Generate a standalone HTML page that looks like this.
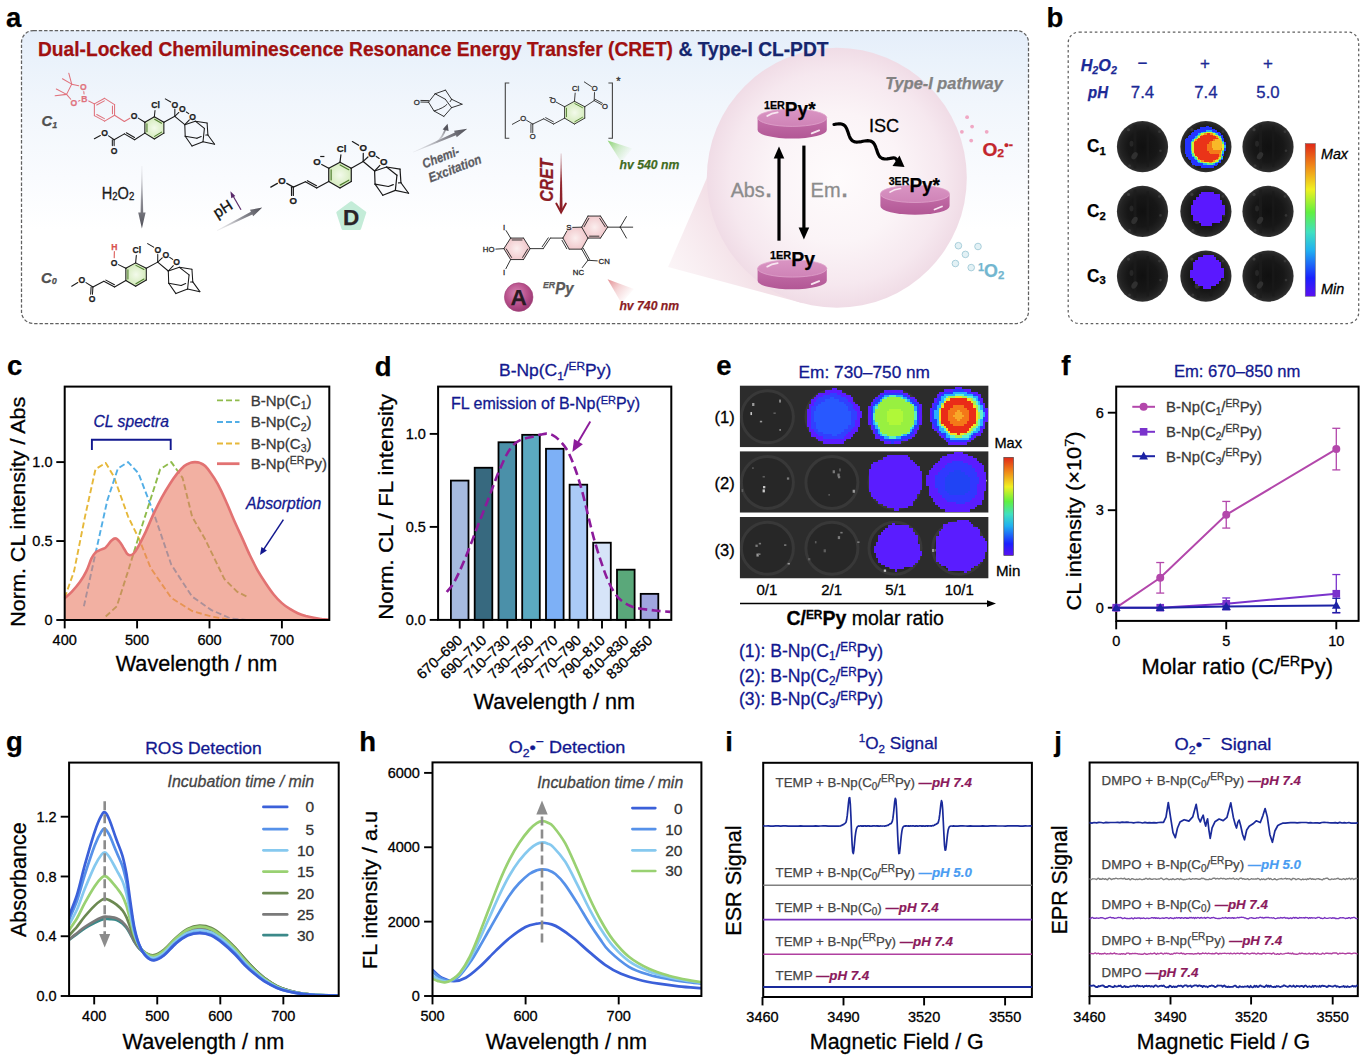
<!DOCTYPE html>
<html><head><meta charset="utf-8"><title>Figure</title>
<style>html,body{margin:0;padding:0;background:#fff;}body{width:1367px;height:1062px;overflow:hidden;}svg{display:block;font-family:"Liberation Sans",sans-serif;}text{white-space:pre;}</style></head>
<body>
<svg width="1367" height="1062" viewBox="0 0 1367 1062">
<defs>
<linearGradient id="bgA" x1="0" y1="0" x2="0" y2="1"><stop offset="0" stop-color="#e5eefa"/><stop offset="0.1" stop-color="#eaf2fb"/><stop offset="0.25" stop-color="#f1f6fc"/><stop offset="0.5" stop-color="#f9fbfe"/><stop offset="0.68" stop-color="#ffffff"/><stop offset="1" stop-color="#ffffff"/></linearGradient>
<linearGradient id="cone" gradientUnits="userSpaceOnUse" x1="668" y1="267" x2="730" y2="230"><stop offset="0" stop-color="#f8ecf0" stop-opacity="0.55"/><stop offset="1" stop-color="#f3e0e7" stop-opacity="1"/></linearGradient>
<radialGradient id="bigc" cx="50%" cy="50%" r="50%"><stop offset="0" stop-color="#fefbfc"/><stop offset="0.5" stop-color="#fbf4f7"/><stop offset="0.82" stop-color="#f6e8ef"/><stop offset="1" stop-color="#f0dce6"/></radialGradient>
<linearGradient id="discTop" x1="0" y1="0" x2="0" y2="1"><stop offset="0" stop-color="#d995c3"/><stop offset="1" stop-color="#cf83b7"/></linearGradient>
<linearGradient id="discSide" x1="0" y1="0" x2="0" y2="1"><stop offset="0" stop-color="#c46fa9"/><stop offset="1" stop-color="#b25795"/></linearGradient>
<radialGradient id="gC1" gradientUnits="userSpaceOnUse" cx="154.4" cy="127.9" r="11"><stop offset="0" stop-color="#f3faeb"/><stop offset="1" stop-color="#d3ebba"/></radialGradient>
<radialGradient id="gC0" gradientUnits="userSpaceOnUse" cx="136.1" cy="274.6" r="11"><stop offset="0" stop-color="#f3faeb"/><stop offset="1" stop-color="#d3ebba"/></radialGradient>
<radialGradient id="gD" gradientUnits="userSpaceOnUse" cx="340.0" cy="175.1" r="13"><stop offset="0" stop-color="#f3faeb"/><stop offset="1" stop-color="#d3ebba"/></radialGradient>
<radialGradient id="gE" gradientUnits="userSpaceOnUse" cx="574.7" cy="112.7" r="11"><stop offset="0" stop-color="#f3faeb"/><stop offset="1" stop-color="#d3ebba"/></radialGradient>
<radialGradient id="gP1" gradientUnits="userSpaceOnUse" cx="516.8" cy="248.6" r="13"><stop offset="0" stop-color="#fbeeee"/><stop offset="1" stop-color="#f0c4c8"/></radialGradient>
<radialGradient id="gP2" gradientUnits="userSpaceOnUse" cx="575.4" cy="238.1" r="13"><stop offset="0" stop-color="#fbeeee"/><stop offset="1" stop-color="#f0c4c8"/></radialGradient>
<radialGradient id="gP3" gradientUnits="userSpaceOnUse" cx="594.7" cy="227.2" r="13"><stop offset="0" stop-color="#fbeeee"/><stop offset="1" stop-color="#f0c4c8"/></radialGradient>
<linearGradient id="gaH" gradientUnits="userSpaceOnUse" x1="141.9" y1="166.0" x2="141.9" y2="228.5"><stop offset="0" stop-color="#c9c9cf" stop-opacity="0.25"/><stop offset="0.55" stop-color="#8a8a92" stop-opacity="0.95"/><stop offset="1" stop-color="#4e4e56"/></linearGradient>
<linearGradient id="gaP" gradientUnits="userSpaceOnUse" x1="217.0" y1="230.6" x2="262.3" y2="207.6"><stop offset="0" stop-color="#c9c9cf" stop-opacity="0.25"/><stop offset="0.55" stop-color="#8a8a92" stop-opacity="0.95"/><stop offset="1" stop-color="#4e4e56"/></linearGradient>
<linearGradient id="gaC2" gradientUnits="userSpaceOnUse" x1="437" y1="143" x2="447" y2="124"><stop offset="0" stop-color="#b5b5bb" stop-opacity="0.3"/><stop offset="1" stop-color="#55555d"/></linearGradient>
<linearGradient id="gaC" gradientUnits="userSpaceOnUse" x1="413.0" y1="152.2" x2="467.3" y2="128.8"><stop offset="0" stop-color="#c9c9cf" stop-opacity="0.25"/><stop offset="0.55" stop-color="#8a8a92" stop-opacity="0.95"/><stop offset="1" stop-color="#4e4e56"/></linearGradient>
<linearGradient id="gaR" gradientUnits="userSpaceOnUse" x1="561" y1="153" x2="561" y2="213"><stop offset="0" stop-color="#8b1c24" stop-opacity="0.25"/><stop offset="0.5" stop-color="#8b1c24" stop-opacity="0.95"/><stop offset="1" stop-color="#8b1c24"/></linearGradient>
<linearGradient id="bmG" gradientUnits="userSpaceOnUse" x1="607.6" y1="140.5" x2="628.1" y2="156.5"><stop offset="0" stop-color="#86d06a" stop-opacity="0.95"/><stop offset="0.5" stop-color="#86d06a" stop-opacity="0.35"/><stop offset="1" stop-color="#86d06a" stop-opacity="0"/></linearGradient>
<linearGradient id="bmR" gradientUnits="userSpaceOnUse" x1="607.6" y1="279.3" x2="629.0" y2="297.3"><stop offset="0" stop-color="#e28a8e" stop-opacity="0.95"/><stop offset="0.5" stop-color="#e28a8e" stop-opacity="0.35"/><stop offset="1" stop-color="#e28a8e" stop-opacity="0"/></linearGradient>
<radialGradient id="Ac" cx="42%" cy="38%" r="62%"><stop offset="0" stop-color="#d788b4"/><stop offset="0.6" stop-color="#b9518c"/><stop offset="1" stop-color="#9c3a74"/></radialGradient>
<linearGradient id="jetB" x1="0" y1="0" x2="0" y2="1"><stop offset="0.00" stop-color="#e02818"/><stop offset="0.15" stop-color="#f08a18"/><stop offset="0.30" stop-color="#f0f020"/><stop offset="0.45" stop-color="#60f040"/><stop offset="0.58" stop-color="#40e0c0"/><stop offset="0.70" stop-color="#20b0f0"/><stop offset="0.88" stop-color="#1a20ff"/><stop offset="1.00" stop-color="#5a10f0"/></linearGradient>
<radialGradient id="well" cx="50%" cy="50%" r="50%"><stop offset="0" stop-color="#101010"/><stop offset="0.6" stop-color="#171717"/><stop offset="0.85" stop-color="#222222"/><stop offset="0.96" stop-color="#2c2c2c"/><stop offset="1" stop-color="#383838"/></radialGradient>
<linearGradient id="jetE" x1="0" y1="0" x2="0" y2="1"><stop offset="0.00" stop-color="#e02818"/><stop offset="0.15" stop-color="#f08a18"/><stop offset="0.30" stop-color="#f0f020"/><stop offset="0.45" stop-color="#60f040"/><stop offset="0.58" stop-color="#40e0c0"/><stop offset="0.70" stop-color="#20b0f0"/><stop offset="0.88" stop-color="#1a20ff"/><stop offset="1.00" stop-color="#5a10f0"/></linearGradient>
<clipPath id="clipE"><rect x="739.7" y="385.4" width="248.9" height="61.9"/><rect x="739.7" y="451.2" width="248.9" height="61.5"/><rect x="739.7" y="517" width="248.9" height="61.5"/></clipPath>
</defs>
<text x="6.00" y="27.30" font-size="27.5" font-weight="bold" stroke="#000" stroke-width="0.25">a</text>
<rect x="21.50" y="30.50" width="1007.00" height="293.00" fill="url(#bgA)" stroke="#606060" stroke-width="1.25" rx="12" stroke-dasharray="3.4 1.9"/>
<polygon points="668.1,267.1 727.9,129.5 836,178 803.1,303.3" fill="url(#cone)"/>
<circle cx="836.80" cy="177.80" r="130.00" fill="url(#bigc)" stroke="none" stroke-width="1" />
<text x="38.00" y="55.80" font-size="19.5" font-weight="bold" fill="#a01010" textLength="635.0" lengthAdjust="spacingAndGlyphs" stroke="#a01010" stroke-width="0.25">Dual-Locked Chemiluminescence Resonance Energy Transfer (CRET)</text>
<text x="678.50" y="55.80" font-size="19.5" font-weight="bold" fill="#16266e" textLength="150.0" lengthAdjust="spacingAndGlyphs" stroke="#16266e" stroke-width="0.25">&amp; Type-I CL-PDT</text>
<path d="M757.6,117.8 L757.6,130.0 A34.6,8.6 0 0 0 826.8,130.0 L826.8,117.8 Z" fill="url(#discSide)"/>
<ellipse cx="792.2" cy="117.8" rx="34.6" ry="8.6" fill="url(#discTop)" stroke="#dfa3cc" stroke-width="0.8"/>
<path d="M767.2,116.0 Q771.2,113.2 777.7,112.4" stroke="#f8e6f1" stroke-width="1.7" fill="none" stroke-linecap="round"/>
<path d="M811.7,133.4 L819.2,130.4" stroke="#f8e6f1" stroke-width="1.8" fill="none" stroke-linecap="round"/>
<path d="M757.6,268.5 L757.6,280.7 A34.6,8.6 0 0 0 826.8,280.7 L826.8,268.5 Z" fill="url(#discSide)"/>
<ellipse cx="792.2" cy="268.5" rx="34.6" ry="8.6" fill="url(#discTop)" stroke="#dfa3cc" stroke-width="0.8"/>
<path d="M767.2,266.7 Q771.2,263.9 777.7,263.1" stroke="#f8e6f1" stroke-width="1.7" fill="none" stroke-linecap="round"/>
<path d="M811.7,284.1 L819.2,281.1" stroke="#f8e6f1" stroke-width="1.8" fill="none" stroke-linecap="round"/>
<path d="M880.4,193.9 L880.4,206.1 A34.6,8.6 0 0 0 949.6,206.1 L949.6,193.9 Z" fill="url(#discSide)"/>
<ellipse cx="915.0" cy="193.9" rx="34.6" ry="8.6" fill="url(#discTop)" stroke="#dfa3cc" stroke-width="0.8"/>
<path d="M890.0,192.1 Q894.0,189.3 900.5,188.5" stroke="#f8e6f1" stroke-width="1.7" fill="none" stroke-linecap="round"/>
<path d="M934.5,209.5 L942.0,206.5" stroke="#f8e6f1" stroke-width="1.8" fill="none" stroke-linecap="round"/>
<text x="764.00" y="116.30" font-size="20.5" font-weight="bold" textLength="51.6" lengthAdjust="spacingAndGlyphs" stroke="#000" stroke-width="0.25"><tspan font-size="11.5" dy="-7">1ER</tspan><tspan dy="7">Py*</tspan></text>
<text x="770.00" y="265.50" font-size="20.5" font-weight="bold" textLength="45.0" lengthAdjust="spacingAndGlyphs" stroke="#000" stroke-width="0.25"><tspan font-size="11.5" dy="-7">1ER</tspan><tspan dy="7">Py</tspan></text>
<text x="888.70" y="192.40" font-size="20.5" font-weight="bold" textLength="51.3" lengthAdjust="spacingAndGlyphs" stroke="#000" stroke-width="0.25"><tspan font-size="11.5" dy="-7">3ER</tspan><tspan dy="7">Py*</tspan></text>
<line x1="779.00" y1="240.70" x2="779.00" y2="158.00" stroke="#000" stroke-width="3.2" />
<polygon points="779.0,146.5 784.3,158.5 773.7,158.5" fill="#000"/>
<line x1="803.90" y1="145.60" x2="803.90" y2="228.10" stroke="#000" stroke-width="3.2" />
<polygon points="803.9,239.6 798.6,227.6 809.2,227.6" fill="#000"/>
<text x="730.70" y="196.80" font-size="20.5" fill="#8c8c8c" textLength="34.0" lengthAdjust="spacingAndGlyphs" stroke="#8c8c8c" stroke-width="0.3">Abs</text>
<text x="765.50" y="196.80" font-size="22" font-weight="bold" fill="#8c8c8c" stroke="#8c8c8c" stroke-width="0.25">.</text>
<text x="810.60" y="196.80" font-size="20.5" fill="#8c8c8c" textLength="30.0" lengthAdjust="spacingAndGlyphs" stroke="#8c8c8c" stroke-width="0.3">Em</text>
<text x="841.60" y="196.80" font-size="22" font-weight="bold" fill="#8c8c8c" stroke="#8c8c8c" stroke-width="0.25">.</text>
<text x="869.00" y="132.40" font-size="18.5" textLength="30.2" lengthAdjust="spacingAndGlyphs" stroke="#000" stroke-width="0.3">ISC</text>
<path d="M834.0,124.5 L835.6,124.2 L837.2,124.0 L838.7,123.8 L840.2,123.8 L841.5,124.0 L842.7,124.4 L843.8,125.0 L844.8,125.8 L845.6,126.8 L846.3,128.0 L847.0,129.4 L847.5,130.9 L848.1,132.4 L848.6,134.0 L849.1,135.5 L849.7,137.0 L850.3,138.3 L851.1,139.4 L852.0,140.4 L853.0,141.1 L854.1,141.6 L855.4,142.0 L856.7,142.1 L858.2,142.0 L859.8,141.8 L861.4,141.6 L863.0,141.3 L864.6,141.0 L866.2,140.8 L867.7,140.7 L869.1,140.8 L870.4,141.0 L871.5,141.5 L872.6,142.1 L873.5,143.0 L874.3,144.1 L875.0,145.4 L875.6,146.8 L876.1,148.3 L876.7,149.8 L877.2,151.4 L877.7,152.9 L878.3,154.3 L879.0,155.6 L879.8,156.7 L880.7,157.5 L881.8,158.2 L883.0,158.7 L884.3,158.9 L885.7,159.0 L887.2,158.9 L888.7,158.7 L890.3,158.4 L892.0,158.1 L893.6,157.8 L894.9,158.0 L895.9,158.7 L896.7,159.8 L897.4,161.1 L898.0,162.5" fill="none" stroke="#000" stroke-width="3.2" stroke-linejoin="round" stroke-linecap="round"/>
<polygon points="904.5,167 892.5,166 899.5,155.5" fill="#000"/>
<text x="885.20" y="88.50" font-size="17.3" font-weight="bold" font-style="italic" fill="#828282" textLength="117.6" lengthAdjust="spacingAndGlyphs" stroke="#828282" stroke-width="0.25">Type-I pathway</text>
<text x="982.40" y="155.80" font-size="18" font-weight="bold" fill="#c3262c" textLength="30.5" lengthAdjust="spacingAndGlyphs" stroke="#c3262c" stroke-width="0.25">O<tspan font-size="11.5" dy="1.5">2</tspan><tspan dy="-1.5" font-size="1">&#8203;</tspan><tspan font-size="12" dy="-7">•-</tspan></text>
<circle cx="967.10" cy="117.20" r="1.90" fill="#f0a8c4" stroke="none" stroke-width="1" />
<circle cx="972.10" cy="126.60" r="1.90" fill="#f0a8c4" stroke="none" stroke-width="1" />
<circle cx="961.90" cy="131.80" r="1.90" fill="#f0a8c4" stroke="none" stroke-width="1" />
<circle cx="986.70" cy="131.80" r="1.90" fill="#f0a8c4" stroke="none" stroke-width="1" />
<circle cx="971.20" cy="140.60" r="1.90" fill="#f0a8c4" stroke="none" stroke-width="1" />
<text x="978.00" y="277.30" font-size="18" font-weight="bold" fill="#72b6cf" textLength="26.3" lengthAdjust="spacingAndGlyphs" stroke="#72b6cf" stroke-width="0.25"><tspan font-size="11" dy="-6">1</tspan><tspan dy="6">O</tspan><tspan font-size="11.5" dy="1.5">2</tspan><tspan dy="-1.5" font-size="1">&#8203;</tspan></text>
<circle cx="958.40" cy="245.70" r="3.30" fill="#e3f1f5" stroke="#a9cfdb" stroke-width="1" />
<circle cx="978.00" cy="246.50" r="3.30" fill="#e3f1f5" stroke="#a9cfdb" stroke-width="1" />
<circle cx="965.40" cy="254.40" r="3.30" fill="#e3f1f5" stroke="#a9cfdb" stroke-width="1" />
<circle cx="955.40" cy="263.50" r="3.30" fill="#e3f1f5" stroke="#a9cfdb" stroke-width="1" />
<circle cx="971.20" cy="267.60" r="3.30" fill="#e3f1f5" stroke="#a9cfdb" stroke-width="1" />
<polygon points="144.9,122.2 154.4,116.8 163.9,122.2 163.9,133.2 154.4,139.0 144.9,133.2" fill="url(#gC1)"/>
<line x1="144.85" y1="122.18" x2="154.36" y2="116.77" stroke="#1a1a1a" stroke-width="1.05" stroke-linecap="round"/>
<line x1="154.36" y1="116.77" x2="163.87" y2="122.18" stroke="#1a1a1a" stroke-width="1.05" stroke-linecap="round"/>
<line x1="163.87" y1="122.18" x2="163.87" y2="133.15" stroke="#1a1a1a" stroke-width="1.05" stroke-linecap="round"/>
<line x1="163.87" y1="133.15" x2="154.36" y2="139.01" stroke="#1a1a1a" stroke-width="1.05" stroke-linecap="round"/>
<line x1="154.36" y1="139.01" x2="144.85" y2="133.15" stroke="#1a1a1a" stroke-width="1.05" stroke-linecap="round"/>
<line x1="144.85" y1="133.15" x2="144.85" y2="122.18" stroke="#1a1a1a" stroke-width="1.05" stroke-linecap="round"/>
<line x1="154.62" y1="119.33" x2="161.52" y2="123.26" stroke="#4f7d2e" stroke-width="1.05" stroke-linecap="round"/>
<line x1="161.55" y1="132.11" x2="154.60" y2="136.39" stroke="#4f7d2e" stroke-width="1.05" stroke-linecap="round"/>
<line x1="146.95" y1="131.67" x2="146.95" y2="123.70" stroke="#4f7d2e" stroke-width="1.05" stroke-linecap="round"/>
<line x1="138.27" y1="118.12" x2="144.85" y2="122.18" stroke="#1a1a1a" stroke-width="1.05" stroke-linecap="round"/>
<line x1="154.36" y1="116.77" x2="155.00" y2="110.53" stroke="#1a1a1a" stroke-width="1.05" stroke-linecap="round"/>
<line x1="163.87" y1="122.18" x2="174.80" y2="116.30" stroke="#1a1a1a" stroke-width="1.05" stroke-linecap="round"/>
<line x1="174.80" y1="116.30" x2="174.86" y2="109.32" stroke="#1a1a1a" stroke-width="1.05" stroke-linecap="round"/>
<line x1="170.74" y1="102.07" x2="165.30" y2="98.90" stroke="#1a1a1a" stroke-width="1.05" stroke-linecap="round"/>
<line x1="174.80" y1="116.30" x2="178.88" y2="112.49" stroke="#1a1a1a" stroke-width="1.05" stroke-linecap="round"/>
<line x1="186.35" y1="111.96" x2="188.75" y2="113.64" stroke="#1a1a1a" stroke-width="1.05" stroke-linecap="round"/>
<line x1="189.38" y1="119.89" x2="184.80" y2="124.70" stroke="#1a1a1a" stroke-width="1.05" stroke-linecap="round"/>
<line x1="174.80" y1="116.30" x2="184.80" y2="124.70" stroke="#1a1a1a" stroke-width="1.05" stroke-linecap="round"/>
<line x1="184.80" y1="124.70" x2="195.30" y2="121.20" stroke="#1a1a1a" stroke-width="1.05" stroke-linecap="round"/>
<line x1="195.30" y1="121.20" x2="207.10" y2="123.05" stroke="#1a1a1a" stroke-width="1.05" stroke-linecap="round"/>
<line x1="207.10" y1="123.05" x2="207.90" y2="135.00" stroke="#1a1a1a" stroke-width="1.05" stroke-linecap="round"/>
<line x1="207.90" y1="135.00" x2="214.60" y2="144.20" stroke="#1a1a1a" stroke-width="1.05" stroke-linecap="round"/>
<line x1="214.60" y1="144.20" x2="203.00" y2="141.70" stroke="#1a1a1a" stroke-width="1.05" stroke-linecap="round"/>
<line x1="203.00" y1="141.70" x2="192.00" y2="146.00" stroke="#1a1a1a" stroke-width="1.05" stroke-linecap="round"/>
<line x1="192.00" y1="146.00" x2="185.20" y2="136.20" stroke="#1a1a1a" stroke-width="1.05" stroke-linecap="round"/>
<line x1="185.20" y1="136.20" x2="184.80" y2="124.70" stroke="#1a1a1a" stroke-width="1.05" stroke-linecap="round"/>
<line x1="195.30" y1="121.20" x2="204.40" y2="128.40" stroke="#1a1a1a" stroke-width="1.05" stroke-linecap="round"/>
<line x1="204.40" y1="128.40" x2="203.00" y2="141.70" stroke="#1a1a1a" stroke-width="1.05" stroke-linecap="round"/>
<line x1="185.20" y1="136.20" x2="196.90" y2="138.30" stroke="#1a1a1a" stroke-width="1.05" stroke-linecap="round"/>
<line x1="196.90" y1="138.30" x2="201.20" y2="136.60" stroke="#1a1a1a" stroke-width="1.05" stroke-linecap="round"/>
<line x1="205.80" y1="135.10" x2="207.90" y2="135.00" stroke="#1a1a1a" stroke-width="1.05" stroke-linecap="round"/>
<line x1="144.85" y1="133.15" x2="134.61" y2="139.74" stroke="#1a1a1a" stroke-width="1.05" stroke-linecap="round"/>
<line x1="134.61" y1="139.74" x2="124.37" y2="133.88" stroke="#1a1a1a" stroke-width="1.05" stroke-linecap="round"/>
<line x1="134.51" y1="137.49" x2="126.35" y2="132.83" stroke="#1a1a1a" stroke-width="1.05" stroke-linecap="round"/>
<line x1="124.37" y1="133.88" x2="114.13" y2="139.74" stroke="#1a1a1a" stroke-width="1.05" stroke-linecap="round"/>
<line x1="114.13" y1="139.74" x2="114.13" y2="145.60" stroke="#1a1a1a" stroke-width="1.05" stroke-linecap="round"/>
<line x1="112.33" y1="139.74" x2="112.33" y2="145.60" stroke="#1a1a1a" stroke-width="1.05" stroke-linecap="round"/>
<line x1="114.13" y1="139.74" x2="108.58" y2="135.89" stroke="#1a1a1a" stroke-width="1.05" stroke-linecap="round"/>
<line x1="100.38" y1="135.45" x2="94.37" y2="138.71" stroke="#1a1a1a" stroke-width="1.05" stroke-linecap="round"/>
<text x="134.17" y="118.69" font-size="8.6" text-anchor="middle" font-weight="bold" fill="#1a1a1a" stroke="#1a1a1a" stroke-width="0.25">O</text>
<text x="155.53" y="108.45" font-size="8.6" text-anchor="middle" font-weight="bold" fill="#1a1a1a" stroke="#1a1a1a" stroke-width="0.25">Cl</text>
<text x="174.90" y="107.60" font-size="8.6" text-anchor="middle" font-weight="bold" fill="#1a1a1a" stroke="#1a1a1a" stroke-width="0.25">O</text>
<text x="182.40" y="112.30" font-size="8.6" text-anchor="middle" font-weight="bold" fill="#1a1a1a" stroke="#1a1a1a" stroke-width="0.25">O</text>
<text x="192.70" y="119.50" font-size="8.6" text-anchor="middle" font-weight="bold" fill="#1a1a1a" stroke="#1a1a1a" stroke-width="0.25">O</text>
<text x="114.13" y="153.51" font-size="8.6" text-anchor="middle" font-weight="bold" fill="#1a1a1a" stroke="#1a1a1a" stroke-width="0.25">O</text>
<text x="104.62" y="136.25" font-size="8.6" text-anchor="middle" font-weight="bold" fill="#1a1a1a" stroke="#1a1a1a" stroke-width="0.25">O</text>
<line x1="68.77" y1="73.17" x2="71.70" y2="84.14" stroke="#e0727c" stroke-width="1.05" stroke-linecap="round"/>
<line x1="62.48" y1="78.73" x2="71.70" y2="84.14" stroke="#e0727c" stroke-width="1.05" stroke-linecap="round"/>
<line x1="56.34" y1="88.97" x2="66.58" y2="94.38" stroke="#e0727c" stroke-width="1.05" stroke-linecap="round"/>
<line x1="55.16" y1="95.84" x2="66.58" y2="94.38" stroke="#e0727c" stroke-width="1.05" stroke-linecap="round"/>
<line x1="71.70" y1="84.14" x2="66.58" y2="94.38" stroke="#e0727c" stroke-width="1.05" stroke-linecap="round"/>
<line x1="71.70" y1="84.14" x2="78.70" y2="85.72" stroke="#e0727c" stroke-width="1.05" stroke-linecap="round"/>
<line x1="66.58" y1="94.38" x2="70.75" y2="99.22" stroke="#e0727c" stroke-width="1.05" stroke-linecap="round"/>
<line x1="83.81" y1="91.57" x2="84.02" y2="93.97" stroke="#e0727c" stroke-width="1.05" stroke-linecap="round"/>
<line x1="78.38" y1="101.12" x2="79.94" y2="100.52" stroke="#e0727c" stroke-width="1.05" stroke-linecap="round"/>
<line x1="88.71" y1="100.98" x2="94.37" y2="103.89" stroke="#e0727c" stroke-width="1.05" stroke-linecap="round"/>
<line x1="114.56" y1="115.30" x2="124.37" y2="121.45" stroke="#e0727c" stroke-width="1.05" stroke-linecap="round"/>
<line x1="124.37" y1="121.45" x2="129.87" y2="118.20" stroke="#e0727c" stroke-width="1.05" stroke-linecap="round"/>
<line x1="94.37" y1="103.89" x2="104.62" y2="98.33" stroke="#e0727c" stroke-width="1.05" stroke-linecap="round"/>
<line x1="104.62" y1="98.33" x2="114.56" y2="104.62" stroke="#e0727c" stroke-width="1.05" stroke-linecap="round"/>
<line x1="114.56" y1="104.62" x2="114.56" y2="115.30" stroke="#e0727c" stroke-width="1.05" stroke-linecap="round"/>
<line x1="114.56" y1="115.30" x2="104.62" y2="121.16" stroke="#e0727c" stroke-width="1.05" stroke-linecap="round"/>
<line x1="104.62" y1="121.16" x2="94.37" y2="115.60" stroke="#e0727c" stroke-width="1.05" stroke-linecap="round"/>
<line x1="94.37" y1="115.60" x2="94.37" y2="103.89" stroke="#e0727c" stroke-width="1.05" stroke-linecap="round"/>
<line x1="96.74" y1="105.00" x2="104.35" y2="100.87" stroke="#e0727c" stroke-width="1.05" stroke-linecap="round"/>
<line x1="112.46" y1="106.09" x2="112.46" y2="113.77" stroke="#e0727c" stroke-width="1.05" stroke-linecap="round"/>
<line x1="104.36" y1="118.63" x2="96.76" y2="114.50" stroke="#e0727c" stroke-width="1.05" stroke-linecap="round"/>
<text x="83.40" y="89.87" font-size="8.6" text-anchor="middle" font-weight="bold" fill="#e0727c" stroke="#e0727c" stroke-width="0.25">O</text>
<text x="73.89" y="105.96" font-size="8.6" text-anchor="middle" font-weight="bold" fill="#e0727c" stroke="#e0727c" stroke-width="0.25">O</text>
<text x="84.43" y="101.87" font-size="8.6" text-anchor="middle" font-weight="bold" fill="#e0727c" stroke="#e0727c" stroke-width="0.25">B</text>
<text x="41.50" y="126.00" font-size="14.8" font-weight="bold" font-style="italic" fill="#505050" stroke="#505050" stroke-width="0.25">C<tspan font-size="9" dy="1.5">1</tspan><tspan dy="-1.5" font-size="1">&#8203;</tspan></text>
<polygon points="125.8,268.3 135.6,262.9 146.3,268.3 146.3,280.0 135.6,286.3 125.8,280.5" fill="url(#gC0)"/>
<line x1="125.83" y1="268.32" x2="135.63" y2="262.90" stroke="#1a1a1a" stroke-width="1.05" stroke-linecap="round"/>
<line x1="135.63" y1="262.90" x2="146.31" y2="268.32" stroke="#1a1a1a" stroke-width="1.05" stroke-linecap="round"/>
<line x1="146.31" y1="268.32" x2="146.31" y2="280.02" stroke="#1a1a1a" stroke-width="1.05" stroke-linecap="round"/>
<line x1="146.31" y1="280.02" x2="135.63" y2="286.31" stroke="#1a1a1a" stroke-width="1.05" stroke-linecap="round"/>
<line x1="135.63" y1="286.31" x2="125.83" y2="280.46" stroke="#1a1a1a" stroke-width="1.05" stroke-linecap="round"/>
<line x1="125.83" y1="280.46" x2="125.83" y2="268.32" stroke="#1a1a1a" stroke-width="1.05" stroke-linecap="round"/>
<line x1="135.92" y1="265.40" x2="143.93" y2="269.46" stroke="#4f7d2e" stroke-width="1.05" stroke-linecap="round"/>
<line x1="143.97" y1="278.96" x2="135.88" y2="283.73" stroke="#4f7d2e" stroke-width="1.05" stroke-linecap="round"/>
<line x1="127.93" y1="278.96" x2="127.93" y2="269.82" stroke="#4f7d2e" stroke-width="1.05" stroke-linecap="round"/>
<line x1="118.43" y1="264.62" x2="125.83" y2="268.32" stroke="#1a1a1a" stroke-width="1.05" stroke-linecap="round"/>
<line x1="114.22" y1="257.65" x2="114.33" y2="251.41" stroke="#d9534f" stroke-width="1.05" stroke-linecap="round"/>
<line x1="135.63" y1="262.90" x2="136.33" y2="255.35" stroke="#1a1a1a" stroke-width="1.05" stroke-linecap="round"/>
<line x1="146.31" y1="268.32" x2="157.70" y2="262.10" stroke="#1a1a1a" stroke-width="1.05" stroke-linecap="round"/>
<line x1="157.70" y1="262.10" x2="157.77" y2="254.40" stroke="#1a1a1a" stroke-width="1.05" stroke-linecap="round"/>
<line x1="153.65" y1="247.16" x2="147.63" y2="243.65" stroke="#1a1a1a" stroke-width="1.05" stroke-linecap="round"/>
<line x1="157.70" y1="262.10" x2="162.24" y2="257.86" stroke="#1a1a1a" stroke-width="1.05" stroke-linecap="round"/>
<line x1="169.70" y1="257.33" x2="172.73" y2="259.44" stroke="#1a1a1a" stroke-width="1.05" stroke-linecap="round"/>
<line x1="173.35" y1="265.69" x2="168.30" y2="271.00" stroke="#1a1a1a" stroke-width="1.05" stroke-linecap="round"/>
<line x1="157.70" y1="262.10" x2="168.30" y2="271.00" stroke="#1a1a1a" stroke-width="1.05" stroke-linecap="round"/>
<line x1="168.30" y1="271.00" x2="179.43" y2="267.29" stroke="#1a1a1a" stroke-width="1.05" stroke-linecap="round"/>
<line x1="179.43" y1="267.29" x2="191.94" y2="269.25" stroke="#1a1a1a" stroke-width="1.05" stroke-linecap="round"/>
<line x1="191.94" y1="269.25" x2="192.79" y2="281.92" stroke="#1a1a1a" stroke-width="1.05" stroke-linecap="round"/>
<line x1="192.79" y1="281.92" x2="199.89" y2="291.67" stroke="#1a1a1a" stroke-width="1.05" stroke-linecap="round"/>
<line x1="199.89" y1="291.67" x2="187.59" y2="289.02" stroke="#1a1a1a" stroke-width="1.05" stroke-linecap="round"/>
<line x1="187.59" y1="289.02" x2="175.93" y2="293.58" stroke="#1a1a1a" stroke-width="1.05" stroke-linecap="round"/>
<line x1="175.93" y1="293.58" x2="168.72" y2="283.19" stroke="#1a1a1a" stroke-width="1.05" stroke-linecap="round"/>
<line x1="168.72" y1="283.19" x2="168.30" y2="271.00" stroke="#1a1a1a" stroke-width="1.05" stroke-linecap="round"/>
<line x1="179.43" y1="267.29" x2="189.08" y2="274.92" stroke="#1a1a1a" stroke-width="1.05" stroke-linecap="round"/>
<line x1="189.08" y1="274.92" x2="187.59" y2="289.02" stroke="#1a1a1a" stroke-width="1.05" stroke-linecap="round"/>
<line x1="168.72" y1="283.19" x2="181.13" y2="285.42" stroke="#1a1a1a" stroke-width="1.05" stroke-linecap="round"/>
<line x1="181.13" y1="285.42" x2="185.68" y2="283.61" stroke="#1a1a1a" stroke-width="1.05" stroke-linecap="round"/>
<line x1="190.56" y1="282.02" x2="192.79" y2="281.92" stroke="#1a1a1a" stroke-width="1.05" stroke-linecap="round"/>
<line x1="125.83" y1="280.46" x2="114.56" y2="287.04" stroke="#1a1a1a" stroke-width="1.05" stroke-linecap="round"/>
<line x1="114.56" y1="287.04" x2="103.88" y2="281.19" stroke="#1a1a1a" stroke-width="1.05" stroke-linecap="round"/>
<line x1="114.43" y1="284.80" x2="105.85" y2="280.10" stroke="#1a1a1a" stroke-width="1.05" stroke-linecap="round"/>
<line x1="103.88" y1="281.19" x2="92.91" y2="287.04" stroke="#1a1a1a" stroke-width="1.05" stroke-linecap="round"/>
<line x1="92.91" y1="287.04" x2="92.47" y2="294.23" stroke="#1a1a1a" stroke-width="1.05" stroke-linecap="round"/>
<line x1="91.11" y1="286.94" x2="90.68" y2="294.13" stroke="#1a1a1a" stroke-width="1.05" stroke-linecap="round"/>
<line x1="92.91" y1="287.04" x2="85.99" y2="282.62" stroke="#1a1a1a" stroke-width="1.05" stroke-linecap="round"/>
<line x1="77.83" y1="282.54" x2="71.70" y2="286.31" stroke="#1a1a1a" stroke-width="1.05" stroke-linecap="round"/>
<text x="114.13" y="265.56" font-size="8.6" text-anchor="middle" font-weight="bold" fill="#1a1a1a" stroke="#1a1a1a" stroke-width="0.25">O</text>
<text x="114.42" y="249.91" font-size="8.6" text-anchor="middle" font-weight="bold" fill="#d9534f" stroke="#d9534f" stroke-width="0.25">H</text>
<text x="136.80" y="253.27" font-size="8.6" text-anchor="middle" font-weight="bold" fill="#1a1a1a" stroke="#1a1a1a" stroke-width="0.25">Cl</text>
<text x="157.81" y="252.68" font-size="8.6" text-anchor="middle" font-weight="bold" fill="#1a1a1a" stroke="#1a1a1a" stroke-width="0.25">O</text>
<text x="165.76" y="257.67" font-size="8.6" text-anchor="middle" font-weight="bold" fill="#1a1a1a" stroke="#1a1a1a" stroke-width="0.25">O</text>
<text x="176.67" y="265.30" font-size="8.6" text-anchor="middle" font-weight="bold" fill="#1a1a1a" stroke="#1a1a1a" stroke-width="0.25">O</text>
<text x="92.18" y="302.14" font-size="8.6" text-anchor="middle" font-weight="bold" fill="#1a1a1a" stroke="#1a1a1a" stroke-width="0.25">O</text>
<text x="81.94" y="283.12" font-size="8.6" text-anchor="middle" font-weight="bold" fill="#1a1a1a" stroke="#1a1a1a" stroke-width="0.25">O</text>
<text x="41.00" y="282.50" font-size="14.8" font-weight="bold" font-style="italic" fill="#505050" stroke="#505050" stroke-width="0.25">C<tspan font-size="9" dy="1.5">0</tspan><tspan dy="-1.5" font-size="1">&#8203;</tspan></text>
<polygon points="328.7,168.3 340.0,162.2 351.3,168.3 351.3,181.5 340.0,187.9 328.7,181.5" fill="url(#gD)"/>
<line x1="328.74" y1="168.30" x2="340.01" y2="162.19" stroke="#1a1a1a" stroke-width="1.2" stroke-linecap="round"/>
<line x1="340.01" y1="162.19" x2="351.27" y2="168.30" stroke="#1a1a1a" stroke-width="1.2" stroke-linecap="round"/>
<line x1="351.27" y1="168.30" x2="351.27" y2="181.50" stroke="#1a1a1a" stroke-width="1.2" stroke-linecap="round"/>
<line x1="351.27" y1="181.50" x2="340.01" y2="187.93" stroke="#1a1a1a" stroke-width="1.2" stroke-linecap="round"/>
<line x1="340.01" y1="187.93" x2="328.74" y2="181.50" stroke="#1a1a1a" stroke-width="1.2" stroke-linecap="round"/>
<line x1="328.74" y1="181.50" x2="328.74" y2="168.30" stroke="#1a1a1a" stroke-width="1.2" stroke-linecap="round"/>
<line x1="340.12" y1="164.98" x2="348.75" y2="169.66" stroke="#4f7d2e" stroke-width="1.2" stroke-linecap="round"/>
<line x1="348.77" y1="180.16" x2="340.11" y2="185.11" stroke="#4f7d2e" stroke-width="1.2" stroke-linecap="round"/>
<line x1="331.14" y1="180.01" x2="331.14" y2="169.81" stroke="#4f7d2e" stroke-width="1.2" stroke-linecap="round"/>
<line x1="321.71" y1="164.45" x2="328.74" y2="168.30" stroke="#1a1a1a" stroke-width="1.2" stroke-linecap="round"/>
<line x1="340.01" y1="162.19" x2="340.89" y2="154.95" stroke="#1a1a1a" stroke-width="1.2" stroke-linecap="round"/>
<line x1="351.27" y1="168.30" x2="363.20" y2="161.42" stroke="#1a1a1a" stroke-width="1.2" stroke-linecap="round"/>
<line x1="363.20" y1="161.42" x2="363.27" y2="153.35" stroke="#1a1a1a" stroke-width="1.2" stroke-linecap="round"/>
<line x1="358.67" y1="145.26" x2="352.37" y2="141.59" stroke="#1a1a1a" stroke-width="1.2" stroke-linecap="round"/>
<line x1="363.20" y1="161.42" x2="367.94" y2="157.00" stroke="#1a1a1a" stroke-width="1.2" stroke-linecap="round"/>
<line x1="376.27" y1="156.41" x2="379.20" y2="158.46" stroke="#1a1a1a" stroke-width="1.2" stroke-linecap="round"/>
<line x1="379.90" y1="165.43" x2="374.60" y2="171.00" stroke="#1a1a1a" stroke-width="1.2" stroke-linecap="round"/>
<line x1="363.20" y1="161.42" x2="374.60" y2="171.00" stroke="#1a1a1a" stroke-width="1.2" stroke-linecap="round"/>
<line x1="374.60" y1="171.00" x2="386.57" y2="167.01" stroke="#1a1a1a" stroke-width="1.2" stroke-linecap="round"/>
<line x1="386.57" y1="167.01" x2="400.02" y2="169.12" stroke="#1a1a1a" stroke-width="1.2" stroke-linecap="round"/>
<line x1="400.02" y1="169.12" x2="400.93" y2="182.74" stroke="#1a1a1a" stroke-width="1.2" stroke-linecap="round"/>
<line x1="400.93" y1="182.74" x2="408.57" y2="193.23" stroke="#1a1a1a" stroke-width="1.2" stroke-linecap="round"/>
<line x1="408.57" y1="193.23" x2="395.35" y2="190.38" stroke="#1a1a1a" stroke-width="1.2" stroke-linecap="round"/>
<line x1="395.35" y1="190.38" x2="382.81" y2="195.28" stroke="#1a1a1a" stroke-width="1.2" stroke-linecap="round"/>
<line x1="382.81" y1="195.28" x2="375.06" y2="184.11" stroke="#1a1a1a" stroke-width="1.2" stroke-linecap="round"/>
<line x1="375.06" y1="184.11" x2="374.60" y2="171.00" stroke="#1a1a1a" stroke-width="1.2" stroke-linecap="round"/>
<line x1="386.57" y1="167.01" x2="396.94" y2="175.22" stroke="#1a1a1a" stroke-width="1.2" stroke-linecap="round"/>
<line x1="396.94" y1="175.22" x2="395.35" y2="190.38" stroke="#1a1a1a" stroke-width="1.2" stroke-linecap="round"/>
<line x1="375.06" y1="184.11" x2="388.39" y2="186.50" stroke="#1a1a1a" stroke-width="1.2" stroke-linecap="round"/>
<line x1="388.39" y1="186.50" x2="393.30" y2="184.57" stroke="#1a1a1a" stroke-width="1.2" stroke-linecap="round"/>
<line x1="398.54" y1="182.86" x2="400.93" y2="182.74" stroke="#1a1a1a" stroke-width="1.2" stroke-linecap="round"/>
<line x1="328.74" y1="181.50" x2="316.67" y2="187.93" stroke="#1a1a1a" stroke-width="1.2" stroke-linecap="round"/>
<line x1="316.67" y1="187.93" x2="305.41" y2="181.82" stroke="#1a1a1a" stroke-width="1.2" stroke-linecap="round"/>
<line x1="316.52" y1="185.69" x2="307.37" y2="180.72" stroke="#1a1a1a" stroke-width="1.2" stroke-linecap="round"/>
<line x1="305.41" y1="181.82" x2="293.34" y2="187.13" stroke="#1a1a1a" stroke-width="1.2" stroke-linecap="round"/>
<line x1="293.34" y1="187.13" x2="293.34" y2="195.43" stroke="#1a1a1a" stroke-width="1.2" stroke-linecap="round"/>
<line x1="291.54" y1="187.13" x2="291.54" y2="195.43" stroke="#1a1a1a" stroke-width="1.2" stroke-linecap="round"/>
<line x1="293.34" y1="187.13" x2="286.74" y2="183.36" stroke="#1a1a1a" stroke-width="1.2" stroke-linecap="round"/>
<line x1="277.41" y1="183.36" x2="270.81" y2="187.13" stroke="#1a1a1a" stroke-width="1.2" stroke-linecap="round"/>
<text x="316.99" y="165.32" font-size="9.6" text-anchor="middle" font-weight="bold" fill="#1a1a1a" stroke="#1a1a1a" stroke-width="0.25">O</text>
<text x="341.62" y="152.45" font-size="9.6" text-anchor="middle" font-weight="bold" fill="#1a1a1a" stroke="#1a1a1a" stroke-width="0.25">Cl</text>
<text x="363.31" y="151.43" font-size="9.6" text-anchor="middle" font-weight="bold" fill="#1a1a1a" stroke="#1a1a1a" stroke-width="0.25">O</text>
<text x="371.86" y="156.79" font-size="9.6" text-anchor="middle" font-weight="bold" fill="#1a1a1a" stroke="#1a1a1a" stroke-width="0.25">O</text>
<text x="383.61" y="164.99" font-size="9.6" text-anchor="middle" font-weight="bold" fill="#1a1a1a" stroke="#1a1a1a" stroke-width="0.25">O</text>
<text x="293.34" y="204.26" font-size="9.6" text-anchor="middle" font-weight="bold" fill="#1a1a1a" stroke="#1a1a1a" stroke-width="0.25">O</text>
<text x="282.07" y="184.15" font-size="9.6" text-anchor="middle" font-weight="bold" fill="#1a1a1a" stroke="#1a1a1a" stroke-width="0.25">O</text>
<line x1="320.20" y1="156.50" x2="324.40" y2="156.50" stroke="#1a1a1a" stroke-width="1.2" />
<polygon points="564.6,106.7 574.5,101.3 584.8,106.7 584.8,118.2 574.5,124.1 564.6,118.2" fill="url(#gE)"/>
<line x1="564.58" y1="106.74" x2="574.46" y2="101.26" stroke="#2a2a2a" stroke-width="0.9" stroke-linecap="round"/>
<line x1="574.46" y1="101.26" x2="584.77" y2="106.74" stroke="#2a2a2a" stroke-width="0.9" stroke-linecap="round"/>
<line x1="584.77" y1="106.74" x2="584.77" y2="118.15" stroke="#2a2a2a" stroke-width="0.9" stroke-linecap="round"/>
<line x1="584.77" y1="118.15" x2="574.46" y2="124.08" stroke="#2a2a2a" stroke-width="0.9" stroke-linecap="round"/>
<line x1="574.46" y1="124.08" x2="564.58" y2="118.15" stroke="#2a2a2a" stroke-width="0.9" stroke-linecap="round"/>
<line x1="564.58" y1="118.15" x2="564.58" y2="106.74" stroke="#2a2a2a" stroke-width="0.9" stroke-linecap="round"/>
<line x1="574.82" y1="103.60" x2="582.48" y2="107.67" stroke="#4f7d2e" stroke-width="0.9" stroke-linecap="round"/>
<line x1="582.51" y1="117.26" x2="574.80" y2="121.69" stroke="#4f7d2e" stroke-width="0.9" stroke-linecap="round"/>
<line x1="566.48" y1="116.67" x2="566.48" y2="108.26" stroke="#4f7d2e" stroke-width="0.9" stroke-linecap="round"/>
<line x1="556.11" y1="102.11" x2="564.58" y2="106.74" stroke="#2a2a2a" stroke-width="0.9" stroke-linecap="round"/>
<line x1="574.46" y1="101.26" x2="575.17" y2="93.13" stroke="#2a2a2a" stroke-width="0.9" stroke-linecap="round"/>
<line x1="584.77" y1="106.74" x2="594.21" y2="100.60" stroke="#2a2a2a" stroke-width="0.9" stroke-linecap="round"/>
<line x1="594.21" y1="100.60" x2="594.50" y2="92.54" stroke="#2a2a2a" stroke-width="0.9" stroke-linecap="round"/>
<line x1="591.47" y1="86.65" x2="584.33" y2="81.94" stroke="#2a2a2a" stroke-width="0.9" stroke-linecap="round"/>
<line x1="594.21" y1="100.60" x2="601.63" y2="104.69" stroke="#2a2a2a" stroke-width="0.9" stroke-linecap="round"/>
<line x1="594.98" y1="99.20" x2="602.40" y2="103.29" stroke="#2a2a2a" stroke-width="0.9" stroke-linecap="round"/>
<line x1="564.58" y1="118.15" x2="553.61" y2="124.08" stroke="#2a2a2a" stroke-width="0.9" stroke-linecap="round"/>
<line x1="553.61" y1="124.08" x2="543.73" y2="118.81" stroke="#2a2a2a" stroke-width="0.9" stroke-linecap="round"/>
<line x1="553.45" y1="121.84" x2="545.69" y2="117.70" stroke="#2a2a2a" stroke-width="0.9" stroke-linecap="round"/>
<line x1="543.73" y1="118.81" x2="532.76" y2="124.08" stroke="#2a2a2a" stroke-width="0.9" stroke-linecap="round"/>
<line x1="532.76" y1="124.08" x2="532.76" y2="132.57" stroke="#2a2a2a" stroke-width="0.9" stroke-linecap="round"/>
<line x1="530.96" y1="124.08" x2="530.96" y2="132.57" stroke="#2a2a2a" stroke-width="0.9" stroke-linecap="round"/>
<line x1="532.76" y1="124.08" x2="526.58" y2="120.34" stroke="#2a2a2a" stroke-width="0.9" stroke-linecap="round"/>
<line x1="519.98" y1="120.18" x2="512.35" y2="124.30" stroke="#2a2a2a" stroke-width="0.9" stroke-linecap="round"/>
<text x="552.95" y="103.11" font-size="7.6" text-anchor="middle" fill="#2a2a2a" stroke="#2a2a2a" stroke-width="0.3">O</text>
<text x="575.55" y="91.48" font-size="7.6" text-anchor="middle" fill="#2a2a2a" stroke="#2a2a2a" stroke-width="0.3">Cl</text>
<text x="594.65" y="91.48" font-size="7.6" text-anchor="middle" fill="#2a2a2a" stroke="#2a2a2a" stroke-width="0.3">O</text>
<text x="604.96" y="109.26" font-size="7.6" text-anchor="middle" fill="#2a2a2a" stroke="#2a2a2a" stroke-width="0.3">O</text>
<text x="532.76" y="139.10" font-size="7.6" text-anchor="middle" fill="#2a2a2a" stroke="#2a2a2a" stroke-width="0.3">O</text>
<text x="523.33" y="121.11" font-size="7.6" text-anchor="middle" fill="#2a2a2a" stroke="#2a2a2a" stroke-width="0.3">O</text>
<line x1="549.30" y1="97.60" x2="552.20" y2="97.60" stroke="#2a2a2a" stroke-width="0.9" />
<path d="M509.3,83 L505.3,83 L505.3,138.3 L509.3,138.3" fill="none" stroke="#444" stroke-width="1.1" />
<path d="M608.4,83 L612.4,83 L612.4,138.3 L608.4,138.3" fill="none" stroke="#444" stroke-width="1.1" />
<text x="618.30" y="84.50" font-size="11" text-anchor="middle" fill="#333" stroke="#333" stroke-width="0.3">*</text>
<line x1="420.82" y1="102.04" x2="428.53" y2="102.19" stroke="#2a2a2a" stroke-width="0.95" stroke-linecap="round"/>
<line x1="420.85" y1="100.44" x2="428.56" y2="100.59" stroke="#2a2a2a" stroke-width="0.95" stroke-linecap="round"/>
<line x1="428.53" y1="102.19" x2="435.11" y2="93.77" stroke="#2a2a2a" stroke-width="0.95" stroke-linecap="round"/>
<line x1="435.11" y1="93.77" x2="445.50" y2="90.12" stroke="#2a2a2a" stroke-width="0.95" stroke-linecap="round"/>
<line x1="445.50" y1="90.12" x2="451.57" y2="99.26" stroke="#2a2a2a" stroke-width="0.95" stroke-linecap="round"/>
<line x1="451.57" y1="99.26" x2="462.03" y2="104.24" stroke="#2a2a2a" stroke-width="0.95" stroke-linecap="round"/>
<line x1="462.03" y1="104.24" x2="451.57" y2="107.67" stroke="#2a2a2a" stroke-width="0.95" stroke-linecap="round"/>
<line x1="451.57" y1="107.67" x2="443.89" y2="116.45" stroke="#2a2a2a" stroke-width="0.95" stroke-linecap="round"/>
<line x1="443.89" y1="116.45" x2="434.02" y2="110.97" stroke="#2a2a2a" stroke-width="0.95" stroke-linecap="round"/>
<line x1="434.02" y1="110.97" x2="428.53" y2="102.19" stroke="#2a2a2a" stroke-width="0.95" stroke-linecap="round"/>
<line x1="435.11" y1="93.77" x2="445.35" y2="99.26" stroke="#2a2a2a" stroke-width="0.95" stroke-linecap="round"/>
<line x1="445.35" y1="99.26" x2="451.57" y2="107.67" stroke="#2a2a2a" stroke-width="0.95" stroke-linecap="round"/>
<line x1="451.57" y1="99.26" x2="450.18" y2="101.60" stroke="#2a2a2a" stroke-width="0.95" stroke-linecap="round"/>
<path d="M434.0,111.0 Q443.9,108.0 447.2,104.1" fill="none" stroke="#2a2a2a" stroke-width="0.95" />
<text x="416.83" y="104.78" font-size="7.8" text-anchor="middle" fill="#2a2a2a" stroke="#2a2a2a" stroke-width="0.3">O</text>
<polygon points="503.8,248.6 510.6,238.1 523.5,238.1 530.2,248.6 523.5,259.6 510.6,259.6" fill="url(#gP1)"/>
<line x1="503.85" y1="248.64" x2="510.65" y2="238.08" stroke="#2a2a2a" stroke-width="0.95" stroke-linecap="round"/>
<line x1="510.65" y1="238.08" x2="523.53" y2="238.08" stroke="#2a2a2a" stroke-width="0.95" stroke-linecap="round"/>
<line x1="523.53" y1="238.08" x2="530.16" y2="248.64" stroke="#2a2a2a" stroke-width="0.95" stroke-linecap="round"/>
<line x1="530.16" y1="248.64" x2="523.53" y2="259.55" stroke="#2a2a2a" stroke-width="0.95" stroke-linecap="round"/>
<line x1="523.53" y1="259.55" x2="510.65" y2="259.55" stroke="#2a2a2a" stroke-width="0.95" stroke-linecap="round"/>
<line x1="510.65" y1="259.55" x2="503.85" y2="248.64" stroke="#2a2a2a" stroke-width="0.95" stroke-linecap="round"/>
<line x1="512.14" y1="239.98" x2="522.03" y2="239.98" stroke="#2a2a2a" stroke-width="0.95" stroke-linecap="round"/>
<line x1="527.71" y1="249.01" x2="522.64" y2="257.36" stroke="#2a2a2a" stroke-width="0.95" stroke-linecap="round"/>
<line x1="511.52" y1="257.37" x2="506.31" y2="249.00" stroke="#2a2a2a" stroke-width="0.95" stroke-linecap="round"/>
<line x1="495.82" y1="249.11" x2="503.85" y2="248.64" stroke="#2a2a2a" stroke-width="0.95" stroke-linecap="round"/>
<line x1="510.65" y1="238.08" x2="506.08" y2="230.59" stroke="#2a2a2a" stroke-width="0.95" stroke-linecap="round"/>
<line x1="510.65" y1="259.55" x2="505.87" y2="268.71" stroke="#2a2a2a" stroke-width="0.95" stroke-linecap="round"/>
<polygon points="562.9,238.1 568.8,227.5 581.7,227.2 588.0,238.1 581.7,249.2 569.2,249.2" fill="url(#gP2)"/>
<polygon points="581.7,227.2 588.0,216.1 600.5,216.1 607.7,227.2 600.5,238.1 588.0,238.1" fill="url(#gP3)"/>
<line x1="530.16" y1="248.64" x2="543.22" y2="248.64" stroke="#2a2a2a" stroke-width="0.95" stroke-linecap="round"/>
<line x1="543.22" y1="248.64" x2="550.38" y2="238.08" stroke="#2a2a2a" stroke-width="0.95" stroke-linecap="round"/>
<line x1="542.21" y1="246.74" x2="548.25" y2="237.84" stroke="#2a2a2a" stroke-width="0.95" stroke-linecap="round"/>
<line x1="550.38" y1="238.08" x2="562.91" y2="238.08" stroke="#2a2a2a" stroke-width="0.95" stroke-linecap="round"/>
<line x1="562.91" y1="238.08" x2="566.91" y2="230.92" stroke="#2a2a2a" stroke-width="0.95" stroke-linecap="round"/>
<line x1="572.71" y1="227.41" x2="581.70" y2="227.16" stroke="#2a2a2a" stroke-width="0.95" stroke-linecap="round"/>
<line x1="581.70" y1="227.16" x2="587.96" y2="238.08" stroke="#2a2a2a" stroke-width="0.95" stroke-linecap="round"/>
<line x1="587.96" y1="238.08" x2="581.70" y2="249.17" stroke="#2a2a2a" stroke-width="0.95" stroke-linecap="round"/>
<line x1="581.70" y1="249.17" x2="569.17" y2="249.17" stroke="#2a2a2a" stroke-width="0.95" stroke-linecap="round"/>
<line x1="569.17" y1="249.17" x2="562.91" y2="238.08" stroke="#2a2a2a" stroke-width="0.95" stroke-linecap="round"/>
<line x1="566.73" y1="248.71" x2="562.04" y2="240.40" stroke="#2a2a2a" stroke-width="0.95" stroke-linecap="round"/>
<line x1="581.70" y1="227.16" x2="587.96" y2="216.06" stroke="#2a2a2a" stroke-width="0.95" stroke-linecap="round"/>
<line x1="584.14" y1="226.70" x2="588.83" y2="218.39" stroke="#2a2a2a" stroke-width="0.95" stroke-linecap="round"/>
<line x1="587.96" y1="216.06" x2="600.49" y2="216.06" stroke="#2a2a2a" stroke-width="0.95" stroke-linecap="round"/>
<line x1="600.49" y1="216.06" x2="607.65" y2="227.16" stroke="#2a2a2a" stroke-width="0.95" stroke-linecap="round"/>
<line x1="599.76" y1="218.44" x2="605.19" y2="226.84" stroke="#2a2a2a" stroke-width="0.95" stroke-linecap="round"/>
<line x1="607.65" y1="227.16" x2="600.49" y2="238.08" stroke="#2a2a2a" stroke-width="0.95" stroke-linecap="round"/>
<line x1="600.49" y1="238.08" x2="587.96" y2="238.08" stroke="#2a2a2a" stroke-width="0.95" stroke-linecap="round"/>
<line x1="598.89" y1="236.18" x2="589.56" y2="236.18" stroke="#2a2a2a" stroke-width="0.95" stroke-linecap="round"/>
<line x1="607.65" y1="227.16" x2="620.18" y2="227.16" stroke="#2a2a2a" stroke-width="0.95" stroke-linecap="round"/>
<line x1="620.18" y1="227.16" x2="626.44" y2="216.60" stroke="#2a2a2a" stroke-width="0.95" stroke-linecap="round"/>
<line x1="620.18" y1="227.16" x2="632.71" y2="227.16" stroke="#2a2a2a" stroke-width="0.95" stroke-linecap="round"/>
<line x1="620.18" y1="227.16" x2="626.44" y2="238.08" stroke="#2a2a2a" stroke-width="0.95" stroke-linecap="round"/>
<line x1="581.70" y1="249.17" x2="587.96" y2="260.27" stroke="#2a2a2a" stroke-width="0.95" stroke-linecap="round"/>
<line x1="583.27" y1="248.29" x2="589.53" y2="259.38" stroke="#2a2a2a" stroke-width="0.95" stroke-linecap="round"/>
<line x1="587.96" y1="260.27" x2="597.27" y2="260.88" stroke="#2a2a2a" stroke-width="0.95" stroke-linecap="round"/>
<line x1="587.96" y1="260.27" x2="582.29" y2="267.55" stroke="#2a2a2a" stroke-width="0.95" stroke-linecap="round"/>
<text x="488.64" y="252.34" font-size="7.8" text-anchor="middle" fill="#2a2a2a" stroke="#2a2a2a" stroke-width="0.3">HO</text>
<text x="504.21" y="230.32" font-size="7.8" text-anchor="middle" fill="#2a2a2a" stroke="#2a2a2a" stroke-width="0.3">I</text>
<text x="504.21" y="274.71" font-size="7.8" text-anchor="middle" fill="#2a2a2a" stroke="#2a2a2a" stroke-width="0.3">I</text>
<text x="568.81" y="230.32" font-size="7.8" text-anchor="middle" fill="#2a2a2a" stroke="#2a2a2a" stroke-width="0.3">S</text>
<text x="604.25" y="264.15" font-size="7.8" text-anchor="middle" fill="#2a2a2a" stroke="#2a2a2a" stroke-width="0.3">CN</text>
<text x="578.48" y="275.25" font-size="7.8" text-anchor="middle" fill="#2a2a2a" stroke="#2a2a2a" stroke-width="0.3">NC</text>
<polygon points="141.5,166.0 140.6,212.5 138.2,212.5 141.9,228.5 145.6,212.5 143.2,212.5 142.3,166.0" fill="url(#gaH)"/>
<text x="101.70" y="198.50" font-size="16" fill="#1a1a1a" textLength="32.5" lengthAdjust="spacingAndGlyphs" stroke="#1a1a1a" stroke-width="0.3">H<tspan font-size="10.5" dy="1.5">2</tspan><tspan dy="-1.5" font-size="1">&#8203;</tspan>O<tspan font-size="10.5" dy="1.5">2</tspan><tspan dy="-1.5" font-size="1">&#8203;</tspan></text>
<polygon points="217.1,230.9 252.3,214.4 253.2,216.2 262.3,207.6 250.0,209.8 250.9,211.7 216.9,230.3" fill="url(#gaP)"/>
<text x="225.50" y="213.30" font-size="15.5" text-anchor="middle" fill="#111" transform="rotate(-32 225.50 213.30)" textLength="19.5" lengthAdjust="spacingAndGlyphs" stroke="#111" stroke-width="0.3">pH</text>
<line x1="241.00" y1="209.70" x2="232.20" y2="194.50" stroke="#5a2a6a" stroke-width="1.2" />
<polygon points="230.4,191.3 235.3,196 231.3,198.2" fill="#5a2a6a"/>
<polygon points="351.3,202.8 364.8,212.6 359.6,228.5 343.0,228.5 337.8,212.6" fill="#c4ecd8" stroke="#c4ecd8" stroke-width="3" stroke-linejoin="round"/>
<text x="351.20" y="224.60" font-size="22.5" text-anchor="middle" font-weight="bold" fill="#2a2327" stroke="#2a2327" stroke-width="0.25">D</text>
<path d="M436.5,142.5 Q443,137 445.5,129" fill="none" stroke="url(#gaC2)" stroke-width="1.8" />
<polygon points="447.6,123.8 448.6,131 442.6,129.4" fill="#55555d"/>
<polygon points="413.1,152.5 456.0,135.3 456.7,137.2 467.3,128.8 454.0,130.7 454.8,132.6 412.9,151.9" fill="url(#gaC)"/>
<text x="442.30" y="161.60" font-size="13.3" text-anchor="middle" font-weight="bold" font-style="italic" fill="#5c5c62" transform="rotate(-21 442.30 161.60)" textLength="38.5" lengthAdjust="spacingAndGlyphs" stroke="#5c5c62" stroke-width="0.25">Chemi-</text>
<text x="456.50" y="172.60" font-size="13.3" text-anchor="middle" font-weight="bold" font-style="italic" fill="#5c5c62" transform="rotate(-21 456.50 172.60)" textLength="55.5" lengthAdjust="spacingAndGlyphs" stroke="#5c5c62" stroke-width="0.25">Excitation</text>
<polygon points="560.7,153.4 561.5,153.4 562.6,210 559.6,210" fill="url(#gaR)"/>
<path d="M556.3,203.5 L561.1,212.5 L565.9,203.5" fill="none" stroke="#8b1c24" stroke-width="1.9" stroke-linejoin="miter" stroke-linecap="round"/>
<text x="553.30" y="180.30" font-size="17.5" text-anchor="middle" font-weight="bold" font-style="italic" fill="#8b1c24" transform="rotate(-90 553.30 180.30)" textLength="43.0" lengthAdjust="spacingAndGlyphs" stroke="#8b1c24" stroke-width="0.25">CRET</text>
<polygon points="607.6,140.5 632.3,148.5 621.4,162.5" fill="url(#bmG)"/>
<polygon points="607.6,279.3 633.9,288.9 621.6,303.5" fill="url(#bmR)"/>
<text x="619.60" y="169.30" font-size="13.3" font-weight="bold" font-style="italic" fill="#3f6b1f" textLength="59.8" lengthAdjust="spacingAndGlyphs" stroke="#3f6b1f" stroke-width="0.25">hv 540 nm</text>
<text x="619.40" y="310.30" font-size="13.3" font-weight="bold" font-style="italic" fill="#8b1c24" textLength="59.8" lengthAdjust="spacingAndGlyphs" stroke="#8b1c24" stroke-width="0.25">hv 740 nm</text>
<circle cx="518.70" cy="297.10" r="14.30" fill="url(#Ac)" stroke="#a2467c" stroke-width="0.6" />
<text x="518.70" y="305.20" font-size="22.5" text-anchor="middle" font-weight="bold" fill="#2a1a22" stroke="#2a1a22" stroke-width="0.25">A</text>
<text x="543.00" y="294.00" font-size="16.2" font-weight="bold" font-style="italic" fill="#5a5a5a" textLength="30.6" lengthAdjust="spacingAndGlyphs" stroke="#5a5a5a" stroke-width="0.25"><tspan font-size="9.5" dy="-6.2">ER</tspan><tspan dy="6.2">Py</tspan></text>
<text x="1046.50" y="26.60" font-size="27.5" font-weight="bold" stroke="#000" stroke-width="0.25">b</text>
<rect x="1068.20" y="32.00" width="290.50" height="291.50" fill="#fff" stroke="#606060" stroke-width="1.25" rx="11" stroke-dasharray="2.6 2.6"/>
<text x="1080.70" y="71.10" font-size="16.5" font-weight="bold" font-style="italic" fill="#1c2a96" textLength="36.2" lengthAdjust="spacingAndGlyphs" stroke="#1c2a96" stroke-width="0.25">H<tspan font-size="11" dy="2.5">2</tspan><tspan dy="-2.5" font-size="1">&#8203;</tspan>O<tspan font-size="11" dy="2.5">2</tspan><tspan dy="-2.5" font-size="1">&#8203;</tspan></text>
<text x="1088.00" y="97.70" font-size="16.5" font-weight="bold" font-style="italic" fill="#1c2a96" textLength="20.0" lengthAdjust="spacingAndGlyphs" stroke="#1c2a96" stroke-width="0.25">pH</text>
<text x="1142.50" y="68.50" font-size="17" text-anchor="middle" fill="#1c2a96" stroke="#1c2a96" stroke-width="0.3">−</text>
<text x="1204.90" y="68.50" font-size="17" text-anchor="middle" fill="#1c2a96" stroke="#1c2a96" stroke-width="0.3">+</text>
<text x="1268.00" y="68.50" font-size="17" text-anchor="middle" fill="#1c2a96" stroke="#1c2a96" stroke-width="0.3">+</text>
<text x="1142.50" y="97.70" font-size="16.8" text-anchor="middle" fill="#1c2a96" stroke="#1c2a96" stroke-width="0.3">7.4</text>
<text x="1205.90" y="97.70" font-size="16.8" text-anchor="middle" fill="#1c2a96" stroke="#1c2a96" stroke-width="0.3">7.4</text>
<text x="1268.00" y="97.70" font-size="16.8" text-anchor="middle" fill="#1c2a96" stroke="#1c2a96" stroke-width="0.3">5.0</text>
<circle cx="1142.50" cy="146.70" r="25.60" fill="url(#well)" stroke="none" stroke-width="1" />
<rect x="1133.50" y="124.70" width="3.00" height="44.00" fill="#1c1c1c" stroke="none" stroke-width="1" opacity="0.7"/>
<rect x="1146.50" y="126.70" width="2.50" height="40.00" fill="#1a1a1a" stroke="none" stroke-width="1" opacity="0.7"/>
<ellipse cx="1134.5" cy="155.7" rx="2.6" ry="4" fill="#303030" transform="rotate(35 1134.5 155.7)"/>
<ellipse cx="1131.5" cy="143.7" rx="2" ry="3" fill="#262626"/>
<circle cx="1128.50" cy="129.70" r="1.60" fill="#3c3c3c" stroke="none" stroke-width="1" />
<circle cx="1159.50" cy="131.70" r="1.40" fill="#383838" stroke="none" stroke-width="1" />
<circle cx="1129.50" cy="165.70" r="1.50" fill="#383838" stroke="none" stroke-width="1" />
<circle cx="1160.50" cy="150.70" r="1.30" fill="#333" stroke="none" stroke-width="1" />
<circle cx="1205.90" cy="146.70" r="25.60" fill="url(#well)" stroke="none" stroke-width="1" />
<rect x="1196.90" y="124.70" width="3.00" height="44.00" fill="#1c1c1c" stroke="none" stroke-width="1" opacity="0.7"/>
<rect x="1209.90" y="126.70" width="2.50" height="40.00" fill="#1a1a1a" stroke="none" stroke-width="1" opacity="0.7"/>
<ellipse cx="1197.9" cy="155.7" rx="2.6" ry="4" fill="#303030" transform="rotate(35 1197.9 155.7)"/>
<ellipse cx="1194.9" cy="143.7" rx="2" ry="3" fill="#262626"/>
<circle cx="1191.90" cy="129.70" r="1.60" fill="#3c3c3c" stroke="none" stroke-width="1" />
<circle cx="1222.90" cy="131.70" r="1.40" fill="#383838" stroke="none" stroke-width="1" />
<circle cx="1192.90" cy="165.70" r="1.50" fill="#383838" stroke="none" stroke-width="1" />
<circle cx="1223.90" cy="150.70" r="1.30" fill="#333" stroke="none" stroke-width="1" />
<circle cx="1268.00" cy="146.70" r="25.60" fill="url(#well)" stroke="none" stroke-width="1" />
<rect x="1259.00" y="124.70" width="3.00" height="44.00" fill="#1c1c1c" stroke="none" stroke-width="1" opacity="0.7"/>
<rect x="1272.00" y="126.70" width="2.50" height="40.00" fill="#1a1a1a" stroke="none" stroke-width="1" opacity="0.7"/>
<ellipse cx="1260.0" cy="155.7" rx="2.6" ry="4" fill="#303030" transform="rotate(35 1260.0 155.7)"/>
<ellipse cx="1257.0" cy="143.7" rx="2" ry="3" fill="#262626"/>
<circle cx="1254.00" cy="129.70" r="1.60" fill="#3c3c3c" stroke="none" stroke-width="1" />
<circle cx="1285.00" cy="131.70" r="1.40" fill="#383838" stroke="none" stroke-width="1" />
<circle cx="1255.00" cy="165.70" r="1.50" fill="#383838" stroke="none" stroke-width="1" />
<circle cx="1286.00" cy="150.70" r="1.30" fill="#333" stroke="none" stroke-width="1" />
<circle cx="1142.50" cy="211.40" r="25.60" fill="url(#well)" stroke="none" stroke-width="1" />
<rect x="1133.50" y="189.40" width="3.00" height="44.00" fill="#1c1c1c" stroke="none" stroke-width="1" opacity="0.7"/>
<rect x="1146.50" y="191.40" width="2.50" height="40.00" fill="#1a1a1a" stroke="none" stroke-width="1" opacity="0.7"/>
<ellipse cx="1134.5" cy="220.4" rx="2.6" ry="4" fill="#303030" transform="rotate(35 1134.5 220.4)"/>
<ellipse cx="1131.5" cy="208.4" rx="2" ry="3" fill="#262626"/>
<circle cx="1128.50" cy="194.40" r="1.60" fill="#3c3c3c" stroke="none" stroke-width="1" />
<circle cx="1159.50" cy="196.40" r="1.40" fill="#383838" stroke="none" stroke-width="1" />
<circle cx="1129.50" cy="230.40" r="1.50" fill="#383838" stroke="none" stroke-width="1" />
<circle cx="1160.50" cy="215.40" r="1.30" fill="#333" stroke="none" stroke-width="1" />
<circle cx="1205.90" cy="211.40" r="25.60" fill="url(#well)" stroke="none" stroke-width="1" />
<rect x="1196.90" y="189.40" width="3.00" height="44.00" fill="#1c1c1c" stroke="none" stroke-width="1" opacity="0.7"/>
<rect x="1209.90" y="191.40" width="2.50" height="40.00" fill="#1a1a1a" stroke="none" stroke-width="1" opacity="0.7"/>
<ellipse cx="1197.9" cy="220.4" rx="2.6" ry="4" fill="#303030" transform="rotate(35 1197.9 220.4)"/>
<ellipse cx="1194.9" cy="208.4" rx="2" ry="3" fill="#262626"/>
<circle cx="1191.90" cy="194.40" r="1.60" fill="#3c3c3c" stroke="none" stroke-width="1" />
<circle cx="1222.90" cy="196.40" r="1.40" fill="#383838" stroke="none" stroke-width="1" />
<circle cx="1192.90" cy="230.40" r="1.50" fill="#383838" stroke="none" stroke-width="1" />
<circle cx="1223.90" cy="215.40" r="1.30" fill="#333" stroke="none" stroke-width="1" />
<circle cx="1268.00" cy="211.40" r="25.60" fill="url(#well)" stroke="none" stroke-width="1" />
<rect x="1259.00" y="189.40" width="3.00" height="44.00" fill="#1c1c1c" stroke="none" stroke-width="1" opacity="0.7"/>
<rect x="1272.00" y="191.40" width="2.50" height="40.00" fill="#1a1a1a" stroke="none" stroke-width="1" opacity="0.7"/>
<ellipse cx="1260.0" cy="220.4" rx="2.6" ry="4" fill="#303030" transform="rotate(35 1260.0 220.4)"/>
<ellipse cx="1257.0" cy="208.4" rx="2" ry="3" fill="#262626"/>
<circle cx="1254.00" cy="194.40" r="1.60" fill="#3c3c3c" stroke="none" stroke-width="1" />
<circle cx="1285.00" cy="196.40" r="1.40" fill="#383838" stroke="none" stroke-width="1" />
<circle cx="1255.00" cy="230.40" r="1.50" fill="#383838" stroke="none" stroke-width="1" />
<circle cx="1286.00" cy="215.40" r="1.30" fill="#333" stroke="none" stroke-width="1" />
<circle cx="1142.50" cy="276.10" r="25.60" fill="url(#well)" stroke="none" stroke-width="1" />
<rect x="1133.50" y="254.10" width="3.00" height="44.00" fill="#1c1c1c" stroke="none" stroke-width="1" opacity="0.7"/>
<rect x="1146.50" y="256.10" width="2.50" height="40.00" fill="#1a1a1a" stroke="none" stroke-width="1" opacity="0.7"/>
<ellipse cx="1134.5" cy="285.1" rx="2.6" ry="4" fill="#303030" transform="rotate(35 1134.5 285.1)"/>
<ellipse cx="1131.5" cy="273.1" rx="2" ry="3" fill="#262626"/>
<circle cx="1128.50" cy="259.10" r="1.60" fill="#3c3c3c" stroke="none" stroke-width="1" />
<circle cx="1159.50" cy="261.10" r="1.40" fill="#383838" stroke="none" stroke-width="1" />
<circle cx="1129.50" cy="295.10" r="1.50" fill="#383838" stroke="none" stroke-width="1" />
<circle cx="1160.50" cy="280.10" r="1.30" fill="#333" stroke="none" stroke-width="1" />
<circle cx="1205.90" cy="276.10" r="25.60" fill="url(#well)" stroke="none" stroke-width="1" />
<rect x="1196.90" y="254.10" width="3.00" height="44.00" fill="#1c1c1c" stroke="none" stroke-width="1" opacity="0.7"/>
<rect x="1209.90" y="256.10" width="2.50" height="40.00" fill="#1a1a1a" stroke="none" stroke-width="1" opacity="0.7"/>
<ellipse cx="1197.9" cy="285.1" rx="2.6" ry="4" fill="#303030" transform="rotate(35 1197.9 285.1)"/>
<ellipse cx="1194.9" cy="273.1" rx="2" ry="3" fill="#262626"/>
<circle cx="1191.90" cy="259.10" r="1.60" fill="#3c3c3c" stroke="none" stroke-width="1" />
<circle cx="1222.90" cy="261.10" r="1.40" fill="#383838" stroke="none" stroke-width="1" />
<circle cx="1192.90" cy="295.10" r="1.50" fill="#383838" stroke="none" stroke-width="1" />
<circle cx="1223.90" cy="280.10" r="1.30" fill="#333" stroke="none" stroke-width="1" />
<circle cx="1268.00" cy="276.10" r="25.60" fill="url(#well)" stroke="none" stroke-width="1" />
<rect x="1259.00" y="254.10" width="3.00" height="44.00" fill="#1c1c1c" stroke="none" stroke-width="1" opacity="0.7"/>
<rect x="1272.00" y="256.10" width="2.50" height="40.00" fill="#1a1a1a" stroke="none" stroke-width="1" opacity="0.7"/>
<ellipse cx="1260.0" cy="285.1" rx="2.6" ry="4" fill="#303030" transform="rotate(35 1260.0 285.1)"/>
<ellipse cx="1257.0" cy="273.1" rx="2" ry="3" fill="#262626"/>
<circle cx="1254.00" cy="259.10" r="1.60" fill="#3c3c3c" stroke="none" stroke-width="1" />
<circle cx="1285.00" cy="261.10" r="1.40" fill="#383838" stroke="none" stroke-width="1" />
<circle cx="1255.00" cy="295.10" r="1.50" fill="#383838" stroke="none" stroke-width="1" />
<circle cx="1286.00" cy="280.10" r="1.30" fill="#333" stroke="none" stroke-width="1" />
<rect x="1205.7" y="125.6" width="3.3" height="1.8" fill="#2434ff" shape-rendering="crispEdges"/>
<rect x="1199.7" y="127.1" width="12.3" height="1.8" fill="#2434ff" shape-rendering="crispEdges"/>
<rect x="1196.7" y="128.6" width="18.3" height="1.8" fill="#2434ff" shape-rendering="crispEdges"/>
<rect x="1193.7" y="130.1" width="12.3" height="1.8" fill="#2434ff" shape-rendering="crispEdges"/>
<rect x="1205.7" y="130.1" width="6.3" height="1.8" fill="#20b0f8" shape-rendering="crispEdges"/>
<rect x="1211.7" y="130.1" width="4.8" height="1.8" fill="#2434ff" shape-rendering="crispEdges"/>
<rect x="1192.2" y="131.6" width="9.3" height="1.8" fill="#2434ff" shape-rendering="crispEdges"/>
<rect x="1201.2" y="131.6" width="1.8" height="1.8" fill="#20b0f8" shape-rendering="crispEdges"/>
<rect x="1202.7" y="131.6" width="3.3" height="1.8" fill="#58f088" shape-rendering="crispEdges"/>
<rect x="1205.7" y="131.6" width="6.3" height="1.8" fill="#d8f030" shape-rendering="crispEdges"/>
<rect x="1211.7" y="131.6" width="1.8" height="1.8" fill="#58f088" shape-rendering="crispEdges"/>
<rect x="1213.2" y="131.6" width="1.8" height="1.8" fill="#20b0f8" shape-rendering="crispEdges"/>
<rect x="1214.7" y="131.6" width="4.8" height="1.8" fill="#2434ff" shape-rendering="crispEdges"/>
<rect x="1190.7" y="133.1" width="7.8" height="1.8" fill="#2434ff" shape-rendering="crispEdges"/>
<rect x="1198.2" y="133.1" width="1.8" height="1.8" fill="#20b0f8" shape-rendering="crispEdges"/>
<rect x="1199.7" y="133.1" width="1.8" height="1.8" fill="#58f088" shape-rendering="crispEdges"/>
<rect x="1201.2" y="133.1" width="3.3" height="1.8" fill="#d8f030" shape-rendering="crispEdges"/>
<rect x="1204.2" y="133.1" width="3.3" height="1.8" fill="#f89018" shape-rendering="crispEdges"/>
<rect x="1207.2" y="133.1" width="3.3" height="1.8" fill="#ea3418" shape-rendering="crispEdges"/>
<rect x="1210.2" y="133.1" width="3.3" height="1.8" fill="#f89018" shape-rendering="crispEdges"/>
<rect x="1213.2" y="133.1" width="1.8" height="1.8" fill="#d8f030" shape-rendering="crispEdges"/>
<rect x="1214.7" y="133.1" width="1.8" height="1.8" fill="#58f088" shape-rendering="crispEdges"/>
<rect x="1216.2" y="133.1" width="1.8" height="1.8" fill="#20b0f8" shape-rendering="crispEdges"/>
<rect x="1217.7" y="133.1" width="3.3" height="1.8" fill="#2434ff" shape-rendering="crispEdges"/>
<rect x="1189.2" y="134.6" width="7.8" height="1.8" fill="#2434ff" shape-rendering="crispEdges"/>
<rect x="1196.7" y="134.6" width="1.8" height="1.8" fill="#20b0f8" shape-rendering="crispEdges"/>
<rect x="1198.2" y="134.6" width="1.8" height="1.8" fill="#58f088" shape-rendering="crispEdges"/>
<rect x="1199.7" y="134.6" width="1.8" height="1.8" fill="#d8f030" shape-rendering="crispEdges"/>
<rect x="1201.2" y="134.6" width="1.8" height="1.8" fill="#f89018" shape-rendering="crispEdges"/>
<rect x="1202.7" y="134.6" width="10.8" height="1.8" fill="#ea3418" shape-rendering="crispEdges"/>
<rect x="1213.2" y="134.6" width="1.8" height="1.8" fill="#f89018" shape-rendering="crispEdges"/>
<rect x="1214.7" y="134.6" width="3.3" height="1.8" fill="#d8f030" shape-rendering="crispEdges"/>
<rect x="1217.7" y="134.6" width="1.8" height="1.8" fill="#20b0f8" shape-rendering="crispEdges"/>
<rect x="1219.2" y="134.6" width="3.3" height="1.8" fill="#2434ff" shape-rendering="crispEdges"/>
<rect x="1187.7" y="136.1" width="7.8" height="1.8" fill="#2434ff" shape-rendering="crispEdges"/>
<rect x="1195.2" y="136.1" width="1.8" height="1.8" fill="#20b0f8" shape-rendering="crispEdges"/>
<rect x="1196.7" y="136.1" width="1.8" height="1.8" fill="#58f088" shape-rendering="crispEdges"/>
<rect x="1198.2" y="136.1" width="1.8" height="1.8" fill="#d8f030" shape-rendering="crispEdges"/>
<rect x="1199.7" y="136.1" width="16.8" height="1.8" fill="#ea3418" shape-rendering="crispEdges"/>
<rect x="1216.2" y="136.1" width="1.8" height="1.8" fill="#f89018" shape-rendering="crispEdges"/>
<rect x="1217.7" y="136.1" width="1.8" height="1.8" fill="#d8f030" shape-rendering="crispEdges"/>
<rect x="1219.2" y="136.1" width="1.8" height="1.8" fill="#58f088" shape-rendering="crispEdges"/>
<rect x="1220.7" y="136.1" width="1.8" height="1.8" fill="#2434ff" shape-rendering="crispEdges"/>
<rect x="1186.2" y="137.6" width="7.8" height="1.8" fill="#2434ff" shape-rendering="crispEdges"/>
<rect x="1193.7" y="137.6" width="1.8" height="1.8" fill="#20b0f8" shape-rendering="crispEdges"/>
<rect x="1195.2" y="137.6" width="1.8" height="1.8" fill="#58f088" shape-rendering="crispEdges"/>
<rect x="1196.7" y="137.6" width="1.8" height="1.8" fill="#d8f030" shape-rendering="crispEdges"/>
<rect x="1198.2" y="137.6" width="19.8" height="1.8" fill="#ea3418" shape-rendering="crispEdges"/>
<rect x="1217.7" y="137.6" width="1.8" height="1.8" fill="#f89018" shape-rendering="crispEdges"/>
<rect x="1219.2" y="137.6" width="1.8" height="1.8" fill="#d8f030" shape-rendering="crispEdges"/>
<rect x="1220.7" y="137.6" width="1.8" height="1.8" fill="#20b0f8" shape-rendering="crispEdges"/>
<rect x="1222.2" y="137.6" width="1.8" height="1.8" fill="#2434ff" shape-rendering="crispEdges"/>
<rect x="1184.7" y="139.1" width="7.8" height="1.8" fill="#2434ff" shape-rendering="crispEdges"/>
<rect x="1192.2" y="139.1" width="1.8" height="1.8" fill="#20b0f8" shape-rendering="crispEdges"/>
<rect x="1193.7" y="139.1" width="1.8" height="1.8" fill="#d8f030" shape-rendering="crispEdges"/>
<rect x="1195.2" y="139.1" width="1.8" height="1.8" fill="#f89018" shape-rendering="crispEdges"/>
<rect x="1196.7" y="139.1" width="16.8" height="1.8" fill="#ea3418" shape-rendering="crispEdges"/>
<rect x="1213.2" y="139.1" width="1.8" height="1.8" fill="#f47a18" shape-rendering="crispEdges"/>
<rect x="1214.7" y="139.1" width="6.3" height="1.8" fill="#f8b828" shape-rendering="crispEdges"/>
<rect x="1220.7" y="139.1" width="1.8" height="1.8" fill="#58f088" shape-rendering="crispEdges"/>
<rect x="1222.2" y="139.1" width="1.8" height="1.8" fill="#2434ff" shape-rendering="crispEdges"/>
<rect x="1184.7" y="140.6" width="6.3" height="1.8" fill="#2434ff" shape-rendering="crispEdges"/>
<rect x="1190.7" y="140.6" width="1.8" height="1.8" fill="#20b0f8" shape-rendering="crispEdges"/>
<rect x="1192.2" y="140.6" width="1.8" height="1.8" fill="#58f088" shape-rendering="crispEdges"/>
<rect x="1193.7" y="140.6" width="1.8" height="1.8" fill="#f89018" shape-rendering="crispEdges"/>
<rect x="1195.2" y="140.6" width="15.3" height="1.8" fill="#ea3418" shape-rendering="crispEdges"/>
<rect x="1210.2" y="140.6" width="1.8" height="1.8" fill="#f47a18" shape-rendering="crispEdges"/>
<rect x="1211.7" y="140.6" width="10.8" height="1.8" fill="#f8b828" shape-rendering="crispEdges"/>
<rect x="1222.2" y="140.6" width="1.8" height="1.8" fill="#20b0f8" shape-rendering="crispEdges"/>
<rect x="1184.7" y="142.1" width="6.3" height="1.8" fill="#2434ff" shape-rendering="crispEdges"/>
<rect x="1190.7" y="142.1" width="1.8" height="1.8" fill="#58f088" shape-rendering="crispEdges"/>
<rect x="1192.2" y="142.1" width="1.8" height="1.8" fill="#d8f030" shape-rendering="crispEdges"/>
<rect x="1193.7" y="142.1" width="15.3" height="1.8" fill="#ea3418" shape-rendering="crispEdges"/>
<rect x="1208.7" y="142.1" width="3.3" height="1.8" fill="#f47a18" shape-rendering="crispEdges"/>
<rect x="1211.7" y="142.1" width="10.8" height="1.8" fill="#f8b828" shape-rendering="crispEdges"/>
<rect x="1222.2" y="142.1" width="1.8" height="1.8" fill="#58f088" shape-rendering="crispEdges"/>
<rect x="1223.7" y="142.1" width="1.8" height="1.8" fill="#2434ff" shape-rendering="crispEdges"/>
<rect x="1184.7" y="143.6" width="6.3" height="1.8" fill="#2434ff" shape-rendering="crispEdges"/>
<rect x="1190.7" y="143.6" width="1.8" height="1.8" fill="#58f088" shape-rendering="crispEdges"/>
<rect x="1192.2" y="143.6" width="1.8" height="1.8" fill="#d8f030" shape-rendering="crispEdges"/>
<rect x="1193.7" y="143.6" width="13.8" height="1.8" fill="#ea3418" shape-rendering="crispEdges"/>
<rect x="1207.2" y="143.6" width="4.8" height="1.8" fill="#f47a18" shape-rendering="crispEdges"/>
<rect x="1211.7" y="143.6" width="10.8" height="1.8" fill="#f8b828" shape-rendering="crispEdges"/>
<rect x="1222.2" y="143.6" width="1.8" height="1.8" fill="#d8f030" shape-rendering="crispEdges"/>
<rect x="1223.7" y="143.6" width="1.8" height="1.8" fill="#2434ff" shape-rendering="crispEdges"/>
<rect x="1184.7" y="145.1" width="6.3" height="1.8" fill="#2434ff" shape-rendering="crispEdges"/>
<rect x="1190.7" y="145.1" width="1.8" height="1.8" fill="#58f088" shape-rendering="crispEdges"/>
<rect x="1192.2" y="145.1" width="1.8" height="1.8" fill="#d8f030" shape-rendering="crispEdges"/>
<rect x="1193.7" y="145.1" width="13.8" height="1.8" fill="#ea3418" shape-rendering="crispEdges"/>
<rect x="1207.2" y="145.1" width="4.8" height="1.8" fill="#f47a18" shape-rendering="crispEdges"/>
<rect x="1211.7" y="145.1" width="10.8" height="1.8" fill="#f8b828" shape-rendering="crispEdges"/>
<rect x="1222.2" y="145.1" width="1.8" height="1.8" fill="#d8f030" shape-rendering="crispEdges"/>
<rect x="1223.7" y="145.1" width="1.8" height="1.8" fill="#20b0f8" shape-rendering="crispEdges"/>
<rect x="1184.7" y="146.6" width="6.3" height="1.8" fill="#2434ff" shape-rendering="crispEdges"/>
<rect x="1190.7" y="146.6" width="1.8" height="1.8" fill="#58f088" shape-rendering="crispEdges"/>
<rect x="1192.2" y="146.6" width="1.8" height="1.8" fill="#d8f030" shape-rendering="crispEdges"/>
<rect x="1193.7" y="146.6" width="13.8" height="1.8" fill="#ea3418" shape-rendering="crispEdges"/>
<rect x="1207.2" y="146.6" width="4.8" height="1.8" fill="#f47a18" shape-rendering="crispEdges"/>
<rect x="1211.7" y="146.6" width="10.8" height="1.8" fill="#f8b828" shape-rendering="crispEdges"/>
<rect x="1222.2" y="146.6" width="1.8" height="1.8" fill="#d8f030" shape-rendering="crispEdges"/>
<rect x="1223.7" y="146.6" width="1.8" height="1.8" fill="#20b0f8" shape-rendering="crispEdges"/>
<rect x="1184.7" y="148.1" width="6.3" height="1.8" fill="#2434ff" shape-rendering="crispEdges"/>
<rect x="1190.7" y="148.1" width="1.8" height="1.8" fill="#58f088" shape-rendering="crispEdges"/>
<rect x="1192.2" y="148.1" width="1.8" height="1.8" fill="#d8f030" shape-rendering="crispEdges"/>
<rect x="1193.7" y="148.1" width="13.8" height="1.8" fill="#ea3418" shape-rendering="crispEdges"/>
<rect x="1207.2" y="148.1" width="6.3" height="1.8" fill="#f47a18" shape-rendering="crispEdges"/>
<rect x="1213.2" y="148.1" width="7.8" height="1.8" fill="#f8b828" shape-rendering="crispEdges"/>
<rect x="1220.7" y="148.1" width="1.8" height="1.8" fill="#f47a18" shape-rendering="crispEdges"/>
<rect x="1222.2" y="148.1" width="1.8" height="1.8" fill="#d8f030" shape-rendering="crispEdges"/>
<rect x="1223.7" y="148.1" width="1.8" height="1.8" fill="#2434ff" shape-rendering="crispEdges"/>
<rect x="1184.7" y="149.6" width="6.3" height="1.8" fill="#2434ff" shape-rendering="crispEdges"/>
<rect x="1190.7" y="149.6" width="1.8" height="1.8" fill="#58f088" shape-rendering="crispEdges"/>
<rect x="1192.2" y="149.6" width="1.8" height="1.8" fill="#d8f030" shape-rendering="crispEdges"/>
<rect x="1193.7" y="149.6" width="13.8" height="1.8" fill="#ea3418" shape-rendering="crispEdges"/>
<rect x="1207.2" y="149.6" width="13.8" height="1.8" fill="#f47a18" shape-rendering="crispEdges"/>
<rect x="1220.7" y="149.6" width="1.8" height="1.8" fill="#f89018" shape-rendering="crispEdges"/>
<rect x="1222.2" y="149.6" width="1.8" height="1.8" fill="#58f088" shape-rendering="crispEdges"/>
<rect x="1223.7" y="149.6" width="1.8" height="1.8" fill="#2434ff" shape-rendering="crispEdges"/>
<rect x="1184.7" y="151.1" width="6.3" height="1.8" fill="#2434ff" shape-rendering="crispEdges"/>
<rect x="1190.7" y="151.1" width="1.8" height="1.8" fill="#20b0f8" shape-rendering="crispEdges"/>
<rect x="1192.2" y="151.1" width="1.8" height="1.8" fill="#d8f030" shape-rendering="crispEdges"/>
<rect x="1193.7" y="151.1" width="15.3" height="1.8" fill="#ea3418" shape-rendering="crispEdges"/>
<rect x="1208.7" y="151.1" width="12.3" height="1.8" fill="#f47a18" shape-rendering="crispEdges"/>
<rect x="1220.7" y="151.1" width="1.8" height="1.8" fill="#d8f030" shape-rendering="crispEdges"/>
<rect x="1222.2" y="151.1" width="1.8" height="1.8" fill="#20b0f8" shape-rendering="crispEdges"/>
<rect x="1184.7" y="152.6" width="6.3" height="1.8" fill="#2434ff" shape-rendering="crispEdges"/>
<rect x="1190.7" y="152.6" width="1.8" height="1.8" fill="#20b0f8" shape-rendering="crispEdges"/>
<rect x="1192.2" y="152.6" width="1.8" height="1.8" fill="#58f088" shape-rendering="crispEdges"/>
<rect x="1193.7" y="152.6" width="1.8" height="1.8" fill="#f89018" shape-rendering="crispEdges"/>
<rect x="1195.2" y="152.6" width="15.3" height="1.8" fill="#ea3418" shape-rendering="crispEdges"/>
<rect x="1210.2" y="152.6" width="9.3" height="1.8" fill="#f47a18" shape-rendering="crispEdges"/>
<rect x="1219.2" y="152.6" width="1.8" height="1.8" fill="#f89018" shape-rendering="crispEdges"/>
<rect x="1220.7" y="152.6" width="1.8" height="1.8" fill="#d8f030" shape-rendering="crispEdges"/>
<rect x="1222.2" y="152.6" width="1.8" height="1.8" fill="#20b0f8" shape-rendering="crispEdges"/>
<rect x="1186.2" y="154.1" width="6.3" height="1.8" fill="#2434ff" shape-rendering="crispEdges"/>
<rect x="1192.2" y="154.1" width="1.8" height="1.8" fill="#58f088" shape-rendering="crispEdges"/>
<rect x="1193.7" y="154.1" width="1.8" height="1.8" fill="#d8f030" shape-rendering="crispEdges"/>
<rect x="1195.2" y="154.1" width="24.3" height="1.8" fill="#ea3418" shape-rendering="crispEdges"/>
<rect x="1219.2" y="154.1" width="1.8" height="1.8" fill="#f89018" shape-rendering="crispEdges"/>
<rect x="1220.7" y="154.1" width="1.8" height="1.8" fill="#58f088" shape-rendering="crispEdges"/>
<rect x="1222.2" y="154.1" width="1.8" height="1.8" fill="#2434ff" shape-rendering="crispEdges"/>
<rect x="1186.2" y="155.6" width="6.3" height="1.8" fill="#2434ff" shape-rendering="crispEdges"/>
<rect x="1192.2" y="155.6" width="1.8" height="1.8" fill="#20b0f8" shape-rendering="crispEdges"/>
<rect x="1193.7" y="155.6" width="1.8" height="1.8" fill="#58f088" shape-rendering="crispEdges"/>
<rect x="1195.2" y="155.6" width="1.8" height="1.8" fill="#d8f030" shape-rendering="crispEdges"/>
<rect x="1196.7" y="155.6" width="22.8" height="1.8" fill="#ea3418" shape-rendering="crispEdges"/>
<rect x="1219.2" y="155.6" width="1.8" height="1.8" fill="#f89018" shape-rendering="crispEdges"/>
<rect x="1220.7" y="155.6" width="1.8" height="1.8" fill="#58f088" shape-rendering="crispEdges"/>
<rect x="1187.7" y="157.1" width="6.3" height="1.8" fill="#2434ff" shape-rendering="crispEdges"/>
<rect x="1193.7" y="157.1" width="1.8" height="1.8" fill="#20b0f8" shape-rendering="crispEdges"/>
<rect x="1195.2" y="157.1" width="1.8" height="1.8" fill="#58f088" shape-rendering="crispEdges"/>
<rect x="1196.7" y="157.1" width="1.8" height="1.8" fill="#d8f030" shape-rendering="crispEdges"/>
<rect x="1198.2" y="157.1" width="19.8" height="1.8" fill="#ea3418" shape-rendering="crispEdges"/>
<rect x="1217.7" y="157.1" width="1.8" height="1.8" fill="#f89018" shape-rendering="crispEdges"/>
<rect x="1219.2" y="157.1" width="1.8" height="1.8" fill="#d8f030" shape-rendering="crispEdges"/>
<rect x="1220.7" y="157.1" width="1.8" height="1.8" fill="#20b0f8" shape-rendering="crispEdges"/>
<rect x="1189.2" y="158.6" width="6.3" height="1.8" fill="#2434ff" shape-rendering="crispEdges"/>
<rect x="1195.2" y="158.6" width="1.8" height="1.8" fill="#20b0f8" shape-rendering="crispEdges"/>
<rect x="1196.7" y="158.6" width="1.8" height="1.8" fill="#d8f030" shape-rendering="crispEdges"/>
<rect x="1198.2" y="158.6" width="1.8" height="1.8" fill="#f89018" shape-rendering="crispEdges"/>
<rect x="1199.7" y="158.6" width="16.8" height="1.8" fill="#ea3418" shape-rendering="crispEdges"/>
<rect x="1216.2" y="158.6" width="1.8" height="1.8" fill="#f89018" shape-rendering="crispEdges"/>
<rect x="1217.7" y="158.6" width="1.8" height="1.8" fill="#d8f030" shape-rendering="crispEdges"/>
<rect x="1219.2" y="158.6" width="1.8" height="1.8" fill="#58f088" shape-rendering="crispEdges"/>
<rect x="1220.7" y="158.6" width="1.8" height="1.8" fill="#2434ff" shape-rendering="crispEdges"/>
<rect x="1190.7" y="160.1" width="6.3" height="1.8" fill="#2434ff" shape-rendering="crispEdges"/>
<rect x="1196.7" y="160.1" width="1.8" height="1.8" fill="#20b0f8" shape-rendering="crispEdges"/>
<rect x="1198.2" y="160.1" width="1.8" height="1.8" fill="#58f088" shape-rendering="crispEdges"/>
<rect x="1199.7" y="160.1" width="1.8" height="1.8" fill="#d8f030" shape-rendering="crispEdges"/>
<rect x="1201.2" y="160.1" width="3.3" height="1.8" fill="#f89018" shape-rendering="crispEdges"/>
<rect x="1204.2" y="160.1" width="9.3" height="1.8" fill="#ea3418" shape-rendering="crispEdges"/>
<rect x="1213.2" y="160.1" width="1.8" height="1.8" fill="#f89018" shape-rendering="crispEdges"/>
<rect x="1214.7" y="160.1" width="3.3" height="1.8" fill="#d8f030" shape-rendering="crispEdges"/>
<rect x="1217.7" y="160.1" width="1.8" height="1.8" fill="#58f088" shape-rendering="crispEdges"/>
<rect x="1219.2" y="160.1" width="1.8" height="1.8" fill="#2434ff" shape-rendering="crispEdges"/>
<rect x="1190.7" y="161.6" width="7.8" height="1.8" fill="#2434ff" shape-rendering="crispEdges"/>
<rect x="1198.2" y="161.6" width="1.8" height="1.8" fill="#20b0f8" shape-rendering="crispEdges"/>
<rect x="1199.7" y="161.6" width="3.3" height="1.8" fill="#58f088" shape-rendering="crispEdges"/>
<rect x="1202.7" y="161.6" width="6.3" height="1.8" fill="#d8f030" shape-rendering="crispEdges"/>
<rect x="1208.7" y="161.6" width="3.3" height="1.8" fill="#f89018" shape-rendering="crispEdges"/>
<rect x="1211.7" y="161.6" width="3.3" height="1.8" fill="#d8f030" shape-rendering="crispEdges"/>
<rect x="1214.7" y="161.6" width="1.8" height="1.8" fill="#58f088" shape-rendering="crispEdges"/>
<rect x="1216.2" y="161.6" width="1.8" height="1.8" fill="#20b0f8" shape-rendering="crispEdges"/>
<rect x="1217.7" y="161.6" width="3.3" height="1.8" fill="#2434ff" shape-rendering="crispEdges"/>
<rect x="1192.2" y="163.1" width="10.8" height="1.8" fill="#2434ff" shape-rendering="crispEdges"/>
<rect x="1202.7" y="163.1" width="4.8" height="1.8" fill="#20b0f8" shape-rendering="crispEdges"/>
<rect x="1207.2" y="163.1" width="6.3" height="1.8" fill="#58f088" shape-rendering="crispEdges"/>
<rect x="1213.2" y="163.1" width="1.8" height="1.8" fill="#20b0f8" shape-rendering="crispEdges"/>
<rect x="1214.7" y="163.1" width="3.3" height="1.8" fill="#2434ff" shape-rendering="crispEdges"/>
<rect x="1195.2" y="164.6" width="21.3" height="1.8" fill="#2434ff" shape-rendering="crispEdges"/>
<rect x="1201.2" y="166.1" width="12.3" height="1.8" fill="#2434ff" shape-rendering="crispEdges"/>
<rect x="1201.1" y="191.7" width="13.3" height="2.9" fill="#5a18ff" shape-rendering="crispEdges"/>
<rect x="1198.5" y="194.3" width="21.1" height="2.9" fill="#5a18ff" shape-rendering="crispEdges"/>
<rect x="1195.9" y="196.9" width="23.7" height="2.9" fill="#5a18ff" shape-rendering="crispEdges"/>
<rect x="1193.3" y="199.5" width="28.9" height="2.9" fill="#5a18ff" shape-rendering="crispEdges"/>
<rect x="1193.3" y="202.1" width="28.9" height="2.9" fill="#5a18ff" shape-rendering="crispEdges"/>
<rect x="1190.7" y="204.7" width="34.1" height="2.9" fill="#5a18ff" shape-rendering="crispEdges"/>
<rect x="1190.7" y="207.3" width="34.1" height="2.9" fill="#5a18ff" shape-rendering="crispEdges"/>
<rect x="1190.7" y="209.9" width="34.1" height="2.9" fill="#5a18ff" shape-rendering="crispEdges"/>
<rect x="1190.7" y="212.5" width="34.1" height="2.9" fill="#5a18ff" shape-rendering="crispEdges"/>
<rect x="1193.3" y="215.1" width="28.9" height="2.9" fill="#5a18ff" shape-rendering="crispEdges"/>
<rect x="1193.3" y="217.7" width="28.9" height="2.9" fill="#5a18ff" shape-rendering="crispEdges"/>
<rect x="1198.5" y="220.3" width="21.1" height="2.9" fill="#5a18ff" shape-rendering="crispEdges"/>
<rect x="1201.1" y="222.9" width="10.7" height="2.9" fill="#5a18ff" shape-rendering="crispEdges"/>
<rect x="1202.9" y="254.6" width="10.7" height="2.9" fill="#5a18ff" shape-rendering="crispEdges"/>
<rect x="1197.7" y="257.2" width="18.5" height="2.9" fill="#5a18ff" shape-rendering="crispEdges"/>
<rect x="1195.1" y="259.8" width="23.7" height="2.9" fill="#5a18ff" shape-rendering="crispEdges"/>
<rect x="1192.5" y="262.4" width="28.9" height="2.9" fill="#5a18ff" shape-rendering="crispEdges"/>
<rect x="1192.5" y="265.0" width="28.9" height="2.9" fill="#5a18ff" shape-rendering="crispEdges"/>
<rect x="1192.5" y="267.6" width="31.5" height="2.9" fill="#5a18ff" shape-rendering="crispEdges"/>
<rect x="1189.9" y="270.2" width="34.1" height="2.9" fill="#5a18ff" shape-rendering="crispEdges"/>
<rect x="1189.9" y="272.8" width="34.1" height="2.9" fill="#5a18ff" shape-rendering="crispEdges"/>
<rect x="1189.9" y="275.4" width="34.1" height="2.9" fill="#5a18ff" shape-rendering="crispEdges"/>
<rect x="1192.5" y="278.0" width="28.9" height="2.9" fill="#5a18ff" shape-rendering="crispEdges"/>
<rect x="1195.1" y="280.6" width="23.7" height="2.9" fill="#5a18ff" shape-rendering="crispEdges"/>
<rect x="1197.7" y="283.2" width="18.5" height="2.9" fill="#5a18ff" shape-rendering="crispEdges"/>
<rect x="1202.9" y="285.8" width="8.1" height="2.9" fill="#5a18ff" shape-rendering="crispEdges"/>
<text x="1087.00" y="152.10" font-size="17.5" font-weight="bold" textLength="18.7" lengthAdjust="spacingAndGlyphs" stroke="#000" stroke-width="0.25">C<tspan font-size="11.5" dy="2.5">1</tspan><tspan dy="-2.5" font-size="1">&#8203;</tspan></text>
<text x="1087.00" y="217.10" font-size="17.5" font-weight="bold" textLength="18.7" lengthAdjust="spacingAndGlyphs" stroke="#000" stroke-width="0.25">C<tspan font-size="11.5" dy="2.5">2</tspan><tspan dy="-2.5" font-size="1">&#8203;</tspan></text>
<text x="1087.00" y="281.80" font-size="17.5" font-weight="bold" textLength="18.7" lengthAdjust="spacingAndGlyphs" stroke="#000" stroke-width="0.25">C<tspan font-size="11.5" dy="2.5">3</tspan><tspan dy="-2.5" font-size="1">&#8203;</tspan></text>
<rect x="1305.20" y="143.50" width="10.20" height="152.80" fill="url(#jetB)" stroke="#666" stroke-width="0.5" />
<text x="1321.00" y="159.20" font-size="15.2" font-style="italic" textLength="27.0" lengthAdjust="spacingAndGlyphs" stroke="#000" stroke-width="0.3">Max</text>
<text x="1321.00" y="294.00" font-size="15.2" font-style="italic" textLength="23.2" lengthAdjust="spacingAndGlyphs" stroke="#000" stroke-width="0.3">Min</text>
<text x="7.00" y="375.30" font-size="27.5" font-weight="bold" stroke="#000" stroke-width="0.25">c</text>
<path d="M64.7,597.9 L74.1,571.1 L85.0,516.6 L95.5,469.2 L105.7,462.9 L113.7,476.3 L128.1,516.6 L139.3,539.5 L150.6,567.9 L171.3,597.9 L192.1,611.0 L211.5,616.5 L230.5,620.0" fill="none" stroke="#e6b83a" stroke-width="1.9" stroke-dasharray="6 3" stroke-linejoin="round"/>
<path d="M83.9,606.3 L94.4,558.4 L107.3,500.5 L117.9,468.4 L128.1,462.1 L138.4,473.2 L153.8,513.4 L171.3,564.7 L192.1,596.6 L211.5,610.1 L230.5,618.4 L246.4,620.0" fill="none" stroke="#52aee6" stroke-width="1.9" stroke-dasharray="6 3" stroke-linejoin="round"/>
<path d="M105.7,616.5 L116.8,606.3 L128.1,571.1 L140.9,529.4 L160.2,469.2 L171.3,462.1 L182.6,477.9 L192.1,516.6 L205.0,539.0 L224.3,578.9 L237.0,591.6 L248.2,597.3" fill="none" stroke="#8fbb4c" stroke-width="1.9" stroke-dasharray="6 3" stroke-linejoin="round"/>
<path d="M64.7,598.2 C65.9,597.1 69.4,594.3 71.9,591.6 C74.5,588.9 77.5,585.5 79.9,582.1 C82.3,578.7 84.5,575.0 86.4,571.1 C88.4,567.1 89.9,561.6 91.5,558.4 C93.1,555.3 94.3,553.6 95.8,552.1 C97.4,550.7 99.3,550.5 100.9,549.7 C102.5,548.9 104.0,548.8 105.7,547.4 C107.4,545.9 109.4,542.6 111.0,541.0 C112.7,539.5 113.9,538.2 115.4,538.4 C116.8,538.5 118.4,540.3 119.7,541.8 C121.1,543.3 122.1,545.4 123.3,547.4 C124.6,549.3 125.9,552.4 127.0,553.7 C128.1,555.0 128.8,555.3 129.9,555.3 C130.9,555.3 132.2,555.0 133.5,553.7 C134.8,552.4 135.8,551.1 137.8,547.4 C139.9,543.7 143.1,537.2 145.8,531.6 C148.4,525.9 151.1,519.1 153.8,513.4 C156.4,507.8 159.1,502.5 161.7,497.6 C164.4,492.8 167.1,488.2 169.7,484.2 C172.2,480.3 174.5,477.0 176.9,473.9 C179.3,470.9 182.0,467.9 184.2,466.0 C186.3,464.2 188.1,463.5 190.0,462.9 C191.8,462.2 193.3,462.1 195.0,462.1 C196.7,462.1 198.4,462.2 200.1,462.9 C201.8,463.5 203.3,464.3 205.2,466.0 C207.0,467.8 208.8,470.1 210.9,473.2 C213.1,476.2 215.4,479.7 217.8,484.2 C220.2,488.7 222.8,494.1 225.4,500.0 C228.1,505.9 231.1,513.4 233.8,519.7 C236.6,526.0 239.4,532.0 242.1,537.9 C244.8,543.8 247.2,549.7 249.9,555.3 C252.6,560.8 255.3,566.3 258.0,571.1 C260.7,575.8 263.3,579.7 266.0,583.7 C268.6,587.6 271.3,591.5 273.9,594.7 C276.6,598.0 279.2,600.7 281.9,603.1 C284.6,605.5 287.2,607.3 289.9,608.9 C292.5,610.6 295.2,612.0 297.8,613.2 C300.5,614.4 303.1,615.3 305.8,616.1 C308.4,616.8 311.1,617.3 313.8,617.8 C316.4,618.3 319.1,618.7 321.7,619.1 C324.4,619.4 328.4,619.6 329.7,619.7 L329.3,620.0 L64.7,620.0 Z" fill="#e97b64" fill-opacity="0.6" stroke="none"/>
<path d="M64.7,598.2 C65.9,597.1 69.4,594.3 71.9,591.6 C74.5,588.9 77.5,585.5 79.9,582.1 C82.3,578.7 84.5,575.0 86.4,571.1 C88.4,567.1 89.9,561.6 91.5,558.4 C93.1,555.3 94.3,553.6 95.8,552.1 C97.4,550.7 99.3,550.5 100.9,549.7 C102.5,548.9 104.0,548.8 105.7,547.4 C107.4,545.9 109.4,542.6 111.0,541.0 C112.7,539.5 113.9,538.2 115.4,538.4 C116.8,538.5 118.4,540.3 119.7,541.8 C121.1,543.3 122.1,545.4 123.3,547.4 C124.6,549.3 125.9,552.4 127.0,553.7 C128.1,555.0 128.8,555.3 129.9,555.3 C130.9,555.3 132.2,555.0 133.5,553.7 C134.8,552.4 135.8,551.1 137.8,547.4 C139.9,543.7 143.1,537.2 145.8,531.6 C148.4,525.9 151.1,519.1 153.8,513.4 C156.4,507.8 159.1,502.5 161.7,497.6 C164.4,492.8 167.1,488.2 169.7,484.2 C172.2,480.3 174.5,477.0 176.9,473.9 C179.3,470.9 182.0,467.9 184.2,466.0 C186.3,464.2 188.1,463.5 190.0,462.9 C191.8,462.2 193.3,462.1 195.0,462.1 C196.7,462.1 198.4,462.2 200.1,462.9 C201.8,463.5 203.3,464.3 205.2,466.0 C207.0,467.8 208.8,470.1 210.9,473.2 C213.1,476.2 215.4,479.7 217.8,484.2 C220.2,488.7 222.8,494.1 225.4,500.0 C228.1,505.9 231.1,513.4 233.8,519.7 C236.6,526.0 239.4,532.0 242.1,537.9 C244.8,543.8 247.2,549.7 249.9,555.3 C252.6,560.8 255.3,566.3 258.0,571.1 C260.7,575.8 263.3,579.7 266.0,583.7 C268.6,587.6 271.3,591.5 273.9,594.7 C276.6,598.0 279.2,600.7 281.9,603.1 C284.6,605.5 287.2,607.3 289.9,608.9 C292.5,610.6 295.2,612.0 297.8,613.2 C300.5,614.4 303.1,615.3 305.8,616.1 C308.4,616.8 311.1,617.3 313.8,617.8 C316.4,618.3 319.1,618.7 321.7,619.1 C324.4,619.4 328.4,619.6 329.7,619.7" fill="none" stroke="#e27272" stroke-width="2.6" stroke-linejoin="round"/>
<rect x="64.70" y="386.60" width="264.60" height="233.40" fill="none" stroke="#000" stroke-width="2.0" />
<line x1="56.30" y1="620.00" x2="64.70" y2="620.00" stroke="#000" stroke-width="1.9" />
<text x="52.50" y="625.10" font-size="14.5" text-anchor="end" stroke="#000" stroke-width="0.3">0</text>
<line x1="56.30" y1="541.05" x2="64.70" y2="541.05" stroke="#000" stroke-width="1.9" />
<text x="52.50" y="546.15" font-size="14.5" text-anchor="end" stroke="#000" stroke-width="0.3">0.5</text>
<line x1="56.30" y1="462.10" x2="64.70" y2="462.10" stroke="#000" stroke-width="1.9" />
<text x="52.50" y="467.20" font-size="14.5" text-anchor="end" stroke="#000" stroke-width="0.3">1.0</text>
<line x1="64.70" y1="620.00" x2="64.70" y2="628.40" stroke="#000" stroke-width="1.9" />
<text x="64.70" y="645.00" font-size="14.5" text-anchor="middle" stroke="#000" stroke-width="0.3">400</text>
<line x1="137.10" y1="620.00" x2="137.10" y2="628.40" stroke="#000" stroke-width="1.9" />
<text x="137.10" y="645.00" font-size="14.5" text-anchor="middle" stroke="#000" stroke-width="0.3">500</text>
<line x1="209.50" y1="620.00" x2="209.50" y2="628.40" stroke="#000" stroke-width="1.9" />
<text x="209.50" y="645.00" font-size="14.5" text-anchor="middle" stroke="#000" stroke-width="0.3">600</text>
<line x1="281.90" y1="620.00" x2="281.90" y2="628.40" stroke="#000" stroke-width="1.9" />
<text x="281.90" y="645.00" font-size="14.5" text-anchor="middle" stroke="#000" stroke-width="0.3">700</text>
<text x="196.50" y="671.00" font-size="21.7" text-anchor="middle" textLength="161.5" lengthAdjust="spacingAndGlyphs" stroke="#000" stroke-width="0.3">Wavelength / nm</text>
<text x="24.60" y="511.70" font-size="20.5" text-anchor="middle" transform="rotate(-90 24.60 511.70)" textLength="230.0" lengthAdjust="spacingAndGlyphs" stroke="#000" stroke-width="0.3">Norm. CL intensity / Abs</text>
<line x1="217.00" y1="400.30" x2="239.50" y2="400.30" stroke="#8fbb4c" stroke-width="1.8" stroke-dasharray="6 3"/>
<text x="250.70" y="405.50" font-size="15" fill="#3a3a3a" stroke="#3a3a3a" stroke-width="0.3">B-Np(C<tspan font-size="10.5" dy="3.7">1</tspan><tspan dy="-3.7" font-size="1">&#8203;</tspan>)</text>
<line x1="217.00" y1="422.00" x2="239.50" y2="422.00" stroke="#52aee6" stroke-width="1.8" stroke-dasharray="6 3"/>
<text x="250.70" y="427.20" font-size="15" fill="#3a3a3a" stroke="#3a3a3a" stroke-width="0.3">B-Np(C<tspan font-size="10.5" dy="3.7">2</tspan><tspan dy="-3.7" font-size="1">&#8203;</tspan>)</text>
<line x1="217.00" y1="443.50" x2="239.50" y2="443.50" stroke="#e6b83a" stroke-width="1.8" stroke-dasharray="6 3"/>
<text x="250.70" y="448.70" font-size="15" fill="#3a3a3a" stroke="#3a3a3a" stroke-width="0.3">B-Np(C<tspan font-size="10.5" dy="3.7">3</tspan><tspan dy="-3.7" font-size="1">&#8203;</tspan>)</text>
<line x1="217.00" y1="463.70" x2="239.50" y2="463.70" stroke="#e27272" stroke-width="2.8" />
<text x="250.70" y="469.00" font-size="15" fill="#3a3a3a" stroke="#3a3a3a" stroke-width="0.3">B-Np(<tspan font-size="10.5" dy="-5.5">ER</tspan><tspan dy="5.5" font-size="1">&#8203;</tspan>Py)</text>
<text x="93.50" y="426.90" font-size="16.5" font-style="italic" fill="#12188f" textLength="75.5" lengthAdjust="spacingAndGlyphs" stroke="#12188f" stroke-width="0.3">CL spectra</text>
<path d="M91.9,450 L91.9,439.7 L170.7,439.7 L170.7,450" fill="none" stroke="#12188f" stroke-width="1.9" />
<text x="246.00" y="508.50" font-size="16.5" font-style="italic" fill="#12188f" textLength="75.2" lengthAdjust="spacingAndGlyphs" stroke="#12188f" stroke-width="0.3">Absorption</text>
<line x1="283.40" y1="519.70" x2="263.87" y2="549.17" stroke="#12188f" stroke-width="1.5" />
<polygon points="260.0,555.0 261.4,546.9 266.9,550.6" fill="#12188f"/>
<text x="374.70" y="375.50" font-size="27.5" font-weight="bold" stroke="#000" stroke-width="0.25">d</text>
<text x="555.10" y="376.00" font-size="17" text-anchor="middle" fill="#12188f" textLength="112.2" lengthAdjust="spacingAndGlyphs" stroke="#12188f" stroke-width="0.3">B-Np(C<tspan font-size="11.5" dy="4.0">1</tspan><tspan dy="-4.0" font-size="1">&#8203;</tspan>/<tspan font-size="11.5" dy="-6.0">ER</tspan><tspan dy="6.0" font-size="1">&#8203;</tspan>Py)</text>
<rect x="450.90" y="480.59" width="17.60" height="139.31" fill="#a6badf" stroke="#000" stroke-width="1.8" />
<rect x="474.70" y="467.75" width="17.60" height="152.15" fill="#37697f" stroke="#000" stroke-width="1.8" />
<rect x="498.50" y="442.27" width="17.60" height="177.63" fill="#4b90a9" stroke="#000" stroke-width="1.8" />
<rect x="522.20" y="434.83" width="17.60" height="185.07" fill="#5ba9c0" stroke="#000" stroke-width="1.8" />
<rect x="546.00" y="448.78" width="17.60" height="171.12" fill="#7db0f6" stroke="#000" stroke-width="1.8" />
<rect x="569.60" y="484.68" width="17.60" height="135.22" fill="#aacaf6" stroke="#000" stroke-width="1.8" />
<rect x="593.20" y="542.71" width="17.60" height="77.19" fill="#d6e4f8" stroke="#000" stroke-width="1.8" />
<rect x="617.00" y="569.68" width="17.60" height="50.22" fill="#5aa87a" stroke="#000" stroke-width="1.8" />
<rect x="640.70" y="593.86" width="17.60" height="26.04" fill="#a0a6df" stroke="#000" stroke-width="1.8" />
<path d="M446.8,592.0 C448.1,590.3 451.5,587.1 454.5,581.6 C457.5,576.1 461.2,568.0 464.9,559.0 C468.7,550.0 473.1,538.1 477.1,527.6 C481.2,517.2 485.8,505.3 489.3,496.3 C492.8,487.3 495.1,480.6 498.0,473.6 C500.9,466.7 504.1,459.3 506.7,454.5 C509.3,449.7 511.4,447.2 513.7,444.7 C516.0,442.3 518.3,441.0 520.6,439.9 C523.0,438.7 525.3,438.3 527.6,437.8 C529.9,437.2 532.4,436.9 534.6,436.4 C536.8,435.8 538.8,435.1 540.8,434.6 C542.9,434.2 544.7,433.5 546.8,433.6 C548.8,433.7 551.0,434.3 553.0,435.3 C555.1,436.4 557.1,438.1 559.0,439.9 C560.8,441.6 562.4,443.3 564.2,445.8 C565.9,448.2 567.5,450.4 569.4,454.5 C571.3,458.5 573.6,464.3 575.7,470.2 C577.7,476.0 579.6,482.2 581.6,489.3 C583.6,496.4 585.5,504.9 587.5,513.0 C589.5,521.1 591.6,530.1 593.8,538.1 C596.0,546.0 598.4,553.7 600.7,560.7 C603.1,567.7 605.4,574.5 607.7,579.9 C610.0,585.3 612.4,589.6 614.7,593.1 C617.0,596.6 619.0,598.6 621.6,600.7 C624.3,602.9 627.4,604.7 630.4,606.0 C633.3,607.2 635.0,607.7 639.1,608.4 C643.1,609.2 649.5,609.9 654.7,610.5 C660.0,611.1 667.8,611.7 670.4,611.9" fill="none" stroke="#8c1b9b" stroke-width="2.6" stroke-dasharray="9 4.5"/>
<rect x="438.10" y="386.60" width="233.20" height="233.30" fill="none" stroke="#000" stroke-width="2.0" />
<line x1="429.70" y1="619.90" x2="438.10" y2="619.90" stroke="#000" stroke-width="1.9" />
<text x="425.90" y="625.00" font-size="14.5" text-anchor="end" stroke="#000" stroke-width="0.3">0.0</text>
<line x1="429.70" y1="526.90" x2="438.10" y2="526.90" stroke="#000" stroke-width="1.9" />
<text x="425.90" y="532.00" font-size="14.5" text-anchor="end" stroke="#000" stroke-width="0.3">0.5</text>
<line x1="429.70" y1="433.90" x2="438.10" y2="433.90" stroke="#000" stroke-width="1.9" />
<text x="425.90" y="439.00" font-size="14.5" text-anchor="end" stroke="#000" stroke-width="0.3">1.0</text>
<line x1="459.70" y1="619.90" x2="459.70" y2="628.50" stroke="#000" stroke-width="1.9" />
<text x="463.50" y="641.40" font-size="14.5" text-anchor="end" transform="rotate(-43 463.50 641.40)" stroke="#000" stroke-width="0.3">670–690</text>
<line x1="483.50" y1="619.90" x2="483.50" y2="628.50" stroke="#000" stroke-width="1.9" />
<text x="487.30" y="641.40" font-size="14.5" text-anchor="end" transform="rotate(-43 487.30 641.40)" stroke="#000" stroke-width="0.3">690–710</text>
<line x1="507.30" y1="619.90" x2="507.30" y2="628.50" stroke="#000" stroke-width="1.9" />
<text x="511.10" y="641.40" font-size="14.5" text-anchor="end" transform="rotate(-43 511.10 641.40)" stroke="#000" stroke-width="0.3">710–730</text>
<line x1="531.00" y1="619.90" x2="531.00" y2="628.50" stroke="#000" stroke-width="1.9" />
<text x="534.80" y="641.40" font-size="14.5" text-anchor="end" transform="rotate(-43 534.80 641.40)" stroke="#000" stroke-width="0.3">730–750</text>
<line x1="554.80" y1="619.90" x2="554.80" y2="628.50" stroke="#000" stroke-width="1.9" />
<text x="558.60" y="641.40" font-size="14.5" text-anchor="end" transform="rotate(-43 558.60 641.40)" stroke="#000" stroke-width="0.3">750–770</text>
<line x1="578.40" y1="619.90" x2="578.40" y2="628.50" stroke="#000" stroke-width="1.9" />
<text x="582.20" y="641.40" font-size="14.5" text-anchor="end" transform="rotate(-43 582.20 641.40)" stroke="#000" stroke-width="0.3">770–790</text>
<line x1="602.00" y1="619.90" x2="602.00" y2="628.50" stroke="#000" stroke-width="1.9" />
<text x="605.80" y="641.40" font-size="14.5" text-anchor="end" transform="rotate(-43 605.80 641.40)" stroke="#000" stroke-width="0.3">790–810</text>
<line x1="625.80" y1="619.90" x2="625.80" y2="628.50" stroke="#000" stroke-width="1.9" />
<text x="629.60" y="641.40" font-size="14.5" text-anchor="end" transform="rotate(-43 629.60 641.40)" stroke="#000" stroke-width="0.3">810–830</text>
<line x1="649.50" y1="619.90" x2="649.50" y2="628.50" stroke="#000" stroke-width="1.9" />
<text x="653.30" y="641.40" font-size="14.5" text-anchor="end" transform="rotate(-43 653.30 641.40)" stroke="#000" stroke-width="0.3">830–850</text>
<text x="554.30" y="708.70" font-size="22" text-anchor="middle" textLength="161.5" lengthAdjust="spacingAndGlyphs" stroke="#000" stroke-width="0.3">Wavelength / nm</text>
<text x="393.20" y="506.80" font-size="20.5" text-anchor="middle" transform="rotate(-90 393.20 506.80)" textLength="226.0" lengthAdjust="spacingAndGlyphs" stroke="#000" stroke-width="0.3">Norm. CL / FL intensity</text>
<text x="451.00" y="409.20" font-size="16" fill="#12188f" textLength="189.0" lengthAdjust="spacingAndGlyphs" stroke="#12188f" stroke-width="0.3">FL emission of B-Np(<tspan font-size="11" dy="-5.5">ER</tspan><tspan dy="5.5" font-size="1">&#8203;</tspan>Py)</text>
<line x1="590.30" y1="421.40" x2="578.21" y2="442.07" stroke="#8c1b9b" stroke-width="1.9" />
<polygon points="572.4,452.0 574.0,439.0 582.9,444.3" fill="#8c1b9b"/>
<text x="716.30" y="374.80" font-size="27.5" font-weight="bold" stroke="#000" stroke-width="0.25">e</text>
<text x="864.30" y="377.90" font-size="17" text-anchor="middle" fill="#12188f" textLength="131.4" lengthAdjust="spacingAndGlyphs" stroke="#12188f" stroke-width="0.3">Em: 730–750 nm</text>
<g clip-path="url(#clipE)">
<rect x="739.70" y="385.40" width="248.90" height="61.90" fill="#2c2c2c" stroke="none" stroke-width="1" />
<circle cx="767.40" cy="416.85" r="26.00" fill="#272727" stroke="#383838" stroke-width="3" />
<rect x="752.10" y="402.99" width="2.30" height="3.00" fill="#9a9a9a" stroke="none" stroke-width="1" />
<rect x="779.22" y="399.57" width="1.60" height="3.00" fill="#9a9a9a" stroke="none" stroke-width="1" />
<rect x="773.47" y="412.40" width="2.30" height="1.60" fill="#5e5e5e" stroke="none" stroke-width="1" />
<rect x="750.43" y="412.07" width="1.60" height="3.00" fill="#c8c8c8" stroke="none" stroke-width="1" />
<rect x="759.86" y="420.78" width="2.30" height="1.60" fill="#9a9a9a" stroke="none" stroke-width="1" />
<rect x="779.36" y="429.15" width="1.60" height="1.60" fill="#9a9a9a" stroke="none" stroke-width="1" />
<circle cx="831.90" cy="416.85" r="26.00" fill="#272727" stroke="#383838" stroke-width="3" />
<rect x="836.94" y="415.54" width="1.60" height="1.60" fill="#c8c8c8" stroke="none" stroke-width="1" />
<rect x="825.53" y="439.18" width="2.30" height="3.00" fill="#c8c8c8" stroke="none" stroke-width="1" />
<rect x="842.87" y="437.87" width="1.60" height="2.30" fill="#7a7a7a" stroke="none" stroke-width="1" />
<rect x="845.90" y="418.07" width="1.60" height="2.30" fill="#9a9a9a" stroke="none" stroke-width="1" />
<rect x="820.62" y="434.37" width="2.30" height="1.60" fill="#7a7a7a" stroke="none" stroke-width="1" />
<rect x="843.63" y="421.00" width="2.30" height="2.30" fill="#7a7a7a" stroke="none" stroke-width="1" />
<circle cx="895.00" cy="416.85" r="26.00" fill="#272727" stroke="#383838" stroke-width="3" />
<rect x="901.14" y="429.06" width="1.60" height="1.60" fill="#7a7a7a" stroke="none" stroke-width="1" />
<rect x="900.43" y="415.56" width="2.30" height="2.30" fill="#5e5e5e" stroke="none" stroke-width="1" />
<rect x="917.19" y="418.63" width="2.30" height="2.30" fill="#9a9a9a" stroke="none" stroke-width="1" />
<rect x="875.34" y="421.78" width="2.30" height="1.60" fill="#9a9a9a" stroke="none" stroke-width="1" />
<rect x="895.86" y="393.46" width="2.30" height="2.30" fill="#7a7a7a" stroke="none" stroke-width="1" />
<rect x="903.20" y="410.42" width="2.30" height="1.60" fill="#7a7a7a" stroke="none" stroke-width="1" />
<circle cx="958.80" cy="416.85" r="26.00" fill="#272727" stroke="#383838" stroke-width="3" />
<rect x="962.48" y="412.31" width="1.60" height="1.60" fill="#7a7a7a" stroke="none" stroke-width="1" />
<rect x="945.86" y="415.42" width="1.60" height="2.30" fill="#7a7a7a" stroke="none" stroke-width="1" />
<rect x="973.88" y="409.30" width="2.30" height="3.00" fill="#7a7a7a" stroke="none" stroke-width="1" />
<rect x="951.02" y="435.42" width="2.30" height="1.60" fill="#7a7a7a" stroke="none" stroke-width="1" />
<rect x="967.35" y="416.17" width="1.60" height="1.60" fill="#5e5e5e" stroke="none" stroke-width="1" />
<rect x="979.67" y="420.15" width="2.30" height="2.30" fill="#5e5e5e" stroke="none" stroke-width="1" />
<rect x="739.70" y="451.20" width="248.90" height="61.50" fill="#2c2c2c" stroke="none" stroke-width="1" />
<circle cx="767.40" cy="482.45" r="26.00" fill="#272727" stroke="#383838" stroke-width="3" />
<rect x="762.60" y="475.96" width="2.30" height="1.60" fill="#5e5e5e" stroke="none" stroke-width="1" />
<rect x="762.59" y="489.38" width="2.30" height="3.00" fill="#c8c8c8" stroke="none" stroke-width="1" />
<rect x="752.12" y="467.29" width="1.60" height="1.60" fill="#5e5e5e" stroke="none" stroke-width="1" />
<rect x="763.01" y="486.01" width="2.30" height="2.30" fill="#c8c8c8" stroke="none" stroke-width="1" />
<rect x="741.59" y="489.03" width="1.60" height="3.00" fill="#5e5e5e" stroke="none" stroke-width="1" />
<rect x="786.91" y="477.40" width="2.30" height="2.30" fill="#7a7a7a" stroke="none" stroke-width="1" />
<circle cx="831.90" cy="482.45" r="26.00" fill="#272727" stroke="#383838" stroke-width="3" />
<rect x="828.37" y="494.04" width="1.60" height="1.60" fill="#5e5e5e" stroke="none" stroke-width="1" />
<rect x="839.17" y="468.42" width="1.60" height="3.00" fill="#5e5e5e" stroke="none" stroke-width="1" />
<rect x="837.93" y="475.98" width="2.30" height="2.30" fill="#7a7a7a" stroke="none" stroke-width="1" />
<rect x="852.65" y="489.76" width="2.30" height="3.00" fill="#9a9a9a" stroke="none" stroke-width="1" />
<rect x="832.66" y="470.27" width="2.30" height="3.00" fill="#7a7a7a" stroke="none" stroke-width="1" />
<rect x="837.40" y="473.56" width="2.30" height="3.00" fill="#7a7a7a" stroke="none" stroke-width="1" />
<circle cx="895.00" cy="482.45" r="26.00" fill="#272727" stroke="#383838" stroke-width="3" />
<rect x="907.02" y="478.91" width="1.60" height="3.00" fill="#9a9a9a" stroke="none" stroke-width="1" />
<rect x="873.27" y="485.17" width="2.30" height="3.00" fill="#7a7a7a" stroke="none" stroke-width="1" />
<rect x="872.66" y="486.75" width="2.30" height="3.00" fill="#7a7a7a" stroke="none" stroke-width="1" />
<rect x="883.96" y="496.05" width="2.30" height="2.30" fill="#7a7a7a" stroke="none" stroke-width="1" />
<rect x="902.76" y="478.22" width="2.30" height="2.30" fill="#7a7a7a" stroke="none" stroke-width="1" />
<rect x="910.78" y="477.92" width="2.30" height="1.60" fill="#c8c8c8" stroke="none" stroke-width="1" />
<circle cx="958.80" cy="482.45" r="26.00" fill="#272727" stroke="#383838" stroke-width="3" />
<rect x="972.01" y="462.19" width="2.30" height="2.30" fill="#9a9a9a" stroke="none" stroke-width="1" />
<rect x="954.76" y="463.34" width="1.60" height="3.00" fill="#5e5e5e" stroke="none" stroke-width="1" />
<rect x="953.24" y="496.57" width="2.30" height="2.30" fill="#9a9a9a" stroke="none" stroke-width="1" />
<rect x="964.81" y="497.13" width="2.30" height="3.00" fill="#c8c8c8" stroke="none" stroke-width="1" />
<rect x="962.70" y="499.69" width="2.30" height="3.00" fill="#9a9a9a" stroke="none" stroke-width="1" />
<rect x="985.25" y="479.85" width="1.60" height="1.60" fill="#c8c8c8" stroke="none" stroke-width="1" />
<rect x="739.70" y="517.00" width="248.90" height="61.50" fill="#2c2c2c" stroke="none" stroke-width="1" />
<circle cx="767.40" cy="548.25" r="26.00" fill="#272727" stroke="#383838" stroke-width="3" />
<rect x="787.58" y="562.92" width="2.30" height="1.60" fill="#9a9a9a" stroke="none" stroke-width="1" />
<rect x="756.44" y="553.56" width="2.30" height="3.00" fill="#9a9a9a" stroke="none" stroke-width="1" />
<rect x="758.76" y="542.82" width="2.30" height="1.60" fill="#7a7a7a" stroke="none" stroke-width="1" />
<rect x="758.19" y="553.37" width="2.30" height="1.60" fill="#7a7a7a" stroke="none" stroke-width="1" />
<rect x="784.06" y="544.29" width="2.30" height="1.60" fill="#7a7a7a" stroke="none" stroke-width="1" />
<rect x="755.43" y="544.62" width="2.30" height="2.30" fill="#7a7a7a" stroke="none" stroke-width="1" />
<circle cx="831.90" cy="548.25" r="26.00" fill="#272727" stroke="#383838" stroke-width="3" />
<rect x="837.80" y="536.11" width="2.30" height="3.00" fill="#7a7a7a" stroke="none" stroke-width="1" />
<rect x="823.63" y="549.30" width="2.30" height="3.00" fill="#5e5e5e" stroke="none" stroke-width="1" />
<rect x="857.23" y="541.39" width="2.30" height="1.60" fill="#7a7a7a" stroke="none" stroke-width="1" />
<rect x="840.32" y="531.86" width="2.30" height="1.60" fill="#7a7a7a" stroke="none" stroke-width="1" />
<rect x="814.91" y="541.07" width="1.60" height="2.30" fill="#5e5e5e" stroke="none" stroke-width="1" />
<rect x="808.01" y="558.04" width="2.30" height="2.30" fill="#5e5e5e" stroke="none" stroke-width="1" />
<circle cx="895.00" cy="548.25" r="26.00" fill="#272727" stroke="#383838" stroke-width="3" />
<rect x="908.15" y="545.64" width="1.60" height="3.00" fill="#7a7a7a" stroke="none" stroke-width="1" />
<rect x="894.32" y="537.31" width="2.30" height="2.30" fill="#9a9a9a" stroke="none" stroke-width="1" />
<rect x="883.80" y="569.52" width="2.30" height="2.30" fill="#c8c8c8" stroke="none" stroke-width="1" />
<rect x="887.40" y="548.76" width="2.30" height="2.30" fill="#c8c8c8" stroke="none" stroke-width="1" />
<rect x="889.08" y="567.00" width="2.30" height="1.60" fill="#5e5e5e" stroke="none" stroke-width="1" />
<rect x="884.20" y="545.75" width="2.30" height="1.60" fill="#c8c8c8" stroke="none" stroke-width="1" />
<circle cx="958.80" cy="548.25" r="26.00" fill="#272727" stroke="#383838" stroke-width="3" />
<rect x="935.28" y="549.10" width="2.30" height="2.30" fill="#7a7a7a" stroke="none" stroke-width="1" />
<rect x="932.00" y="548.96" width="2.30" height="3.00" fill="#9a9a9a" stroke="none" stroke-width="1" />
<rect x="966.53" y="548.46" width="2.30" height="3.00" fill="#7a7a7a" stroke="none" stroke-width="1" />
<rect x="942.83" y="535.36" width="1.60" height="2.30" fill="#7a7a7a" stroke="none" stroke-width="1" />
<rect x="945.08" y="562.52" width="2.30" height="1.60" fill="#9a9a9a" stroke="none" stroke-width="1" />
<rect x="975.97" y="548.03" width="2.30" height="1.60" fill="#c8c8c8" stroke="none" stroke-width="1" />
<rect x="832.1" y="387.9" width="4.9" height="2.6" fill="#5a1cff" shape-rendering="crispEdges"/>
<rect x="825.2" y="390.2" width="16.4" height="2.6" fill="#5a1cff" shape-rendering="crispEdges"/>
<rect x="818.3" y="392.6" width="11.8" height="2.6" fill="#5a1cff" shape-rendering="crispEdges"/>
<rect x="829.8" y="392.6" width="7.2" height="2.6" fill="#3040ff" shape-rendering="crispEdges"/>
<rect x="836.7" y="392.6" width="9.5" height="2.6" fill="#5a1cff" shape-rendering="crispEdges"/>
<rect x="816.0" y="394.9" width="7.2" height="2.6" fill="#5a1cff" shape-rendering="crispEdges"/>
<rect x="822.9" y="394.9" width="18.7" height="2.6" fill="#3040ff" shape-rendering="crispEdges"/>
<rect x="841.3" y="394.9" width="9.5" height="2.6" fill="#5a1cff" shape-rendering="crispEdges"/>
<rect x="813.7" y="397.2" width="4.9" height="2.6" fill="#5a1cff" shape-rendering="crispEdges"/>
<rect x="818.3" y="397.2" width="11.8" height="2.6" fill="#3040ff" shape-rendering="crispEdges"/>
<rect x="829.8" y="397.2" width="4.9" height="2.6" fill="#2858ff" shape-rendering="crispEdges"/>
<rect x="834.4" y="397.2" width="11.8" height="2.6" fill="#3040ff" shape-rendering="crispEdges"/>
<rect x="845.9" y="397.2" width="7.2" height="2.6" fill="#5a1cff" shape-rendering="crispEdges"/>
<rect x="811.4" y="399.4" width="4.9" height="2.6" fill="#5a1cff" shape-rendering="crispEdges"/>
<rect x="816.0" y="399.4" width="9.5" height="2.6" fill="#3040ff" shape-rendering="crispEdges"/>
<rect x="825.2" y="399.4" width="14.1" height="2.6" fill="#2858ff" shape-rendering="crispEdges"/>
<rect x="839.0" y="399.4" width="9.5" height="2.6" fill="#3040ff" shape-rendering="crispEdges"/>
<rect x="848.2" y="399.4" width="4.9" height="2.6" fill="#5a1cff" shape-rendering="crispEdges"/>
<rect x="811.4" y="401.8" width="2.6" height="2.6" fill="#5a1cff" shape-rendering="crispEdges"/>
<rect x="813.7" y="401.8" width="7.2" height="2.6" fill="#3040ff" shape-rendering="crispEdges"/>
<rect x="820.6" y="401.8" width="23.3" height="2.6" fill="#2858ff" shape-rendering="crispEdges"/>
<rect x="843.6" y="401.8" width="7.2" height="2.6" fill="#3040ff" shape-rendering="crispEdges"/>
<rect x="850.5" y="401.8" width="4.9" height="2.6" fill="#5a1cff" shape-rendering="crispEdges"/>
<rect x="809.1" y="404.1" width="4.9" height="2.6" fill="#5a1cff" shape-rendering="crispEdges"/>
<rect x="813.7" y="404.1" width="4.9" height="2.6" fill="#3040ff" shape-rendering="crispEdges"/>
<rect x="818.3" y="404.1" width="27.9" height="2.6" fill="#2858ff" shape-rendering="crispEdges"/>
<rect x="845.9" y="404.1" width="7.2" height="2.6" fill="#3040ff" shape-rendering="crispEdges"/>
<rect x="852.8" y="404.1" width="4.9" height="2.6" fill="#5a1cff" shape-rendering="crispEdges"/>
<rect x="809.1" y="406.4" width="2.6" height="2.6" fill="#5a1cff" shape-rendering="crispEdges"/>
<rect x="811.4" y="406.4" width="4.9" height="2.6" fill="#3040ff" shape-rendering="crispEdges"/>
<rect x="816.0" y="406.4" width="32.5" height="2.6" fill="#2858ff" shape-rendering="crispEdges"/>
<rect x="848.2" y="406.4" width="4.9" height="2.6" fill="#3040ff" shape-rendering="crispEdges"/>
<rect x="852.8" y="406.4" width="7.2" height="2.6" fill="#5a1cff" shape-rendering="crispEdges"/>
<rect x="806.8" y="408.7" width="4.9" height="2.6" fill="#5a1cff" shape-rendering="crispEdges"/>
<rect x="811.4" y="408.7" width="4.9" height="2.6" fill="#3040ff" shape-rendering="crispEdges"/>
<rect x="816.0" y="408.7" width="32.5" height="2.6" fill="#2858ff" shape-rendering="crispEdges"/>
<rect x="848.2" y="408.7" width="7.2" height="2.6" fill="#3040ff" shape-rendering="crispEdges"/>
<rect x="855.1" y="408.7" width="4.9" height="2.6" fill="#5a1cff" shape-rendering="crispEdges"/>
<rect x="806.8" y="410.9" width="4.9" height="2.6" fill="#5a1cff" shape-rendering="crispEdges"/>
<rect x="811.4" y="410.9" width="2.6" height="2.6" fill="#3040ff" shape-rendering="crispEdges"/>
<rect x="813.7" y="410.9" width="37.1" height="2.6" fill="#2858ff" shape-rendering="crispEdges"/>
<rect x="850.5" y="410.9" width="7.2" height="2.6" fill="#3040ff" shape-rendering="crispEdges"/>
<rect x="857.4" y="410.9" width="4.9" height="2.6" fill="#5a1cff" shape-rendering="crispEdges"/>
<rect x="806.8" y="413.2" width="4.9" height="2.6" fill="#5a1cff" shape-rendering="crispEdges"/>
<rect x="811.4" y="413.2" width="2.6" height="2.6" fill="#3040ff" shape-rendering="crispEdges"/>
<rect x="813.7" y="413.2" width="37.1" height="2.6" fill="#2858ff" shape-rendering="crispEdges"/>
<rect x="850.5" y="413.2" width="7.2" height="2.6" fill="#3040ff" shape-rendering="crispEdges"/>
<rect x="857.4" y="413.2" width="4.9" height="2.6" fill="#5a1cff" shape-rendering="crispEdges"/>
<rect x="806.8" y="415.6" width="4.9" height="2.6" fill="#5a1cff" shape-rendering="crispEdges"/>
<rect x="811.4" y="415.6" width="2.6" height="2.6" fill="#3040ff" shape-rendering="crispEdges"/>
<rect x="813.7" y="415.6" width="37.1" height="2.6" fill="#2858ff" shape-rendering="crispEdges"/>
<rect x="850.5" y="415.6" width="7.2" height="2.6" fill="#3040ff" shape-rendering="crispEdges"/>
<rect x="857.4" y="415.6" width="4.9" height="2.6" fill="#5a1cff" shape-rendering="crispEdges"/>
<rect x="806.8" y="417.9" width="4.9" height="2.6" fill="#5a1cff" shape-rendering="crispEdges"/>
<rect x="811.4" y="417.9" width="2.6" height="2.6" fill="#3040ff" shape-rendering="crispEdges"/>
<rect x="813.7" y="417.9" width="37.1" height="2.6" fill="#2858ff" shape-rendering="crispEdges"/>
<rect x="850.5" y="417.9" width="7.2" height="2.6" fill="#3040ff" shape-rendering="crispEdges"/>
<rect x="857.4" y="417.9" width="2.6" height="2.6" fill="#5a1cff" shape-rendering="crispEdges"/>
<rect x="806.8" y="420.2" width="4.9" height="2.6" fill="#5a1cff" shape-rendering="crispEdges"/>
<rect x="811.4" y="420.2" width="2.6" height="2.6" fill="#3040ff" shape-rendering="crispEdges"/>
<rect x="813.7" y="420.2" width="37.1" height="2.6" fill="#2858ff" shape-rendering="crispEdges"/>
<rect x="850.5" y="420.2" width="4.9" height="2.6" fill="#3040ff" shape-rendering="crispEdges"/>
<rect x="855.1" y="420.2" width="4.9" height="2.6" fill="#5a1cff" shape-rendering="crispEdges"/>
<rect x="806.8" y="422.4" width="4.9" height="2.6" fill="#5a1cff" shape-rendering="crispEdges"/>
<rect x="811.4" y="422.4" width="4.9" height="2.6" fill="#3040ff" shape-rendering="crispEdges"/>
<rect x="816.0" y="422.4" width="34.8" height="2.6" fill="#2858ff" shape-rendering="crispEdges"/>
<rect x="850.5" y="422.4" width="4.9" height="2.6" fill="#3040ff" shape-rendering="crispEdges"/>
<rect x="855.1" y="422.4" width="4.9" height="2.6" fill="#5a1cff" shape-rendering="crispEdges"/>
<rect x="806.8" y="424.8" width="4.9" height="2.6" fill="#5a1cff" shape-rendering="crispEdges"/>
<rect x="811.4" y="424.8" width="4.9" height="2.6" fill="#3040ff" shape-rendering="crispEdges"/>
<rect x="816.0" y="424.8" width="32.5" height="2.6" fill="#2858ff" shape-rendering="crispEdges"/>
<rect x="848.2" y="424.8" width="7.2" height="2.6" fill="#3040ff" shape-rendering="crispEdges"/>
<rect x="855.1" y="424.8" width="4.9" height="2.6" fill="#5a1cff" shape-rendering="crispEdges"/>
<rect x="809.1" y="427.1" width="2.6" height="2.6" fill="#5a1cff" shape-rendering="crispEdges"/>
<rect x="811.4" y="427.1" width="4.9" height="2.6" fill="#3040ff" shape-rendering="crispEdges"/>
<rect x="816.0" y="427.1" width="32.5" height="2.6" fill="#2858ff" shape-rendering="crispEdges"/>
<rect x="848.2" y="427.1" width="4.9" height="2.6" fill="#3040ff" shape-rendering="crispEdges"/>
<rect x="852.8" y="427.1" width="4.9" height="2.6" fill="#5a1cff" shape-rendering="crispEdges"/>
<rect x="809.1" y="429.4" width="4.9" height="2.6" fill="#5a1cff" shape-rendering="crispEdges"/>
<rect x="813.7" y="429.4" width="4.9" height="2.6" fill="#3040ff" shape-rendering="crispEdges"/>
<rect x="818.3" y="429.4" width="25.6" height="2.6" fill="#2858ff" shape-rendering="crispEdges"/>
<rect x="843.6" y="429.4" width="7.2" height="2.6" fill="#3040ff" shape-rendering="crispEdges"/>
<rect x="850.5" y="429.4" width="7.2" height="2.6" fill="#5a1cff" shape-rendering="crispEdges"/>
<rect x="811.4" y="431.7" width="4.9" height="2.6" fill="#5a1cff" shape-rendering="crispEdges"/>
<rect x="816.0" y="431.7" width="7.2" height="2.6" fill="#3040ff" shape-rendering="crispEdges"/>
<rect x="822.9" y="431.7" width="18.7" height="2.6" fill="#2858ff" shape-rendering="crispEdges"/>
<rect x="841.3" y="431.7" width="7.2" height="2.6" fill="#3040ff" shape-rendering="crispEdges"/>
<rect x="848.2" y="431.7" width="7.2" height="2.6" fill="#5a1cff" shape-rendering="crispEdges"/>
<rect x="811.4" y="433.9" width="7.2" height="2.6" fill="#5a1cff" shape-rendering="crispEdges"/>
<rect x="818.3" y="433.9" width="14.1" height="2.6" fill="#3040ff" shape-rendering="crispEdges"/>
<rect x="832.1" y="433.9" width="4.9" height="2.6" fill="#2858ff" shape-rendering="crispEdges"/>
<rect x="836.7" y="433.9" width="9.5" height="2.6" fill="#3040ff" shape-rendering="crispEdges"/>
<rect x="845.9" y="433.9" width="7.2" height="2.6" fill="#5a1cff" shape-rendering="crispEdges"/>
<rect x="816.0" y="436.2" width="7.2" height="2.6" fill="#5a1cff" shape-rendering="crispEdges"/>
<rect x="822.9" y="436.2" width="21.0" height="2.6" fill="#3040ff" shape-rendering="crispEdges"/>
<rect x="843.6" y="436.2" width="7.2" height="2.6" fill="#5a1cff" shape-rendering="crispEdges"/>
<rect x="818.3" y="438.6" width="27.9" height="2.6" fill="#5a1cff" shape-rendering="crispEdges"/>
<rect x="822.9" y="440.9" width="21.0" height="2.6" fill="#5a1cff" shape-rendering="crispEdges"/>
<rect x="884.4" y="390.2" width="18.7" height="2.6" fill="#5a1cff" shape-rendering="crispEdges"/>
<rect x="879.8" y="392.6" width="4.9" height="2.6" fill="#5a1cff" shape-rendering="crispEdges"/>
<rect x="884.4" y="392.6" width="18.7" height="2.6" fill="#2838ff" shape-rendering="crispEdges"/>
<rect x="902.8" y="392.6" width="4.9" height="2.6" fill="#5a1cff" shape-rendering="crispEdges"/>
<rect x="877.5" y="394.9" width="2.6" height="2.6" fill="#5a1cff" shape-rendering="crispEdges"/>
<rect x="879.8" y="394.9" width="4.9" height="2.6" fill="#2838ff" shape-rendering="crispEdges"/>
<rect x="884.4" y="394.9" width="4.9" height="2.6" fill="#28a8ff" shape-rendering="crispEdges"/>
<rect x="889.0" y="394.9" width="7.2" height="2.6" fill="#58f0c0" shape-rendering="crispEdges"/>
<rect x="895.9" y="394.9" width="7.2" height="2.6" fill="#28a8ff" shape-rendering="crispEdges"/>
<rect x="902.8" y="394.9" width="4.9" height="2.6" fill="#2838ff" shape-rendering="crispEdges"/>
<rect x="907.4" y="394.9" width="2.6" height="2.6" fill="#5a1cff" shape-rendering="crispEdges"/>
<rect x="875.2" y="397.2" width="2.6" height="2.6" fill="#5a1cff" shape-rendering="crispEdges"/>
<rect x="877.5" y="397.2" width="4.9" height="2.6" fill="#2838ff" shape-rendering="crispEdges"/>
<rect x="882.1" y="397.2" width="2.6" height="2.6" fill="#28a8ff" shape-rendering="crispEdges"/>
<rect x="884.4" y="397.2" width="2.6" height="2.6" fill="#58f0c0" shape-rendering="crispEdges"/>
<rect x="886.7" y="397.2" width="14.1" height="2.6" fill="#98f040" shape-rendering="crispEdges"/>
<rect x="900.5" y="397.2" width="2.6" height="2.6" fill="#58f0c0" shape-rendering="crispEdges"/>
<rect x="902.8" y="397.2" width="4.9" height="2.6" fill="#28a8ff" shape-rendering="crispEdges"/>
<rect x="907.4" y="397.2" width="2.6" height="2.6" fill="#2838ff" shape-rendering="crispEdges"/>
<rect x="909.7" y="397.2" width="4.9" height="2.6" fill="#5a1cff" shape-rendering="crispEdges"/>
<rect x="872.9" y="399.4" width="2.6" height="2.6" fill="#5a1cff" shape-rendering="crispEdges"/>
<rect x="875.2" y="399.4" width="4.9" height="2.6" fill="#2838ff" shape-rendering="crispEdges"/>
<rect x="879.8" y="399.4" width="2.6" height="2.6" fill="#28a8ff" shape-rendering="crispEdges"/>
<rect x="882.1" y="399.4" width="23.3" height="2.6" fill="#98f040" shape-rendering="crispEdges"/>
<rect x="905.1" y="399.4" width="2.6" height="2.6" fill="#58f0c0" shape-rendering="crispEdges"/>
<rect x="907.4" y="399.4" width="2.6" height="2.6" fill="#28a8ff" shape-rendering="crispEdges"/>
<rect x="909.7" y="399.4" width="4.9" height="2.6" fill="#2838ff" shape-rendering="crispEdges"/>
<rect x="914.3" y="399.4" width="2.6" height="2.6" fill="#5a1cff" shape-rendering="crispEdges"/>
<rect x="870.6" y="401.8" width="2.6" height="2.6" fill="#5a1cff" shape-rendering="crispEdges"/>
<rect x="872.9" y="401.8" width="4.9" height="2.6" fill="#2838ff" shape-rendering="crispEdges"/>
<rect x="877.5" y="401.8" width="2.6" height="2.6" fill="#28a8ff" shape-rendering="crispEdges"/>
<rect x="879.8" y="401.8" width="30.2" height="2.6" fill="#98f040" shape-rendering="crispEdges"/>
<rect x="909.7" y="401.8" width="2.6" height="2.6" fill="#28a8ff" shape-rendering="crispEdges"/>
<rect x="912.0" y="401.8" width="4.9" height="2.6" fill="#2838ff" shape-rendering="crispEdges"/>
<rect x="916.6" y="401.8" width="2.6" height="2.6" fill="#5a1cff" shape-rendering="crispEdges"/>
<rect x="870.6" y="404.1" width="2.6" height="2.6" fill="#5a1cff" shape-rendering="crispEdges"/>
<rect x="872.9" y="404.1" width="2.6" height="2.6" fill="#2838ff" shape-rendering="crispEdges"/>
<rect x="875.2" y="404.1" width="2.6" height="2.6" fill="#28a8ff" shape-rendering="crispEdges"/>
<rect x="877.5" y="404.1" width="34.8" height="2.6" fill="#98f040" shape-rendering="crispEdges"/>
<rect x="912.0" y="404.1" width="2.6" height="2.6" fill="#58f0c0" shape-rendering="crispEdges"/>
<rect x="914.3" y="404.1" width="4.9" height="2.6" fill="#2838ff" shape-rendering="crispEdges"/>
<rect x="918.9" y="404.1" width="2.6" height="2.6" fill="#5a1cff" shape-rendering="crispEdges"/>
<rect x="868.3" y="406.4" width="2.6" height="2.6" fill="#5a1cff" shape-rendering="crispEdges"/>
<rect x="870.6" y="406.4" width="2.6" height="2.6" fill="#2838ff" shape-rendering="crispEdges"/>
<rect x="872.9" y="406.4" width="2.6" height="2.6" fill="#28a8ff" shape-rendering="crispEdges"/>
<rect x="875.2" y="406.4" width="2.6" height="2.6" fill="#58f0c0" shape-rendering="crispEdges"/>
<rect x="877.5" y="406.4" width="37.1" height="2.6" fill="#98f040" shape-rendering="crispEdges"/>
<rect x="914.3" y="406.4" width="2.6" height="2.6" fill="#28a8ff" shape-rendering="crispEdges"/>
<rect x="916.6" y="406.4" width="2.6" height="2.6" fill="#2838ff" shape-rendering="crispEdges"/>
<rect x="918.9" y="406.4" width="2.6" height="2.6" fill="#5a1cff" shape-rendering="crispEdges"/>
<rect x="868.3" y="408.7" width="2.6" height="2.6" fill="#5a1cff" shape-rendering="crispEdges"/>
<rect x="870.6" y="408.7" width="2.6" height="2.6" fill="#2838ff" shape-rendering="crispEdges"/>
<rect x="872.9" y="408.7" width="2.6" height="2.6" fill="#28a8ff" shape-rendering="crispEdges"/>
<rect x="875.2" y="408.7" width="14.1" height="2.6" fill="#98f040" shape-rendering="crispEdges"/>
<rect x="889.0" y="408.7" width="11.8" height="2.6" fill="#b0f838" shape-rendering="crispEdges"/>
<rect x="900.5" y="408.7" width="14.1" height="2.6" fill="#98f040" shape-rendering="crispEdges"/>
<rect x="914.3" y="408.7" width="2.6" height="2.6" fill="#28a8ff" shape-rendering="crispEdges"/>
<rect x="916.6" y="408.7" width="2.6" height="2.6" fill="#2838ff" shape-rendering="crispEdges"/>
<rect x="918.9" y="408.7" width="2.6" height="2.6" fill="#5a1cff" shape-rendering="crispEdges"/>
<rect x="868.3" y="410.9" width="2.6" height="2.6" fill="#5a1cff" shape-rendering="crispEdges"/>
<rect x="870.6" y="410.9" width="2.6" height="2.6" fill="#2838ff" shape-rendering="crispEdges"/>
<rect x="872.9" y="410.9" width="2.6" height="2.6" fill="#28a8ff" shape-rendering="crispEdges"/>
<rect x="875.2" y="410.9" width="11.8" height="2.6" fill="#98f040" shape-rendering="crispEdges"/>
<rect x="886.7" y="410.9" width="16.4" height="2.6" fill="#b0f838" shape-rendering="crispEdges"/>
<rect x="902.8" y="410.9" width="11.8" height="2.6" fill="#98f040" shape-rendering="crispEdges"/>
<rect x="914.3" y="410.9" width="2.6" height="2.6" fill="#58f0c0" shape-rendering="crispEdges"/>
<rect x="916.6" y="410.9" width="2.6" height="2.6" fill="#2838ff" shape-rendering="crispEdges"/>
<rect x="918.9" y="410.9" width="2.6" height="2.6" fill="#5a1cff" shape-rendering="crispEdges"/>
<rect x="868.3" y="413.2" width="2.6" height="2.6" fill="#5a1cff" shape-rendering="crispEdges"/>
<rect x="870.6" y="413.2" width="2.6" height="2.6" fill="#2838ff" shape-rendering="crispEdges"/>
<rect x="872.9" y="413.2" width="2.6" height="2.6" fill="#58f0c0" shape-rendering="crispEdges"/>
<rect x="875.2" y="413.2" width="11.8" height="2.6" fill="#98f040" shape-rendering="crispEdges"/>
<rect x="886.7" y="413.2" width="16.4" height="2.6" fill="#b0f838" shape-rendering="crispEdges"/>
<rect x="902.8" y="413.2" width="11.8" height="2.6" fill="#98f040" shape-rendering="crispEdges"/>
<rect x="914.3" y="413.2" width="2.6" height="2.6" fill="#58f0c0" shape-rendering="crispEdges"/>
<rect x="916.6" y="413.2" width="2.6" height="2.6" fill="#2838ff" shape-rendering="crispEdges"/>
<rect x="918.9" y="413.2" width="2.6" height="2.6" fill="#5a1cff" shape-rendering="crispEdges"/>
<rect x="868.3" y="415.6" width="2.6" height="2.6" fill="#5a1cff" shape-rendering="crispEdges"/>
<rect x="870.6" y="415.6" width="2.6" height="2.6" fill="#2838ff" shape-rendering="crispEdges"/>
<rect x="872.9" y="415.6" width="2.6" height="2.6" fill="#58f0c0" shape-rendering="crispEdges"/>
<rect x="875.2" y="415.6" width="11.8" height="2.6" fill="#98f040" shape-rendering="crispEdges"/>
<rect x="886.7" y="415.6" width="16.4" height="2.6" fill="#b0f838" shape-rendering="crispEdges"/>
<rect x="902.8" y="415.6" width="11.8" height="2.6" fill="#98f040" shape-rendering="crispEdges"/>
<rect x="914.3" y="415.6" width="2.6" height="2.6" fill="#58f0c0" shape-rendering="crispEdges"/>
<rect x="916.6" y="415.6" width="2.6" height="2.6" fill="#2838ff" shape-rendering="crispEdges"/>
<rect x="918.9" y="415.6" width="2.6" height="2.6" fill="#5a1cff" shape-rendering="crispEdges"/>
<rect x="868.3" y="417.9" width="2.6" height="2.6" fill="#5a1cff" shape-rendering="crispEdges"/>
<rect x="870.6" y="417.9" width="2.6" height="2.6" fill="#2838ff" shape-rendering="crispEdges"/>
<rect x="872.9" y="417.9" width="2.6" height="2.6" fill="#58f0c0" shape-rendering="crispEdges"/>
<rect x="875.2" y="417.9" width="11.8" height="2.6" fill="#98f040" shape-rendering="crispEdges"/>
<rect x="886.7" y="417.9" width="16.4" height="2.6" fill="#b0f838" shape-rendering="crispEdges"/>
<rect x="902.8" y="417.9" width="11.8" height="2.6" fill="#98f040" shape-rendering="crispEdges"/>
<rect x="914.3" y="417.9" width="2.6" height="2.6" fill="#58f0c0" shape-rendering="crispEdges"/>
<rect x="916.6" y="417.9" width="2.6" height="2.6" fill="#2838ff" shape-rendering="crispEdges"/>
<rect x="918.9" y="417.9" width="2.6" height="2.6" fill="#5a1cff" shape-rendering="crispEdges"/>
<rect x="868.3" y="420.2" width="2.6" height="2.6" fill="#5a1cff" shape-rendering="crispEdges"/>
<rect x="870.6" y="420.2" width="2.6" height="2.6" fill="#2838ff" shape-rendering="crispEdges"/>
<rect x="872.9" y="420.2" width="2.6" height="2.6" fill="#28a8ff" shape-rendering="crispEdges"/>
<rect x="875.2" y="420.2" width="11.8" height="2.6" fill="#98f040" shape-rendering="crispEdges"/>
<rect x="886.7" y="420.2" width="16.4" height="2.6" fill="#b0f838" shape-rendering="crispEdges"/>
<rect x="902.8" y="420.2" width="11.8" height="2.6" fill="#98f040" shape-rendering="crispEdges"/>
<rect x="914.3" y="420.2" width="2.6" height="2.6" fill="#28a8ff" shape-rendering="crispEdges"/>
<rect x="916.6" y="420.2" width="2.6" height="2.6" fill="#2838ff" shape-rendering="crispEdges"/>
<rect x="918.9" y="420.2" width="2.6" height="2.6" fill="#5a1cff" shape-rendering="crispEdges"/>
<rect x="868.3" y="422.4" width="2.6" height="2.6" fill="#5a1cff" shape-rendering="crispEdges"/>
<rect x="870.6" y="422.4" width="2.6" height="2.6" fill="#2838ff" shape-rendering="crispEdges"/>
<rect x="872.9" y="422.4" width="2.6" height="2.6" fill="#28a8ff" shape-rendering="crispEdges"/>
<rect x="875.2" y="422.4" width="2.6" height="2.6" fill="#58f0c0" shape-rendering="crispEdges"/>
<rect x="877.5" y="422.4" width="11.8" height="2.6" fill="#98f040" shape-rendering="crispEdges"/>
<rect x="889.0" y="422.4" width="11.8" height="2.6" fill="#b0f838" shape-rendering="crispEdges"/>
<rect x="900.5" y="422.4" width="14.1" height="2.6" fill="#98f040" shape-rendering="crispEdges"/>
<rect x="914.3" y="422.4" width="2.6" height="2.6" fill="#28a8ff" shape-rendering="crispEdges"/>
<rect x="916.6" y="422.4" width="2.6" height="2.6" fill="#2838ff" shape-rendering="crispEdges"/>
<rect x="918.9" y="422.4" width="2.6" height="2.6" fill="#5a1cff" shape-rendering="crispEdges"/>
<rect x="870.6" y="424.8" width="2.6" height="2.6" fill="#5a1cff" shape-rendering="crispEdges"/>
<rect x="872.9" y="424.8" width="2.6" height="2.6" fill="#2838ff" shape-rendering="crispEdges"/>
<rect x="875.2" y="424.8" width="2.6" height="2.6" fill="#28a8ff" shape-rendering="crispEdges"/>
<rect x="877.5" y="424.8" width="34.8" height="2.6" fill="#98f040" shape-rendering="crispEdges"/>
<rect x="912.0" y="424.8" width="2.6" height="2.6" fill="#58f0c0" shape-rendering="crispEdges"/>
<rect x="914.3" y="424.8" width="4.9" height="2.6" fill="#2838ff" shape-rendering="crispEdges"/>
<rect x="870.6" y="427.1" width="2.6" height="2.6" fill="#5a1cff" shape-rendering="crispEdges"/>
<rect x="872.9" y="427.1" width="2.6" height="2.6" fill="#2838ff" shape-rendering="crispEdges"/>
<rect x="875.2" y="427.1" width="2.6" height="2.6" fill="#28a8ff" shape-rendering="crispEdges"/>
<rect x="877.5" y="427.1" width="2.6" height="2.6" fill="#58f0c0" shape-rendering="crispEdges"/>
<rect x="879.8" y="427.1" width="30.2" height="2.6" fill="#98f040" shape-rendering="crispEdges"/>
<rect x="909.7" y="427.1" width="2.6" height="2.6" fill="#58f0c0" shape-rendering="crispEdges"/>
<rect x="912.0" y="427.1" width="2.6" height="2.6" fill="#28a8ff" shape-rendering="crispEdges"/>
<rect x="914.3" y="427.1" width="2.6" height="2.6" fill="#2838ff" shape-rendering="crispEdges"/>
<rect x="916.6" y="427.1" width="2.6" height="2.6" fill="#5a1cff" shape-rendering="crispEdges"/>
<rect x="872.9" y="429.4" width="2.6" height="2.6" fill="#5a1cff" shape-rendering="crispEdges"/>
<rect x="875.2" y="429.4" width="2.6" height="2.6" fill="#2838ff" shape-rendering="crispEdges"/>
<rect x="877.5" y="429.4" width="2.6" height="2.6" fill="#28a8ff" shape-rendering="crispEdges"/>
<rect x="879.8" y="429.4" width="30.2" height="2.6" fill="#98f040" shape-rendering="crispEdges"/>
<rect x="909.7" y="429.4" width="2.6" height="2.6" fill="#28a8ff" shape-rendering="crispEdges"/>
<rect x="912.0" y="429.4" width="2.6" height="2.6" fill="#2838ff" shape-rendering="crispEdges"/>
<rect x="914.3" y="429.4" width="2.6" height="2.6" fill="#5a1cff" shape-rendering="crispEdges"/>
<rect x="872.9" y="431.7" width="2.6" height="2.6" fill="#5a1cff" shape-rendering="crispEdges"/>
<rect x="875.2" y="431.7" width="2.6" height="2.6" fill="#2838ff" shape-rendering="crispEdges"/>
<rect x="877.5" y="431.7" width="2.6" height="2.6" fill="#28a8ff" shape-rendering="crispEdges"/>
<rect x="879.8" y="431.7" width="2.6" height="2.6" fill="#58f0c0" shape-rendering="crispEdges"/>
<rect x="882.1" y="431.7" width="25.6" height="2.6" fill="#98f040" shape-rendering="crispEdges"/>
<rect x="907.4" y="431.7" width="2.6" height="2.6" fill="#58f0c0" shape-rendering="crispEdges"/>
<rect x="909.7" y="431.7" width="4.9" height="2.6" fill="#2838ff" shape-rendering="crispEdges"/>
<rect x="914.3" y="431.7" width="2.6" height="2.6" fill="#5a1cff" shape-rendering="crispEdges"/>
<rect x="875.2" y="433.9" width="2.6" height="2.6" fill="#5a1cff" shape-rendering="crispEdges"/>
<rect x="877.5" y="433.9" width="2.6" height="2.6" fill="#2838ff" shape-rendering="crispEdges"/>
<rect x="879.8" y="433.9" width="2.6" height="2.6" fill="#28a8ff" shape-rendering="crispEdges"/>
<rect x="882.1" y="433.9" width="4.9" height="2.6" fill="#58f0c0" shape-rendering="crispEdges"/>
<rect x="886.7" y="433.9" width="14.1" height="2.6" fill="#98f040" shape-rendering="crispEdges"/>
<rect x="900.5" y="433.9" width="2.6" height="2.6" fill="#58f0c0" shape-rendering="crispEdges"/>
<rect x="902.8" y="433.9" width="4.9" height="2.6" fill="#28a8ff" shape-rendering="crispEdges"/>
<rect x="907.4" y="433.9" width="4.9" height="2.6" fill="#2838ff" shape-rendering="crispEdges"/>
<rect x="912.0" y="433.9" width="2.6" height="2.6" fill="#5a1cff" shape-rendering="crispEdges"/>
<rect x="875.2" y="436.2" width="4.9" height="2.6" fill="#5a1cff" shape-rendering="crispEdges"/>
<rect x="879.8" y="436.2" width="4.9" height="2.6" fill="#2838ff" shape-rendering="crispEdges"/>
<rect x="884.4" y="436.2" width="4.9" height="2.6" fill="#28a8ff" shape-rendering="crispEdges"/>
<rect x="889.0" y="436.2" width="7.2" height="2.6" fill="#58f0c0" shape-rendering="crispEdges"/>
<rect x="895.9" y="436.2" width="4.9" height="2.6" fill="#28a8ff" shape-rendering="crispEdges"/>
<rect x="900.5" y="436.2" width="9.5" height="2.6" fill="#2838ff" shape-rendering="crispEdges"/>
<rect x="909.7" y="436.2" width="2.6" height="2.6" fill="#5a1cff" shape-rendering="crispEdges"/>
<rect x="879.8" y="438.6" width="4.9" height="2.6" fill="#5a1cff" shape-rendering="crispEdges"/>
<rect x="884.4" y="438.6" width="18.7" height="2.6" fill="#2838ff" shape-rendering="crispEdges"/>
<rect x="902.8" y="438.6" width="4.9" height="2.6" fill="#5a1cff" shape-rendering="crispEdges"/>
<rect x="884.4" y="440.9" width="7.2" height="2.6" fill="#5a1cff" shape-rendering="crispEdges"/>
<rect x="891.3" y="440.9" width="2.6" height="2.6" fill="#2838ff" shape-rendering="crispEdges"/>
<rect x="893.6" y="440.9" width="7.2" height="2.6" fill="#5a1cff" shape-rendering="crispEdges"/>
<rect x="955.0" y="386.9" width="7.2" height="2.6" fill="#5a1cff" shape-rendering="crispEdges"/>
<rect x="943.5" y="389.2" width="9.5" height="2.6" fill="#5a1cff" shape-rendering="crispEdges"/>
<rect x="952.6" y="389.2" width="11.8" height="2.6" fill="#2838ff" shape-rendering="crispEdges"/>
<rect x="964.1" y="389.2" width="7.2" height="2.6" fill="#5a1cff" shape-rendering="crispEdges"/>
<rect x="938.9" y="391.5" width="4.9" height="2.6" fill="#5a1cff" shape-rendering="crispEdges"/>
<rect x="943.5" y="391.5" width="9.5" height="2.6" fill="#2838ff" shape-rendering="crispEdges"/>
<rect x="952.6" y="391.5" width="14.1" height="2.6" fill="#28b0ff" shape-rendering="crispEdges"/>
<rect x="966.5" y="391.5" width="4.9" height="2.6" fill="#2838ff" shape-rendering="crispEdges"/>
<rect x="971.0" y="391.5" width="7.2" height="2.6" fill="#5a1cff" shape-rendering="crispEdges"/>
<rect x="936.5" y="393.8" width="4.9" height="2.6" fill="#5a1cff" shape-rendering="crispEdges"/>
<rect x="941.1" y="393.8" width="2.6" height="2.6" fill="#2838ff" shape-rendering="crispEdges"/>
<rect x="943.5" y="393.8" width="11.8" height="2.6" fill="#28b0ff" shape-rendering="crispEdges"/>
<rect x="955.0" y="393.8" width="9.5" height="2.6" fill="#60f0d0" shape-rendering="crispEdges"/>
<rect x="964.1" y="393.8" width="9.5" height="2.6" fill="#28b0ff" shape-rendering="crispEdges"/>
<rect x="973.4" y="393.8" width="2.6" height="2.6" fill="#2838ff" shape-rendering="crispEdges"/>
<rect x="975.6" y="393.8" width="4.9" height="2.6" fill="#5a1cff" shape-rendering="crispEdges"/>
<rect x="936.5" y="396.1" width="2.6" height="2.6" fill="#5a1cff" shape-rendering="crispEdges"/>
<rect x="938.9" y="396.1" width="2.6" height="2.6" fill="#2838ff" shape-rendering="crispEdges"/>
<rect x="941.1" y="396.1" width="4.9" height="2.6" fill="#28b0ff" shape-rendering="crispEdges"/>
<rect x="945.8" y="396.1" width="2.6" height="2.6" fill="#60f0d0" shape-rendering="crispEdges"/>
<rect x="948.0" y="396.1" width="7.2" height="2.6" fill="#a8f050" shape-rendering="crispEdges"/>
<rect x="955.0" y="396.1" width="7.2" height="2.6" fill="#f8e020" shape-rendering="crispEdges"/>
<rect x="961.9" y="396.1" width="4.9" height="2.6" fill="#a8f050" shape-rendering="crispEdges"/>
<rect x="966.5" y="396.1" width="7.2" height="2.6" fill="#60f0d0" shape-rendering="crispEdges"/>
<rect x="973.4" y="396.1" width="4.9" height="2.6" fill="#28b0ff" shape-rendering="crispEdges"/>
<rect x="978.0" y="396.1" width="2.6" height="2.6" fill="#5a1cff" shape-rendering="crispEdges"/>
<rect x="934.2" y="398.4" width="2.6" height="2.6" fill="#5a1cff" shape-rendering="crispEdges"/>
<rect x="936.5" y="398.4" width="4.9" height="2.6" fill="#2838ff" shape-rendering="crispEdges"/>
<rect x="941.1" y="398.4" width="2.6" height="2.6" fill="#28b0ff" shape-rendering="crispEdges"/>
<rect x="943.5" y="398.4" width="2.6" height="2.6" fill="#60f0d0" shape-rendering="crispEdges"/>
<rect x="945.8" y="398.4" width="4.9" height="2.6" fill="#f8e020" shape-rendering="crispEdges"/>
<rect x="950.4" y="398.4" width="16.4" height="2.6" fill="#ea2c18" shape-rendering="crispEdges"/>
<rect x="966.5" y="398.4" width="4.9" height="2.6" fill="#f8e020" shape-rendering="crispEdges"/>
<rect x="971.0" y="398.4" width="2.6" height="2.6" fill="#a8f050" shape-rendering="crispEdges"/>
<rect x="973.4" y="398.4" width="2.6" height="2.6" fill="#60f0d0" shape-rendering="crispEdges"/>
<rect x="975.6" y="398.4" width="2.6" height="2.6" fill="#28b0ff" shape-rendering="crispEdges"/>
<rect x="978.0" y="398.4" width="2.6" height="2.6" fill="#2838ff" shape-rendering="crispEdges"/>
<rect x="980.2" y="398.4" width="2.6" height="2.6" fill="#5a1cff" shape-rendering="crispEdges"/>
<rect x="934.2" y="400.7" width="2.6" height="2.6" fill="#5a1cff" shape-rendering="crispEdges"/>
<rect x="936.5" y="400.7" width="2.6" height="2.6" fill="#2838ff" shape-rendering="crispEdges"/>
<rect x="938.9" y="400.7" width="4.9" height="2.6" fill="#28b0ff" shape-rendering="crispEdges"/>
<rect x="943.5" y="400.7" width="2.6" height="2.6" fill="#f8e020" shape-rendering="crispEdges"/>
<rect x="945.8" y="400.7" width="25.6" height="2.6" fill="#ea2c18" shape-rendering="crispEdges"/>
<rect x="971.0" y="400.7" width="2.6" height="2.6" fill="#f8e020" shape-rendering="crispEdges"/>
<rect x="973.4" y="400.7" width="2.6" height="2.6" fill="#a8f050" shape-rendering="crispEdges"/>
<rect x="975.6" y="400.7" width="2.6" height="2.6" fill="#60f0d0" shape-rendering="crispEdges"/>
<rect x="978.0" y="400.7" width="2.6" height="2.6" fill="#28b0ff" shape-rendering="crispEdges"/>
<rect x="980.2" y="400.7" width="2.6" height="2.6" fill="#5a1cff" shape-rendering="crispEdges"/>
<rect x="932.0" y="403.0" width="2.6" height="2.6" fill="#5a1cff" shape-rendering="crispEdges"/>
<rect x="934.2" y="403.0" width="4.9" height="2.6" fill="#2838ff" shape-rendering="crispEdges"/>
<rect x="938.9" y="403.0" width="2.6" height="2.6" fill="#28b0ff" shape-rendering="crispEdges"/>
<rect x="941.1" y="403.0" width="2.6" height="2.6" fill="#a8f050" shape-rendering="crispEdges"/>
<rect x="943.5" y="403.0" width="30.2" height="2.6" fill="#ea2c18" shape-rendering="crispEdges"/>
<rect x="973.4" y="403.0" width="2.6" height="2.6" fill="#a8f050" shape-rendering="crispEdges"/>
<rect x="975.6" y="403.0" width="2.6" height="2.6" fill="#60f0d0" shape-rendering="crispEdges"/>
<rect x="978.0" y="403.0" width="2.6" height="2.6" fill="#28b0ff" shape-rendering="crispEdges"/>
<rect x="980.2" y="403.0" width="2.6" height="2.6" fill="#2838ff" shape-rendering="crispEdges"/>
<rect x="982.5" y="403.0" width="2.6" height="2.6" fill="#5a1cff" shape-rendering="crispEdges"/>
<rect x="932.0" y="405.3" width="2.6" height="2.6" fill="#5a1cff" shape-rendering="crispEdges"/>
<rect x="934.2" y="405.3" width="2.6" height="2.6" fill="#2838ff" shape-rendering="crispEdges"/>
<rect x="936.5" y="405.3" width="4.9" height="2.6" fill="#28b0ff" shape-rendering="crispEdges"/>
<rect x="941.1" y="405.3" width="2.6" height="2.6" fill="#f8e020" shape-rendering="crispEdges"/>
<rect x="943.5" y="405.3" width="9.5" height="2.6" fill="#ea2c18" shape-rendering="crispEdges"/>
<rect x="952.6" y="405.3" width="11.8" height="2.6" fill="#f47818" shape-rendering="crispEdges"/>
<rect x="964.1" y="405.3" width="9.5" height="2.6" fill="#ea2c18" shape-rendering="crispEdges"/>
<rect x="973.4" y="405.3" width="2.6" height="2.6" fill="#f8e020" shape-rendering="crispEdges"/>
<rect x="975.6" y="405.3" width="2.6" height="2.6" fill="#a8f050" shape-rendering="crispEdges"/>
<rect x="978.0" y="405.3" width="2.6" height="2.6" fill="#60f0d0" shape-rendering="crispEdges"/>
<rect x="980.2" y="405.3" width="2.6" height="2.6" fill="#28b0ff" shape-rendering="crispEdges"/>
<rect x="982.5" y="405.3" width="2.6" height="2.6" fill="#5a1cff" shape-rendering="crispEdges"/>
<rect x="929.6" y="407.6" width="2.6" height="2.6" fill="#5a1cff" shape-rendering="crispEdges"/>
<rect x="932.0" y="407.6" width="4.9" height="2.6" fill="#2838ff" shape-rendering="crispEdges"/>
<rect x="936.5" y="407.6" width="2.6" height="2.6" fill="#28b0ff" shape-rendering="crispEdges"/>
<rect x="938.9" y="407.6" width="2.6" height="2.6" fill="#a8f050" shape-rendering="crispEdges"/>
<rect x="941.1" y="407.6" width="9.5" height="2.6" fill="#ea2c18" shape-rendering="crispEdges"/>
<rect x="950.4" y="407.6" width="16.4" height="2.6" fill="#f47818" shape-rendering="crispEdges"/>
<rect x="966.5" y="407.6" width="9.5" height="2.6" fill="#ea2c18" shape-rendering="crispEdges"/>
<rect x="975.6" y="407.6" width="2.6" height="2.6" fill="#a8f050" shape-rendering="crispEdges"/>
<rect x="978.0" y="407.6" width="2.6" height="2.6" fill="#60f0d0" shape-rendering="crispEdges"/>
<rect x="980.2" y="407.6" width="2.6" height="2.6" fill="#28b0ff" shape-rendering="crispEdges"/>
<rect x="982.5" y="407.6" width="2.6" height="2.6" fill="#2838ff" shape-rendering="crispEdges"/>
<rect x="984.9" y="407.6" width="2.6" height="2.6" fill="#5a1cff" shape-rendering="crispEdges"/>
<rect x="929.6" y="409.9" width="2.6" height="2.6" fill="#5a1cff" shape-rendering="crispEdges"/>
<rect x="932.0" y="409.9" width="2.6" height="2.6" fill="#2838ff" shape-rendering="crispEdges"/>
<rect x="934.2" y="409.9" width="4.9" height="2.6" fill="#28b0ff" shape-rendering="crispEdges"/>
<rect x="938.9" y="409.9" width="2.6" height="2.6" fill="#f8e020" shape-rendering="crispEdges"/>
<rect x="941.1" y="409.9" width="7.2" height="2.6" fill="#ea2c18" shape-rendering="crispEdges"/>
<rect x="948.0" y="409.9" width="9.5" height="2.6" fill="#f47818" shape-rendering="crispEdges"/>
<rect x="957.2" y="409.9" width="2.6" height="2.6" fill="#f8a828" shape-rendering="crispEdges"/>
<rect x="959.5" y="409.9" width="9.5" height="2.6" fill="#f47818" shape-rendering="crispEdges"/>
<rect x="968.8" y="409.9" width="7.2" height="2.6" fill="#ea2c18" shape-rendering="crispEdges"/>
<rect x="975.6" y="409.9" width="2.6" height="2.6" fill="#f8e020" shape-rendering="crispEdges"/>
<rect x="978.0" y="409.9" width="4.9" height="2.6" fill="#60f0d0" shape-rendering="crispEdges"/>
<rect x="982.5" y="409.9" width="2.6" height="2.6" fill="#2838ff" shape-rendering="crispEdges"/>
<rect x="984.9" y="409.9" width="2.6" height="2.6" fill="#5a1cff" shape-rendering="crispEdges"/>
<rect x="929.6" y="412.2" width="2.6" height="2.6" fill="#5a1cff" shape-rendering="crispEdges"/>
<rect x="932.0" y="412.2" width="2.6" height="2.6" fill="#2838ff" shape-rendering="crispEdges"/>
<rect x="934.2" y="412.2" width="4.9" height="2.6" fill="#28b0ff" shape-rendering="crispEdges"/>
<rect x="938.9" y="412.2" width="2.6" height="2.6" fill="#f8e020" shape-rendering="crispEdges"/>
<rect x="941.1" y="412.2" width="7.2" height="2.6" fill="#ea2c18" shape-rendering="crispEdges"/>
<rect x="948.0" y="412.2" width="7.2" height="2.6" fill="#f47818" shape-rendering="crispEdges"/>
<rect x="955.0" y="412.2" width="7.2" height="2.6" fill="#f8a828" shape-rendering="crispEdges"/>
<rect x="961.9" y="412.2" width="7.2" height="2.6" fill="#f47818" shape-rendering="crispEdges"/>
<rect x="968.8" y="412.2" width="7.2" height="2.6" fill="#ea2c18" shape-rendering="crispEdges"/>
<rect x="975.6" y="412.2" width="2.6" height="2.6" fill="#f8e020" shape-rendering="crispEdges"/>
<rect x="978.0" y="412.2" width="2.6" height="2.6" fill="#a8f050" shape-rendering="crispEdges"/>
<rect x="980.2" y="412.2" width="2.6" height="2.6" fill="#60f0d0" shape-rendering="crispEdges"/>
<rect x="982.5" y="412.2" width="2.6" height="2.6" fill="#28b0ff" shape-rendering="crispEdges"/>
<rect x="984.9" y="412.2" width="2.6" height="2.6" fill="#5a1cff" shape-rendering="crispEdges"/>
<rect x="929.6" y="414.5" width="2.6" height="2.6" fill="#5a1cff" shape-rendering="crispEdges"/>
<rect x="932.0" y="414.5" width="2.6" height="2.6" fill="#2838ff" shape-rendering="crispEdges"/>
<rect x="934.2" y="414.5" width="4.9" height="2.6" fill="#28b0ff" shape-rendering="crispEdges"/>
<rect x="938.9" y="414.5" width="2.6" height="2.6" fill="#f8e020" shape-rendering="crispEdges"/>
<rect x="941.1" y="414.5" width="7.2" height="2.6" fill="#ea2c18" shape-rendering="crispEdges"/>
<rect x="948.0" y="414.5" width="4.9" height="2.6" fill="#f47818" shape-rendering="crispEdges"/>
<rect x="952.6" y="414.5" width="11.8" height="2.6" fill="#f8a828" shape-rendering="crispEdges"/>
<rect x="964.1" y="414.5" width="4.9" height="2.6" fill="#f47818" shape-rendering="crispEdges"/>
<rect x="968.8" y="414.5" width="7.2" height="2.6" fill="#ea2c18" shape-rendering="crispEdges"/>
<rect x="975.6" y="414.5" width="2.6" height="2.6" fill="#f8e020" shape-rendering="crispEdges"/>
<rect x="978.0" y="414.5" width="2.6" height="2.6" fill="#a8f050" shape-rendering="crispEdges"/>
<rect x="980.2" y="414.5" width="2.6" height="2.6" fill="#60f0d0" shape-rendering="crispEdges"/>
<rect x="982.5" y="414.5" width="2.6" height="2.6" fill="#28b0ff" shape-rendering="crispEdges"/>
<rect x="984.9" y="414.5" width="2.6" height="2.6" fill="#5a1cff" shape-rendering="crispEdges"/>
<rect x="929.6" y="416.8" width="2.6" height="2.6" fill="#5a1cff" shape-rendering="crispEdges"/>
<rect x="932.0" y="416.8" width="2.6" height="2.6" fill="#2838ff" shape-rendering="crispEdges"/>
<rect x="934.2" y="416.8" width="4.9" height="2.6" fill="#28b0ff" shape-rendering="crispEdges"/>
<rect x="938.9" y="416.8" width="2.6" height="2.6" fill="#f8e020" shape-rendering="crispEdges"/>
<rect x="941.1" y="416.8" width="7.2" height="2.6" fill="#ea2c18" shape-rendering="crispEdges"/>
<rect x="948.0" y="416.8" width="7.2" height="2.6" fill="#f47818" shape-rendering="crispEdges"/>
<rect x="955.0" y="416.8" width="7.2" height="2.6" fill="#f8a828" shape-rendering="crispEdges"/>
<rect x="961.9" y="416.8" width="7.2" height="2.6" fill="#f47818" shape-rendering="crispEdges"/>
<rect x="968.8" y="416.8" width="7.2" height="2.6" fill="#ea2c18" shape-rendering="crispEdges"/>
<rect x="975.6" y="416.8" width="2.6" height="2.6" fill="#f8e020" shape-rendering="crispEdges"/>
<rect x="978.0" y="416.8" width="2.6" height="2.6" fill="#a8f050" shape-rendering="crispEdges"/>
<rect x="980.2" y="416.8" width="2.6" height="2.6" fill="#60f0d0" shape-rendering="crispEdges"/>
<rect x="982.5" y="416.8" width="2.6" height="2.6" fill="#2838ff" shape-rendering="crispEdges"/>
<rect x="984.9" y="416.8" width="2.6" height="2.6" fill="#5a1cff" shape-rendering="crispEdges"/>
<rect x="929.6" y="419.1" width="2.6" height="2.6" fill="#5a1cff" shape-rendering="crispEdges"/>
<rect x="932.0" y="419.1" width="4.9" height="2.6" fill="#2838ff" shape-rendering="crispEdges"/>
<rect x="936.5" y="419.1" width="2.6" height="2.6" fill="#28b0ff" shape-rendering="crispEdges"/>
<rect x="938.9" y="419.1" width="2.6" height="2.6" fill="#f8e020" shape-rendering="crispEdges"/>
<rect x="941.1" y="419.1" width="7.2" height="2.6" fill="#ea2c18" shape-rendering="crispEdges"/>
<rect x="948.0" y="419.1" width="9.5" height="2.6" fill="#f47818" shape-rendering="crispEdges"/>
<rect x="957.2" y="419.1" width="2.6" height="2.6" fill="#f8a828" shape-rendering="crispEdges"/>
<rect x="959.5" y="419.1" width="9.5" height="2.6" fill="#f47818" shape-rendering="crispEdges"/>
<rect x="968.8" y="419.1" width="7.2" height="2.6" fill="#ea2c18" shape-rendering="crispEdges"/>
<rect x="975.6" y="419.1" width="2.6" height="2.6" fill="#f8e020" shape-rendering="crispEdges"/>
<rect x="978.0" y="419.1" width="2.6" height="2.6" fill="#60f0d0" shape-rendering="crispEdges"/>
<rect x="980.2" y="419.1" width="2.6" height="2.6" fill="#28b0ff" shape-rendering="crispEdges"/>
<rect x="982.5" y="419.1" width="2.6" height="2.6" fill="#2838ff" shape-rendering="crispEdges"/>
<rect x="984.9" y="419.1" width="2.6" height="2.6" fill="#5a1cff" shape-rendering="crispEdges"/>
<rect x="932.0" y="421.4" width="4.9" height="2.6" fill="#2838ff" shape-rendering="crispEdges"/>
<rect x="936.5" y="421.4" width="2.6" height="2.6" fill="#28b0ff" shape-rendering="crispEdges"/>
<rect x="938.9" y="421.4" width="2.6" height="2.6" fill="#a8f050" shape-rendering="crispEdges"/>
<rect x="941.1" y="421.4" width="9.5" height="2.6" fill="#ea2c18" shape-rendering="crispEdges"/>
<rect x="950.4" y="421.4" width="16.4" height="2.6" fill="#f47818" shape-rendering="crispEdges"/>
<rect x="966.5" y="421.4" width="9.5" height="2.6" fill="#ea2c18" shape-rendering="crispEdges"/>
<rect x="975.6" y="421.4" width="2.6" height="2.6" fill="#a8f050" shape-rendering="crispEdges"/>
<rect x="978.0" y="421.4" width="2.6" height="2.6" fill="#60f0d0" shape-rendering="crispEdges"/>
<rect x="980.2" y="421.4" width="2.6" height="2.6" fill="#28b0ff" shape-rendering="crispEdges"/>
<rect x="982.5" y="421.4" width="2.6" height="2.6" fill="#5a1cff" shape-rendering="crispEdges"/>
<rect x="932.0" y="423.7" width="2.6" height="2.6" fill="#5a1cff" shape-rendering="crispEdges"/>
<rect x="934.2" y="423.7" width="2.6" height="2.6" fill="#2838ff" shape-rendering="crispEdges"/>
<rect x="936.5" y="423.7" width="2.6" height="2.6" fill="#28b0ff" shape-rendering="crispEdges"/>
<rect x="938.9" y="423.7" width="2.6" height="2.6" fill="#60f0d0" shape-rendering="crispEdges"/>
<rect x="941.1" y="423.7" width="2.6" height="2.6" fill="#f8e020" shape-rendering="crispEdges"/>
<rect x="943.5" y="423.7" width="9.5" height="2.6" fill="#ea2c18" shape-rendering="crispEdges"/>
<rect x="952.6" y="423.7" width="11.8" height="2.6" fill="#f47818" shape-rendering="crispEdges"/>
<rect x="964.1" y="423.7" width="9.5" height="2.6" fill="#ea2c18" shape-rendering="crispEdges"/>
<rect x="973.4" y="423.7" width="2.6" height="2.6" fill="#f8e020" shape-rendering="crispEdges"/>
<rect x="975.6" y="423.7" width="2.6" height="2.6" fill="#a8f050" shape-rendering="crispEdges"/>
<rect x="978.0" y="423.7" width="2.6" height="2.6" fill="#60f0d0" shape-rendering="crispEdges"/>
<rect x="980.2" y="423.7" width="2.6" height="2.6" fill="#28b0ff" shape-rendering="crispEdges"/>
<rect x="982.5" y="423.7" width="2.6" height="2.6" fill="#5a1cff" shape-rendering="crispEdges"/>
<rect x="932.0" y="426.0" width="2.6" height="2.6" fill="#5a1cff" shape-rendering="crispEdges"/>
<rect x="934.2" y="426.0" width="4.9" height="2.6" fill="#2838ff" shape-rendering="crispEdges"/>
<rect x="938.9" y="426.0" width="2.6" height="2.6" fill="#28b0ff" shape-rendering="crispEdges"/>
<rect x="941.1" y="426.0" width="2.6" height="2.6" fill="#60f0d0" shape-rendering="crispEdges"/>
<rect x="943.5" y="426.0" width="2.6" height="2.6" fill="#f8e020" shape-rendering="crispEdges"/>
<rect x="945.8" y="426.0" width="25.6" height="2.6" fill="#ea2c18" shape-rendering="crispEdges"/>
<rect x="971.0" y="426.0" width="2.6" height="2.6" fill="#f8e020" shape-rendering="crispEdges"/>
<rect x="973.4" y="426.0" width="2.6" height="2.6" fill="#a8f050" shape-rendering="crispEdges"/>
<rect x="975.6" y="426.0" width="2.6" height="2.6" fill="#60f0d0" shape-rendering="crispEdges"/>
<rect x="978.0" y="426.0" width="2.6" height="2.6" fill="#28b0ff" shape-rendering="crispEdges"/>
<rect x="980.2" y="426.0" width="2.6" height="2.6" fill="#2838ff" shape-rendering="crispEdges"/>
<rect x="982.5" y="426.0" width="2.6" height="2.6" fill="#5a1cff" shape-rendering="crispEdges"/>
<rect x="934.2" y="428.3" width="2.6" height="2.6" fill="#5a1cff" shape-rendering="crispEdges"/>
<rect x="936.5" y="428.3" width="2.6" height="2.6" fill="#2838ff" shape-rendering="crispEdges"/>
<rect x="938.9" y="428.3" width="4.9" height="2.6" fill="#28b0ff" shape-rendering="crispEdges"/>
<rect x="943.5" y="428.3" width="2.6" height="2.6" fill="#60f0d0" shape-rendering="crispEdges"/>
<rect x="945.8" y="428.3" width="2.6" height="2.6" fill="#f8e020" shape-rendering="crispEdges"/>
<rect x="948.0" y="428.3" width="21.0" height="2.6" fill="#ea2c18" shape-rendering="crispEdges"/>
<rect x="968.8" y="428.3" width="2.6" height="2.6" fill="#f8e020" shape-rendering="crispEdges"/>
<rect x="971.0" y="428.3" width="2.6" height="2.6" fill="#a8f050" shape-rendering="crispEdges"/>
<rect x="973.4" y="428.3" width="2.6" height="2.6" fill="#60f0d0" shape-rendering="crispEdges"/>
<rect x="975.6" y="428.3" width="4.9" height="2.6" fill="#28b0ff" shape-rendering="crispEdges"/>
<rect x="980.2" y="428.3" width="2.6" height="2.6" fill="#5a1cff" shape-rendering="crispEdges"/>
<rect x="936.5" y="430.6" width="2.6" height="2.6" fill="#5a1cff" shape-rendering="crispEdges"/>
<rect x="938.9" y="430.6" width="2.6" height="2.6" fill="#2838ff" shape-rendering="crispEdges"/>
<rect x="941.1" y="430.6" width="4.9" height="2.6" fill="#28b0ff" shape-rendering="crispEdges"/>
<rect x="945.8" y="430.6" width="2.6" height="2.6" fill="#60f0d0" shape-rendering="crispEdges"/>
<rect x="948.0" y="430.6" width="2.6" height="2.6" fill="#f8e020" shape-rendering="crispEdges"/>
<rect x="950.4" y="430.6" width="16.4" height="2.6" fill="#ea2c18" shape-rendering="crispEdges"/>
<rect x="966.5" y="430.6" width="2.6" height="2.6" fill="#f8e020" shape-rendering="crispEdges"/>
<rect x="968.8" y="430.6" width="2.6" height="2.6" fill="#a8f050" shape-rendering="crispEdges"/>
<rect x="971.0" y="430.6" width="2.6" height="2.6" fill="#60f0d0" shape-rendering="crispEdges"/>
<rect x="973.4" y="430.6" width="4.9" height="2.6" fill="#28b0ff" shape-rendering="crispEdges"/>
<rect x="978.0" y="430.6" width="2.6" height="2.6" fill="#2838ff" shape-rendering="crispEdges"/>
<rect x="980.2" y="430.6" width="2.6" height="2.6" fill="#5a1cff" shape-rendering="crispEdges"/>
<rect x="938.9" y="432.9" width="2.6" height="2.6" fill="#5a1cff" shape-rendering="crispEdges"/>
<rect x="941.1" y="432.9" width="4.9" height="2.6" fill="#2838ff" shape-rendering="crispEdges"/>
<rect x="945.8" y="432.9" width="2.6" height="2.6" fill="#28b0ff" shape-rendering="crispEdges"/>
<rect x="948.0" y="432.9" width="2.6" height="2.6" fill="#60f0d0" shape-rendering="crispEdges"/>
<rect x="950.4" y="432.9" width="7.2" height="2.6" fill="#f8e020" shape-rendering="crispEdges"/>
<rect x="957.2" y="432.9" width="2.6" height="2.6" fill="#ea2c18" shape-rendering="crispEdges"/>
<rect x="959.5" y="432.9" width="4.9" height="2.6" fill="#f8e020" shape-rendering="crispEdges"/>
<rect x="964.1" y="432.9" width="2.6" height="2.6" fill="#a8f050" shape-rendering="crispEdges"/>
<rect x="966.5" y="432.9" width="4.9" height="2.6" fill="#60f0d0" shape-rendering="crispEdges"/>
<rect x="971.0" y="432.9" width="2.6" height="2.6" fill="#28b0ff" shape-rendering="crispEdges"/>
<rect x="973.4" y="432.9" width="2.6" height="2.6" fill="#2838ff" shape-rendering="crispEdges"/>
<rect x="975.6" y="432.9" width="4.9" height="2.6" fill="#5a1cff" shape-rendering="crispEdges"/>
<rect x="941.1" y="435.2" width="2.6" height="2.6" fill="#5a1cff" shape-rendering="crispEdges"/>
<rect x="943.5" y="435.2" width="2.6" height="2.6" fill="#2838ff" shape-rendering="crispEdges"/>
<rect x="945.8" y="435.2" width="4.9" height="2.6" fill="#28b0ff" shape-rendering="crispEdges"/>
<rect x="950.4" y="435.2" width="4.9" height="2.6" fill="#60f0d0" shape-rendering="crispEdges"/>
<rect x="955.0" y="435.2" width="7.2" height="2.6" fill="#a8f050" shape-rendering="crispEdges"/>
<rect x="961.9" y="435.2" width="7.2" height="2.6" fill="#60f0d0" shape-rendering="crispEdges"/>
<rect x="968.8" y="435.2" width="2.6" height="2.6" fill="#28b0ff" shape-rendering="crispEdges"/>
<rect x="971.0" y="435.2" width="2.6" height="2.6" fill="#2838ff" shape-rendering="crispEdges"/>
<rect x="973.4" y="435.2" width="2.6" height="2.6" fill="#5a1cff" shape-rendering="crispEdges"/>
<rect x="943.5" y="437.5" width="2.6" height="2.6" fill="#5a1cff" shape-rendering="crispEdges"/>
<rect x="945.8" y="437.5" width="4.9" height="2.6" fill="#2838ff" shape-rendering="crispEdges"/>
<rect x="950.4" y="437.5" width="18.7" height="2.6" fill="#28b0ff" shape-rendering="crispEdges"/>
<rect x="968.8" y="437.5" width="2.6" height="2.6" fill="#2838ff" shape-rendering="crispEdges"/>
<rect x="971.0" y="437.5" width="2.6" height="2.6" fill="#5a1cff" shape-rendering="crispEdges"/>
<rect x="945.8" y="439.8" width="2.6" height="2.6" fill="#5a1cff" shape-rendering="crispEdges"/>
<rect x="948.0" y="439.8" width="18.7" height="2.6" fill="#2838ff" shape-rendering="crispEdges"/>
<rect x="966.5" y="439.8" width="4.9" height="2.6" fill="#5a1cff" shape-rendering="crispEdges"/>
<rect x="948.0" y="442.1" width="18.7" height="2.6" fill="#5a1cff" shape-rendering="crispEdges"/>
<rect x="887.1" y="454.9" width="21.0" height="2.6" fill="#5a1cff" shape-rendering="crispEdges"/>
<rect x="882.5" y="457.2" width="27.9" height="2.6" fill="#5a1cff" shape-rendering="crispEdges"/>
<rect x="877.9" y="459.6" width="34.8" height="2.6" fill="#5a1cff" shape-rendering="crispEdges"/>
<rect x="873.2" y="461.9" width="41.7" height="2.6" fill="#5a1cff" shape-rendering="crispEdges"/>
<rect x="871.0" y="464.1" width="46.3" height="2.6" fill="#5a1cff" shape-rendering="crispEdges"/>
<rect x="871.0" y="466.4" width="48.6" height="2.6" fill="#5a1cff" shape-rendering="crispEdges"/>
<rect x="868.7" y="468.8" width="50.9" height="2.6" fill="#5a1cff" shape-rendering="crispEdges"/>
<rect x="868.7" y="471.1" width="53.2" height="2.6" fill="#5a1cff" shape-rendering="crispEdges"/>
<rect x="868.7" y="473.4" width="53.2" height="2.6" fill="#5a1cff" shape-rendering="crispEdges"/>
<rect x="868.7" y="475.6" width="53.2" height="2.6" fill="#5a1cff" shape-rendering="crispEdges"/>
<rect x="868.7" y="477.9" width="53.2" height="2.6" fill="#5a1cff" shape-rendering="crispEdges"/>
<rect x="868.7" y="480.2" width="53.2" height="2.6" fill="#5a1cff" shape-rendering="crispEdges"/>
<rect x="868.7" y="482.6" width="53.2" height="2.6" fill="#5a1cff" shape-rendering="crispEdges"/>
<rect x="868.7" y="484.9" width="53.2" height="2.6" fill="#5a1cff" shape-rendering="crispEdges"/>
<rect x="868.7" y="487.1" width="53.2" height="2.6" fill="#5a1cff" shape-rendering="crispEdges"/>
<rect x="868.7" y="489.4" width="50.9" height="2.6" fill="#5a1cff" shape-rendering="crispEdges"/>
<rect x="871.0" y="491.8" width="48.6" height="2.6" fill="#5a1cff" shape-rendering="crispEdges"/>
<rect x="871.0" y="494.1" width="46.3" height="2.6" fill="#5a1cff" shape-rendering="crispEdges"/>
<rect x="873.2" y="496.4" width="44.0" height="2.6" fill="#5a1cff" shape-rendering="crispEdges"/>
<rect x="875.6" y="498.6" width="39.4" height="2.6" fill="#5a1cff" shape-rendering="crispEdges"/>
<rect x="877.9" y="500.9" width="34.8" height="2.6" fill="#5a1cff" shape-rendering="crispEdges"/>
<rect x="882.5" y="503.2" width="30.2" height="2.6" fill="#5a1cff" shape-rendering="crispEdges"/>
<rect x="887.1" y="505.6" width="21.0" height="2.6" fill="#5a1cff" shape-rendering="crispEdges"/>
<rect x="894.0" y="507.9" width="4.9" height="2.6" fill="#5a1cff" shape-rendering="crispEdges"/>
<rect x="953.9" y="451.5" width="9.5" height="2.6" fill="#5a1cff" shape-rendering="crispEdges"/>
<rect x="946.9" y="453.8" width="21.0" height="2.6" fill="#5a1cff" shape-rendering="crispEdges"/>
<rect x="942.4" y="456.1" width="30.2" height="2.6" fill="#5a1cff" shape-rendering="crispEdges"/>
<rect x="940.0" y="458.4" width="37.1" height="2.6" fill="#5a1cff" shape-rendering="crispEdges"/>
<rect x="937.8" y="460.7" width="14.1" height="2.6" fill="#5a1cff" shape-rendering="crispEdges"/>
<rect x="951.5" y="460.7" width="11.8" height="2.6" fill="#3038ff" shape-rendering="crispEdges"/>
<rect x="963.0" y="460.7" width="16.4" height="2.6" fill="#5a1cff" shape-rendering="crispEdges"/>
<rect x="935.4" y="463.0" width="11.8" height="2.6" fill="#5a1cff" shape-rendering="crispEdges"/>
<rect x="946.9" y="463.0" width="21.0" height="2.6" fill="#3038ff" shape-rendering="crispEdges"/>
<rect x="967.6" y="463.0" width="14.1" height="2.6" fill="#5a1cff" shape-rendering="crispEdges"/>
<rect x="933.1" y="465.2" width="11.8" height="2.6" fill="#5a1cff" shape-rendering="crispEdges"/>
<rect x="944.6" y="465.2" width="27.9" height="2.6" fill="#3038ff" shape-rendering="crispEdges"/>
<rect x="972.2" y="465.2" width="11.8" height="2.6" fill="#5a1cff" shape-rendering="crispEdges"/>
<rect x="930.9" y="467.6" width="11.8" height="2.6" fill="#5a1cff" shape-rendering="crispEdges"/>
<rect x="942.4" y="467.6" width="32.5" height="2.6" fill="#3038ff" shape-rendering="crispEdges"/>
<rect x="974.5" y="467.6" width="9.5" height="2.6" fill="#5a1cff" shape-rendering="crispEdges"/>
<rect x="928.5" y="469.9" width="11.8" height="2.6" fill="#5a1cff" shape-rendering="crispEdges"/>
<rect x="940.0" y="469.9" width="14.1" height="2.6" fill="#3038ff" shape-rendering="crispEdges"/>
<rect x="953.9" y="469.9" width="7.2" height="2.6" fill="#2044f4" shape-rendering="crispEdges"/>
<rect x="960.8" y="469.9" width="14.1" height="2.6" fill="#3038ff" shape-rendering="crispEdges"/>
<rect x="974.5" y="469.9" width="9.5" height="2.6" fill="#5a1cff" shape-rendering="crispEdges"/>
<rect x="928.5" y="472.2" width="9.5" height="2.6" fill="#5a1cff" shape-rendering="crispEdges"/>
<rect x="937.8" y="472.2" width="11.8" height="2.6" fill="#3038ff" shape-rendering="crispEdges"/>
<rect x="949.2" y="472.2" width="16.4" height="2.6" fill="#2044f4" shape-rendering="crispEdges"/>
<rect x="965.4" y="472.2" width="11.8" height="2.6" fill="#3038ff" shape-rendering="crispEdges"/>
<rect x="976.9" y="472.2" width="9.5" height="2.6" fill="#5a1cff" shape-rendering="crispEdges"/>
<rect x="926.2" y="474.5" width="9.5" height="2.6" fill="#5a1cff" shape-rendering="crispEdges"/>
<rect x="935.4" y="474.5" width="11.8" height="2.6" fill="#3038ff" shape-rendering="crispEdges"/>
<rect x="946.9" y="474.5" width="21.0" height="2.6" fill="#2044f4" shape-rendering="crispEdges"/>
<rect x="967.6" y="474.5" width="9.5" height="2.6" fill="#3038ff" shape-rendering="crispEdges"/>
<rect x="976.9" y="474.5" width="9.5" height="2.6" fill="#5a1cff" shape-rendering="crispEdges"/>
<rect x="926.2" y="476.8" width="9.5" height="2.6" fill="#5a1cff" shape-rendering="crispEdges"/>
<rect x="935.4" y="476.8" width="9.5" height="2.6" fill="#3038ff" shape-rendering="crispEdges"/>
<rect x="944.6" y="476.8" width="25.6" height="2.6" fill="#2044f4" shape-rendering="crispEdges"/>
<rect x="969.9" y="476.8" width="9.5" height="2.6" fill="#3038ff" shape-rendering="crispEdges"/>
<rect x="979.1" y="476.8" width="7.2" height="2.6" fill="#5a1cff" shape-rendering="crispEdges"/>
<rect x="926.2" y="479.1" width="9.5" height="2.6" fill="#5a1cff" shape-rendering="crispEdges"/>
<rect x="935.4" y="479.1" width="9.5" height="2.6" fill="#3038ff" shape-rendering="crispEdges"/>
<rect x="944.6" y="479.1" width="25.6" height="2.6" fill="#2044f4" shape-rendering="crispEdges"/>
<rect x="969.9" y="479.1" width="9.5" height="2.6" fill="#3038ff" shape-rendering="crispEdges"/>
<rect x="979.1" y="479.1" width="7.2" height="2.6" fill="#5a1cff" shape-rendering="crispEdges"/>
<rect x="926.2" y="481.4" width="9.5" height="2.6" fill="#5a1cff" shape-rendering="crispEdges"/>
<rect x="935.4" y="481.4" width="9.5" height="2.6" fill="#3038ff" shape-rendering="crispEdges"/>
<rect x="944.6" y="481.4" width="25.6" height="2.6" fill="#2044f4" shape-rendering="crispEdges"/>
<rect x="969.9" y="481.4" width="9.5" height="2.6" fill="#3038ff" shape-rendering="crispEdges"/>
<rect x="979.1" y="481.4" width="7.2" height="2.6" fill="#5a1cff" shape-rendering="crispEdges"/>
<rect x="926.2" y="483.7" width="9.5" height="2.6" fill="#5a1cff" shape-rendering="crispEdges"/>
<rect x="935.4" y="483.7" width="9.5" height="2.6" fill="#3038ff" shape-rendering="crispEdges"/>
<rect x="944.6" y="483.7" width="25.6" height="2.6" fill="#2044f4" shape-rendering="crispEdges"/>
<rect x="969.9" y="483.7" width="7.2" height="2.6" fill="#3038ff" shape-rendering="crispEdges"/>
<rect x="976.9" y="483.7" width="9.5" height="2.6" fill="#5a1cff" shape-rendering="crispEdges"/>
<rect x="928.5" y="486.0" width="7.2" height="2.6" fill="#5a1cff" shape-rendering="crispEdges"/>
<rect x="935.4" y="486.0" width="9.5" height="2.6" fill="#3038ff" shape-rendering="crispEdges"/>
<rect x="944.6" y="486.0" width="25.6" height="2.6" fill="#2044f4" shape-rendering="crispEdges"/>
<rect x="969.9" y="486.0" width="7.2" height="2.6" fill="#3038ff" shape-rendering="crispEdges"/>
<rect x="976.9" y="486.0" width="9.5" height="2.6" fill="#5a1cff" shape-rendering="crispEdges"/>
<rect x="928.5" y="488.2" width="9.5" height="2.6" fill="#5a1cff" shape-rendering="crispEdges"/>
<rect x="937.8" y="488.2" width="7.2" height="2.6" fill="#3038ff" shape-rendering="crispEdges"/>
<rect x="944.6" y="488.2" width="25.6" height="2.6" fill="#2044f4" shape-rendering="crispEdges"/>
<rect x="969.9" y="488.2" width="7.2" height="2.6" fill="#3038ff" shape-rendering="crispEdges"/>
<rect x="976.9" y="488.2" width="9.5" height="2.6" fill="#5a1cff" shape-rendering="crispEdges"/>
<rect x="928.5" y="490.6" width="9.5" height="2.6" fill="#5a1cff" shape-rendering="crispEdges"/>
<rect x="937.8" y="490.6" width="9.5" height="2.6" fill="#3038ff" shape-rendering="crispEdges"/>
<rect x="946.9" y="490.6" width="21.0" height="2.6" fill="#2044f4" shape-rendering="crispEdges"/>
<rect x="967.6" y="490.6" width="9.5" height="2.6" fill="#3038ff" shape-rendering="crispEdges"/>
<rect x="976.9" y="490.6" width="7.2" height="2.6" fill="#5a1cff" shape-rendering="crispEdges"/>
<rect x="928.5" y="492.9" width="11.8" height="2.6" fill="#5a1cff" shape-rendering="crispEdges"/>
<rect x="940.0" y="492.9" width="9.5" height="2.6" fill="#3038ff" shape-rendering="crispEdges"/>
<rect x="949.2" y="492.9" width="16.4" height="2.6" fill="#2044f4" shape-rendering="crispEdges"/>
<rect x="965.4" y="492.9" width="11.8" height="2.6" fill="#3038ff" shape-rendering="crispEdges"/>
<rect x="976.9" y="492.9" width="7.2" height="2.6" fill="#5a1cff" shape-rendering="crispEdges"/>
<rect x="930.9" y="495.2" width="11.8" height="2.6" fill="#5a1cff" shape-rendering="crispEdges"/>
<rect x="942.4" y="495.2" width="32.5" height="2.6" fill="#3038ff" shape-rendering="crispEdges"/>
<rect x="974.5" y="495.2" width="9.5" height="2.6" fill="#5a1cff" shape-rendering="crispEdges"/>
<rect x="933.1" y="497.5" width="11.8" height="2.6" fill="#5a1cff" shape-rendering="crispEdges"/>
<rect x="944.6" y="497.5" width="27.9" height="2.6" fill="#3038ff" shape-rendering="crispEdges"/>
<rect x="972.2" y="497.5" width="11.8" height="2.6" fill="#5a1cff" shape-rendering="crispEdges"/>
<rect x="933.1" y="499.8" width="14.1" height="2.6" fill="#5a1cff" shape-rendering="crispEdges"/>
<rect x="946.9" y="499.8" width="23.3" height="2.6" fill="#3038ff" shape-rendering="crispEdges"/>
<rect x="969.9" y="499.8" width="11.8" height="2.6" fill="#5a1cff" shape-rendering="crispEdges"/>
<rect x="935.4" y="502.1" width="21.0" height="2.6" fill="#5a1cff" shape-rendering="crispEdges"/>
<rect x="956.1" y="502.1" width="9.5" height="2.6" fill="#3038ff" shape-rendering="crispEdges"/>
<rect x="965.4" y="502.1" width="16.4" height="2.6" fill="#5a1cff" shape-rendering="crispEdges"/>
<rect x="937.8" y="504.4" width="39.4" height="2.6" fill="#5a1cff" shape-rendering="crispEdges"/>
<rect x="940.0" y="506.7" width="34.8" height="2.6" fill="#5a1cff" shape-rendering="crispEdges"/>
<rect x="944.6" y="509.0" width="25.6" height="2.6" fill="#5a1cff" shape-rendering="crispEdges"/>
<rect x="892.1" y="523.1" width="2.6" height="2.6" fill="#5a1cff" shape-rendering="crispEdges"/>
<rect x="887.5" y="525.4" width="21.0" height="2.6" fill="#5a1cff" shape-rendering="crispEdges"/>
<rect x="885.2" y="527.7" width="27.9" height="2.6" fill="#5a1cff" shape-rendering="crispEdges"/>
<rect x="883.0" y="530.0" width="30.2" height="2.6" fill="#5a1cff" shape-rendering="crispEdges"/>
<rect x="880.6" y="532.3" width="34.8" height="2.6" fill="#5a1cff" shape-rendering="crispEdges"/>
<rect x="878.4" y="534.6" width="39.4" height="2.6" fill="#5a1cff" shape-rendering="crispEdges"/>
<rect x="878.4" y="536.9" width="39.4" height="2.6" fill="#5a1cff" shape-rendering="crispEdges"/>
<rect x="878.4" y="539.2" width="39.4" height="2.6" fill="#5a1cff" shape-rendering="crispEdges"/>
<rect x="876.0" y="541.5" width="41.7" height="2.6" fill="#5a1cff" shape-rendering="crispEdges"/>
<rect x="876.0" y="543.8" width="44.0" height="2.6" fill="#5a1cff" shape-rendering="crispEdges"/>
<rect x="873.8" y="546.1" width="46.3" height="2.6" fill="#5a1cff" shape-rendering="crispEdges"/>
<rect x="873.8" y="548.4" width="46.3" height="2.6" fill="#5a1cff" shape-rendering="crispEdges"/>
<rect x="873.8" y="550.7" width="48.6" height="2.6" fill="#5a1cff" shape-rendering="crispEdges"/>
<rect x="876.0" y="553.0" width="46.3" height="2.6" fill="#5a1cff" shape-rendering="crispEdges"/>
<rect x="876.0" y="555.3" width="44.0" height="2.6" fill="#5a1cff" shape-rendering="crispEdges"/>
<rect x="878.4" y="557.6" width="41.7" height="2.6" fill="#5a1cff" shape-rendering="crispEdges"/>
<rect x="878.4" y="559.9" width="39.4" height="2.6" fill="#5a1cff" shape-rendering="crispEdges"/>
<rect x="880.6" y="562.2" width="34.8" height="2.6" fill="#5a1cff" shape-rendering="crispEdges"/>
<rect x="885.2" y="564.5" width="27.9" height="2.6" fill="#5a1cff" shape-rendering="crispEdges"/>
<rect x="889.9" y="566.8" width="14.1" height="2.6" fill="#5a1cff" shape-rendering="crispEdges"/>
<rect x="894.5" y="569.1" width="2.6" height="2.6" fill="#5a1cff" shape-rendering="crispEdges"/>
<rect x="957.1" y="519.8" width="11.8" height="2.6" fill="#5a1cff" shape-rendering="crispEdges"/>
<rect x="947.9" y="522.1" width="23.3" height="2.6" fill="#5a1cff" shape-rendering="crispEdges"/>
<rect x="943.2" y="524.4" width="30.2" height="2.6" fill="#5a1cff" shape-rendering="crispEdges"/>
<rect x="943.2" y="526.7" width="34.8" height="2.6" fill="#5a1cff" shape-rendering="crispEdges"/>
<rect x="941.0" y="529.0" width="39.4" height="2.6" fill="#5a1cff" shape-rendering="crispEdges"/>
<rect x="938.6" y="531.3" width="41.7" height="2.6" fill="#5a1cff" shape-rendering="crispEdges"/>
<rect x="938.6" y="533.6" width="41.7" height="2.6" fill="#5a1cff" shape-rendering="crispEdges"/>
<rect x="936.4" y="535.9" width="46.3" height="2.6" fill="#5a1cff" shape-rendering="crispEdges"/>
<rect x="936.4" y="538.2" width="48.6" height="2.6" fill="#5a1cff" shape-rendering="crispEdges"/>
<rect x="936.4" y="540.5" width="50.9" height="2.6" fill="#5a1cff" shape-rendering="crispEdges"/>
<rect x="936.4" y="542.8" width="50.9" height="2.6" fill="#5a1cff" shape-rendering="crispEdges"/>
<rect x="936.4" y="545.1" width="50.9" height="2.6" fill="#5a1cff" shape-rendering="crispEdges"/>
<rect x="936.4" y="547.4" width="50.9" height="2.6" fill="#5a1cff" shape-rendering="crispEdges"/>
<rect x="936.4" y="549.7" width="50.9" height="2.6" fill="#5a1cff" shape-rendering="crispEdges"/>
<rect x="936.4" y="552.0" width="48.6" height="2.6" fill="#5a1cff" shape-rendering="crispEdges"/>
<rect x="936.4" y="554.3" width="48.6" height="2.6" fill="#5a1cff" shape-rendering="crispEdges"/>
<rect x="936.4" y="556.6" width="48.6" height="2.6" fill="#5a1cff" shape-rendering="crispEdges"/>
<rect x="936.4" y="558.9" width="46.3" height="2.6" fill="#5a1cff" shape-rendering="crispEdges"/>
<rect x="938.6" y="561.2" width="41.7" height="2.6" fill="#5a1cff" shape-rendering="crispEdges"/>
<rect x="941.0" y="563.5" width="37.1" height="2.6" fill="#5a1cff" shape-rendering="crispEdges"/>
<rect x="945.6" y="565.8" width="27.9" height="2.6" fill="#5a1cff" shape-rendering="crispEdges"/>
<rect x="947.9" y="568.1" width="23.3" height="2.6" fill="#5a1cff" shape-rendering="crispEdges"/>
<rect x="964.0" y="570.4" width="2.6" height="2.6" fill="#5a1cff" shape-rendering="crispEdges"/>
</g>
<text x="714.60" y="423.20" font-size="16.5" textLength="20.2" lengthAdjust="spacingAndGlyphs" stroke="#000" stroke-width="0.3">(1)</text>
<text x="714.60" y="488.60" font-size="16.5" textLength="20.2" lengthAdjust="spacingAndGlyphs" stroke="#000" stroke-width="0.3">(2)</text>
<text x="714.60" y="555.50" font-size="16.5" textLength="20.2" lengthAdjust="spacingAndGlyphs" stroke="#000" stroke-width="0.3">(3)</text>
<rect x="1003.80" y="457.30" width="9.70" height="98.20" fill="url(#jetE)" stroke="#444" stroke-width="0.6" />
<text x="1008.20" y="447.50" font-size="15" text-anchor="middle" textLength="27.6" lengthAdjust="spacingAndGlyphs" stroke="#000" stroke-width="0.3">Max</text>
<text x="1008.20" y="575.70" font-size="15" text-anchor="middle" textLength="24.4" lengthAdjust="spacingAndGlyphs" stroke="#000" stroke-width="0.3">Min</text>
<text x="766.90" y="594.50" font-size="15" text-anchor="middle" stroke="#000" stroke-width="0.3">0/1</text>
<text x="831.70" y="594.50" font-size="15" text-anchor="middle" stroke="#000" stroke-width="0.3">2/1</text>
<text x="895.80" y="594.50" font-size="15" text-anchor="middle" stroke="#000" stroke-width="0.3">5/1</text>
<text x="959.30" y="594.50" font-size="15" text-anchor="middle" stroke="#000" stroke-width="0.3">10/1</text>
<line x1="740.00" y1="603.60" x2="987.50" y2="603.60" stroke="#000" stroke-width="1.5" />
<polygon points="996.0,603.6 987.0,607.0 987.0,600.2" fill="#000"/>
<text x="786.40" y="625.20" font-size="20.5" textLength="157.5" lengthAdjust="spacingAndGlyphs" stroke="#000" stroke-width="0.3"><tspan font-weight="bold">C/<tspan font-size="12.5" dy="-6.5">ER</tspan><tspan dy="6.5" font-size="1">&#8203;</tspan>Py</tspan> molar ratio</text>
<text x="739.00" y="656.60" font-size="18" fill="#12188f" textLength="144.0" lengthAdjust="spacingAndGlyphs" stroke="#12188f" stroke-width="0.3">(1): B-Np(C<tspan font-size="12" dy="3.0">1</tspan><tspan dy="-3.0" font-size="1">&#8203;</tspan>/<tspan font-size="12" dy="-5.5">ER</tspan><tspan dy="5.5" font-size="1">&#8203;</tspan>Py)</text>
<text x="739.00" y="681.60" font-size="18" fill="#12188f" textLength="144.0" lengthAdjust="spacingAndGlyphs" stroke="#12188f" stroke-width="0.3">(2): B-Np(C<tspan font-size="12" dy="3.0">2</tspan><tspan dy="-3.0" font-size="1">&#8203;</tspan>/<tspan font-size="12" dy="-5.5">ER</tspan><tspan dy="5.5" font-size="1">&#8203;</tspan>Py)</text>
<text x="739.00" y="705.30" font-size="18" fill="#12188f" textLength="144.0" lengthAdjust="spacingAndGlyphs" stroke="#12188f" stroke-width="0.3">(3): B-Np(C<tspan font-size="12" dy="3.0">3</tspan><tspan dy="-3.0" font-size="1">&#8203;</tspan>/<tspan font-size="12" dy="-5.5">ER</tspan><tspan dy="5.5" font-size="1">&#8203;</tspan>Py)</text>
<text x="1061.20" y="374.80" font-size="27.5" font-weight="bold" stroke="#000" stroke-width="0.25">f</text>
<text x="1237.20" y="377.20" font-size="17" text-anchor="middle" fill="#12188f" textLength="126.5" lengthAdjust="spacingAndGlyphs" stroke="#12188f" stroke-width="0.3">Em: 670–850 nm</text>
<rect x="1116.20" y="386.60" width="242.40" height="234.30" fill="none" stroke="#000" stroke-width="2.0" />
<line x1="1107.80" y1="607.70" x2="1116.20" y2="607.70" stroke="#000" stroke-width="1.9" />
<text x="1103.90" y="612.80" font-size="14.5" text-anchor="end" stroke="#000" stroke-width="0.3">0</text>
<line x1="1107.80" y1="510.20" x2="1116.20" y2="510.20" stroke="#000" stroke-width="1.9" />
<text x="1103.90" y="515.30" font-size="14.5" text-anchor="end" stroke="#000" stroke-width="0.3">3</text>
<line x1="1107.80" y1="412.70" x2="1116.20" y2="412.70" stroke="#000" stroke-width="1.9" />
<text x="1103.90" y="417.80" font-size="14.5" text-anchor="end" stroke="#000" stroke-width="0.3">6</text>
<line x1="1116.20" y1="620.90" x2="1116.20" y2="629.30" stroke="#000" stroke-width="1.9" />
<text x="1116.20" y="645.80" font-size="14.5" text-anchor="middle" stroke="#000" stroke-width="0.3">0</text>
<line x1="1226.25" y1="620.90" x2="1226.25" y2="629.30" stroke="#000" stroke-width="1.9" />
<text x="1226.25" y="645.80" font-size="14.5" text-anchor="middle" stroke="#000" stroke-width="0.3">5</text>
<line x1="1336.30" y1="620.90" x2="1336.30" y2="629.30" stroke="#000" stroke-width="1.9" />
<text x="1336.30" y="645.80" font-size="14.5" text-anchor="middle" stroke="#000" stroke-width="0.3">10</text>
<line x1="1160.22" y1="593.08" x2="1160.22" y2="562.53" stroke="#b347ab" stroke-width="1.3" />
<line x1="1156.22" y1="562.53" x2="1164.22" y2="562.53" stroke="#b347ab" stroke-width="1.3" />
<line x1="1156.22" y1="593.08" x2="1164.22" y2="593.08" stroke="#b347ab" stroke-width="1.3" />
<line x1="1226.25" y1="528.08" x2="1226.25" y2="501.43" stroke="#b347ab" stroke-width="1.3" />
<line x1="1222.25" y1="501.43" x2="1230.25" y2="501.43" stroke="#b347ab" stroke-width="1.3" />
<line x1="1222.25" y1="528.08" x2="1230.25" y2="528.08" stroke="#b347ab" stroke-width="1.3" />
<line x1="1336.30" y1="469.90" x2="1336.30" y2="428.30" stroke="#b347ab" stroke-width="1.3" />
<line x1="1332.30" y1="428.30" x2="1340.30" y2="428.30" stroke="#b347ab" stroke-width="1.3" />
<line x1="1332.30" y1="469.90" x2="1340.30" y2="469.90" stroke="#b347ab" stroke-width="1.3" />
<line x1="1226.25" y1="609.65" x2="1226.25" y2="597.95" stroke="#7a33cc" stroke-width="1.3" />
<line x1="1222.25" y1="597.95" x2="1230.25" y2="597.95" stroke="#7a33cc" stroke-width="1.3" />
<line x1="1222.25" y1="609.65" x2="1230.25" y2="609.65" stroke="#7a33cc" stroke-width="1.3" />
<line x1="1336.30" y1="612.90" x2="1336.30" y2="574.55" stroke="#7a33cc" stroke-width="1.3" />
<line x1="1332.30" y1="574.55" x2="1340.30" y2="574.55" stroke="#7a33cc" stroke-width="1.3" />
<line x1="1332.30" y1="612.90" x2="1340.30" y2="612.90" stroke="#7a33cc" stroke-width="1.3" />
<line x1="1226.25" y1="609.65" x2="1226.25" y2="603.15" stroke="#1c22a4" stroke-width="1.3" />
<line x1="1222.25" y1="603.15" x2="1230.25" y2="603.15" stroke="#1c22a4" stroke-width="1.3" />
<line x1="1222.25" y1="609.65" x2="1230.25" y2="609.65" stroke="#1c22a4" stroke-width="1.3" />
<line x1="1336.30" y1="612.58" x2="1336.30" y2="598.28" stroke="#1c22a4" stroke-width="1.3" />
<line x1="1332.30" y1="598.28" x2="1340.30" y2="598.28" stroke="#1c22a4" stroke-width="1.3" />
<line x1="1332.30" y1="612.58" x2="1340.30" y2="612.58" stroke="#1c22a4" stroke-width="1.3" />
<path d="M1116.2,607.7 L1160.2,577.8 L1226.2,514.8 L1336.3,449.1" fill="none" stroke="#b347ab" stroke-width="2.0" />
<circle cx="1116.20" cy="607.70" r="4.00" fill="#b347ab" stroke="none" stroke-width="1" />
<circle cx="1160.22" cy="577.80" r="4.00" fill="#b347ab" stroke="none" stroke-width="1" />
<circle cx="1226.25" cy="514.75" r="4.00" fill="#b347ab" stroke="none" stroke-width="1" />
<circle cx="1336.30" cy="449.10" r="4.00" fill="#b347ab" stroke="none" stroke-width="1" />
<path d="M1116.2,607.7 L1160.2,607.7 L1226.2,603.8 L1336.3,593.7" fill="none" stroke="#7a33cc" stroke-width="2.0" />
<rect x="1112.40" y="603.90" width="7.60" height="7.60" fill="#7a33cc" stroke="none" stroke-width="1" />
<rect x="1156.42" y="603.90" width="7.60" height="7.60" fill="#7a33cc" stroke="none" stroke-width="1" />
<rect x="1222.45" y="600.00" width="7.60" height="7.60" fill="#7a33cc" stroke="none" stroke-width="1" />
<rect x="1332.50" y="589.93" width="7.60" height="7.60" fill="#7a33cc" stroke="none" stroke-width="1" />
<path d="M1116.2,607.7 L1160.2,607.7 L1226.2,606.4 L1336.3,605.4" fill="none" stroke="#1c22a4" stroke-width="2.0" />
<polygon points="1116.2,603.1 1120.6,611.0 1111.8,611.0" fill="#1c22a4"/>
<polygon points="1160.2,603.1 1164.6,611.0 1155.8,611.0" fill="#1c22a4"/>
<polygon points="1226.2,601.8 1230.7,609.7 1221.8,609.7" fill="#1c22a4"/>
<polygon points="1336.3,600.8 1340.7,608.7 1331.9,608.7" fill="#1c22a4"/>
<line x1="1132.30" y1="406.80" x2="1155.00" y2="406.80" stroke="#b347ab" stroke-width="2.0" />
<circle cx="1143.60" cy="406.80" r="4.00" fill="#b347ab" stroke="none" stroke-width="1" />
<text x="1166.00" y="412.10" font-size="15.3" fill="#3a3a3a" textLength="96.0" lengthAdjust="spacingAndGlyphs" stroke="#3a3a3a" stroke-width="0.3">B-Np(C<tspan font-size="10.5" dy="3.0">1</tspan><tspan dy="-3.0" font-size="1">&#8203;</tspan>/<tspan font-size="10.5" dy="-5.5">ER</tspan><tspan dy="5.5" font-size="1">&#8203;</tspan>Py)</text>
<line x1="1132.30" y1="431.80" x2="1155.00" y2="431.80" stroke="#7a33cc" stroke-width="2.0" />
<rect x="1139.80" y="428.00" width="7.60" height="7.60" fill="#7a33cc" stroke="none" stroke-width="1" />
<text x="1166.00" y="437.10" font-size="15.3" fill="#3a3a3a" textLength="96.0" lengthAdjust="spacingAndGlyphs" stroke="#3a3a3a" stroke-width="0.3">B-Np(C<tspan font-size="10.5" dy="3.0">2</tspan><tspan dy="-3.0" font-size="1">&#8203;</tspan>/<tspan font-size="10.5" dy="-5.5">ER</tspan><tspan dy="5.5" font-size="1">&#8203;</tspan>Py)</text>
<line x1="1132.30" y1="456.20" x2="1155.00" y2="456.20" stroke="#1c22a4" stroke-width="2.0" />
<polygon points="1143.6,451.6 1148.0,459.5 1139.2,459.5" fill="#1c22a4"/>
<text x="1166.00" y="461.50" font-size="15.3" fill="#3a3a3a" textLength="96.0" lengthAdjust="spacingAndGlyphs" stroke="#3a3a3a" stroke-width="0.3">B-Np(C<tspan font-size="10.5" dy="3.0">3</tspan><tspan dy="-3.0" font-size="1">&#8203;</tspan>/<tspan font-size="10.5" dy="-5.5">ER</tspan><tspan dy="5.5" font-size="1">&#8203;</tspan>Py)</text>
<text x="1237.20" y="673.90" font-size="22" text-anchor="middle" textLength="191.5" lengthAdjust="spacingAndGlyphs" stroke="#000" stroke-width="0.3">Molar ratio (C/<tspan font-size="14.5" dy="-7.5">ER</tspan><tspan dy="7.5" font-size="1">&#8203;</tspan>Py)</text>
<text x="1081.00" y="521.00" font-size="20.5" text-anchor="middle" transform="rotate(-90 1081.00 521.00)" textLength="179.0" lengthAdjust="spacingAndGlyphs" stroke="#000" stroke-width="0.3">CL intensity (×10<tspan font-size="13.5" dy="-7.0">7</tspan><tspan dy="7.0" font-size="1">&#8203;</tspan>)</text>
<text x="6.00" y="750.80" font-size="27.5" font-weight="bold" stroke="#000" stroke-width="0.25">g</text>
<text x="203.50" y="753.60" font-size="17" text-anchor="middle" fill="#12188f" textLength="116.5" lengthAdjust="spacingAndGlyphs" stroke="#12188f" stroke-width="0.3">ROS Detection</text>
<clipPath id="clipG"><rect x="69.1" y="762.6" width="269.6" height="233.39999999999998"/></clipPath><g clip-path="url(#clipG)">
<path d="M69.0,939.9 C70.3,938.9 74.2,936.0 76.9,934.1 C79.5,932.2 81.8,930.2 84.7,928.3 C87.7,926.5 91.9,924.2 94.7,922.8 C97.5,921.4 99.8,920.4 101.6,919.8 C103.3,919.1 103.8,919.0 105.2,918.9 C106.5,918.8 107.6,919.0 109.5,919.1 C111.4,919.3 114.3,919.3 116.5,920.0 C118.6,920.7 120.7,922.2 122.4,923.5 C124.0,924.8 125.0,926.1 126.4,927.8 C127.7,929.6 129.0,931.7 130.3,934.0 C131.6,936.3 132.8,939.2 134.2,941.6 C135.7,944.0 137.2,946.5 139.2,948.5 C141.1,950.6 143.6,952.7 146.1,954.0 C148.6,955.3 151.1,956.5 154.0,956.1 C157.0,955.6 160.2,954.0 163.9,951.4 C167.5,948.9 171.8,943.8 175.8,940.5 C179.7,937.3 183.7,933.7 187.6,931.7 C191.6,929.7 195.5,928.7 199.5,928.4 C203.4,928.2 207.4,928.7 211.3,930.2 C215.3,931.8 219.2,934.6 223.2,937.7 C227.2,940.7 231.5,944.8 235.1,948.4 C238.7,952.0 241.6,955.8 244.9,959.3 C248.2,962.9 251.7,966.7 255.0,969.8 C258.2,972.9 260.8,975.3 264.4,978.0 C268.1,980.8 272.8,984.0 277.0,986.1 C281.2,988.3 285.5,989.7 289.7,990.9 C293.9,992.1 298.1,992.8 302.3,993.5 C306.5,994.1 308.7,994.5 314.9,994.8 C321.1,995.2 335.4,995.4 339.5,995.6" fill="none" stroke="#3b8989" stroke-width="2.7" stroke-linejoin="round"/>
<path d="M69.0,939.4 C70.3,938.4 74.2,935.3 76.9,933.2 C79.5,931.2 81.8,929.0 84.7,927.0 C87.7,924.9 91.9,922.4 94.7,920.8 C97.5,919.2 99.8,918.2 101.6,917.5 C103.3,916.8 103.8,916.7 105.2,916.6 C106.5,916.5 107.6,916.7 109.5,916.9 C111.4,917.2 114.3,917.4 116.5,918.2 C118.6,919.0 120.7,920.5 122.4,921.9 C124.0,923.3 125.0,924.6 126.4,926.5 C127.7,928.4 129.0,930.7 130.3,933.2 C131.6,935.6 132.8,938.6 134.2,941.1 C135.7,943.6 137.2,946.1 139.2,948.2 C141.1,950.3 143.6,952.5 146.1,953.7 C148.6,955.0 151.1,956.2 154.0,955.7 C157.0,955.3 160.2,953.6 163.9,950.9 C167.5,948.3 171.8,943.2 175.8,939.8 C179.7,936.5 183.7,933.0 187.6,930.9 C191.6,928.9 195.5,927.9 199.5,927.6 C203.4,927.4 207.4,927.9 211.3,929.5 C215.3,931.1 219.2,934.1 223.2,937.2 C227.2,940.3 231.5,944.4 235.1,948.1 C238.7,951.8 241.6,955.5 244.9,959.1 C248.2,962.8 251.7,966.6 255.0,969.7 C258.2,972.8 260.8,975.3 264.4,978.0 C268.1,980.7 272.8,984.0 277.0,986.1 C281.2,988.3 285.5,989.7 289.7,990.9 C293.9,992.1 298.1,992.8 302.3,993.5 C306.5,994.1 308.7,994.5 314.9,994.8 C321.1,995.2 335.4,995.4 339.5,995.6" fill="none" stroke="#7a7a7a" stroke-width="2.7" stroke-linejoin="round"/>
<path d="M69.0,935.4 C70.3,934.0 74.2,929.9 76.9,926.8 C79.5,923.6 81.8,920.0 84.7,916.5 C87.7,913.0 91.9,908.3 94.7,905.6 C97.5,902.9 99.8,901.2 101.6,900.0 C103.3,898.9 103.8,898.7 105.2,898.8 C106.5,898.8 107.6,899.3 109.5,900.3 C111.4,901.3 114.3,903.0 116.5,904.6 C118.6,906.3 120.7,908.2 122.4,910.3 C124.0,912.4 125.0,914.3 126.4,917.1 C127.7,919.9 129.0,923.7 130.3,927.2 C131.6,930.7 132.8,934.8 134.2,938.1 C135.7,941.3 137.2,944.3 139.2,946.8 C141.1,949.3 143.6,951.7 146.1,953.1 C148.6,954.5 151.1,955.7 154.0,955.1 C157.0,954.6 160.2,952.7 163.9,949.8 C167.5,947.0 171.8,941.5 175.8,938.0 C179.7,934.6 183.7,931.0 187.6,929.0 C191.6,926.9 195.5,925.9 199.5,925.7 C203.4,925.6 207.4,926.3 211.3,928.0 C215.3,929.8 219.2,932.9 223.2,936.2 C227.2,939.5 231.5,943.9 235.1,947.7 C238.7,951.6 241.6,955.5 244.9,959.2 C248.2,962.9 251.7,966.7 255.0,969.9 C258.2,973.0 260.8,975.4 264.4,978.2 C268.1,980.9 272.8,984.1 277.0,986.2 C281.2,988.4 285.5,989.8 289.7,991.0 C293.9,992.2 298.1,992.9 302.3,993.5 C306.5,994.1 308.7,994.5 314.9,994.8 C321.1,995.2 335.4,995.4 339.5,995.6" fill="none" stroke="#6c8952" stroke-width="2.7" stroke-linejoin="round"/>
<path d="M69.0,930.3 C70.3,928.3 74.2,923.0 76.9,918.5 C79.5,913.9 81.8,908.5 84.7,903.1 C87.7,897.7 91.9,890.4 94.7,886.2 C97.5,882.0 99.8,879.4 101.6,877.8 C103.3,876.1 103.8,875.9 105.2,876.1 C106.5,876.4 107.6,877.3 109.5,879.2 C111.4,881.1 114.3,884.8 116.5,887.5 C118.6,890.3 120.7,892.8 122.4,895.8 C124.0,898.8 125.0,901.5 126.4,905.5 C127.7,909.6 129.0,915.3 130.3,920.2 C131.6,925.1 132.8,930.6 134.2,934.9 C135.7,939.2 137.2,942.9 139.2,946.0 C141.1,949.1 143.6,952.0 146.1,953.6 C148.6,955.3 151.1,956.5 154.0,956.0 C157.0,955.5 160.2,953.6 163.9,950.7 C167.5,947.8 171.8,942.2 175.8,938.7 C179.7,935.2 183.7,931.8 187.6,929.8 C191.6,927.8 195.5,926.8 199.5,926.7 C203.4,926.6 207.4,927.4 211.3,929.2 C215.3,931.0 219.2,934.1 223.2,937.5 C227.2,940.8 231.5,945.2 235.1,949.0 C238.7,952.8 241.6,956.8 244.9,960.5 C248.2,964.1 251.7,967.8 255.0,970.8 C258.2,973.9 260.8,976.3 264.4,978.9 C268.1,981.5 272.8,984.6 277.0,986.6 C281.2,988.7 285.5,990.0 289.7,991.2 C293.9,992.4 298.1,993.0 302.3,993.6 C306.5,994.2 308.7,994.5 314.9,994.9 C321.1,995.2 335.4,995.4 339.5,995.6" fill="none" stroke="#99d172" stroke-width="2.7" stroke-linejoin="round"/>
<path d="M69.0,924.9 C70.3,922.4 74.2,915.8 76.9,909.8 C79.5,903.8 81.8,896.4 84.7,889.1 C87.7,881.8 91.9,871.7 94.7,865.9 C97.5,860.2 99.8,856.8 101.6,854.5 C103.3,852.3 103.8,852.1 105.2,852.5 C106.5,853.0 107.6,854.4 109.5,857.2 C111.4,860.1 114.3,865.9 116.5,869.8 C118.6,873.8 120.7,877.0 122.4,881.0 C124.0,884.9 125.0,888.4 126.4,893.7 C127.7,899.1 129.0,906.9 130.3,913.3 C131.6,919.7 132.8,926.7 134.2,932.1 C135.7,937.5 137.2,941.9 139.2,945.7 C141.1,949.5 143.6,952.9 146.1,955.0 C148.6,957.1 151.1,958.4 154.0,958.1 C157.0,957.8 160.2,955.9 163.9,953.1 C167.5,950.3 171.8,944.6 175.8,941.3 C179.7,937.9 183.7,934.7 187.6,932.9 C191.6,931.0 195.5,930.1 199.5,930.0 C203.4,929.9 207.4,930.7 211.3,932.4 C215.3,934.1 219.2,937.2 223.2,940.4 C227.2,943.6 231.5,947.8 235.1,951.5 C238.7,955.2 241.6,959.2 244.9,962.6 C248.2,966.1 251.7,969.4 255.0,972.3 C258.2,975.2 260.8,977.5 264.4,979.9 C268.1,982.4 272.8,985.2 277.0,987.2 C281.2,989.1 285.5,990.4 289.7,991.4 C293.9,992.5 298.1,993.2 302.3,993.7 C306.5,994.3 308.7,994.6 314.9,994.9 C321.1,995.2 335.4,995.4 339.5,995.6" fill="none" stroke="#86c9ef" stroke-width="2.7" stroke-linejoin="round"/>
<path d="M69.0,919.6 C70.3,916.5 74.2,908.5 76.9,901.1 C79.5,893.7 81.8,884.3 84.7,875.1 C87.7,865.8 91.9,852.9 94.7,845.6 C97.5,838.3 99.8,834.1 101.6,831.3 C103.3,828.5 103.8,828.2 105.2,828.9 C106.5,829.5 107.6,831.4 109.5,835.2 C111.4,839.1 114.3,846.9 116.5,852.0 C118.6,857.2 120.7,861.0 122.4,866.0 C124.0,870.9 125.0,875.1 126.4,881.8 C127.7,888.5 129.0,898.3 130.3,906.2 C131.6,914.1 132.8,922.6 134.2,929.1 C135.7,935.6 137.2,940.7 139.2,945.2 C141.1,949.7 143.6,953.6 146.1,956.0 C148.6,958.5 151.1,960.0 154.0,959.8 C157.0,959.6 160.2,957.7 163.9,954.9 C167.5,952.1 171.8,946.4 175.8,943.1 C179.7,939.8 183.7,936.8 187.6,935.0 C191.6,933.3 195.5,932.4 199.5,932.4 C203.4,932.3 207.4,933.1 211.3,934.8 C215.3,936.5 219.2,939.5 223.2,942.7 C227.2,945.8 231.5,949.9 235.1,953.5 C238.7,957.2 241.6,961.1 244.9,964.4 C248.2,967.8 251.7,970.9 255.0,973.6 C258.2,976.4 260.8,978.5 264.4,980.8 C268.1,983.2 272.8,985.8 277.0,987.7 C281.2,989.5 285.5,990.6 289.7,991.7 C293.9,992.7 298.1,993.3 302.3,993.8 C306.5,994.4 308.7,994.6 314.9,994.9 C321.1,995.2 335.4,995.4 339.5,995.6" fill="none" stroke="#5691e9" stroke-width="2.7" stroke-linejoin="round"/>
<path d="M69.0,915.9 C70.3,912.5 74.2,903.6 76.9,895.2 C79.5,886.7 81.8,876.0 84.7,865.4 C87.7,854.8 91.9,840.0 94.7,831.7 C97.5,823.3 99.8,818.4 101.6,815.2 C103.3,812.0 103.8,811.7 105.2,812.5 C106.5,813.3 107.6,815.5 109.5,820.0 C111.4,824.5 114.3,833.8 116.5,839.7 C118.6,845.7 120.7,849.9 122.4,855.6 C124.0,861.2 125.0,865.9 126.4,873.5 C127.7,881.1 129.0,892.2 130.3,901.1 C131.6,910.0 132.8,919.6 134.2,926.8 C135.7,934.1 137.2,939.7 139.2,944.6 C141.1,949.5 143.6,953.8 146.1,956.4 C148.6,959.0 151.1,960.6 154.0,960.4 C157.0,960.3 160.2,958.3 163.9,955.5 C167.5,952.7 171.8,946.9 175.8,943.6 C179.7,940.2 183.7,937.4 187.6,935.6 C191.6,933.9 195.5,933.1 199.5,933.1 C203.4,933.1 207.4,933.9 211.3,935.6 C215.3,937.4 219.2,940.4 223.2,943.6 C227.2,946.7 231.5,950.8 235.1,954.5 C238.7,958.1 241.6,962.1 244.9,965.4 C248.2,968.7 251.7,971.7 255.0,974.3 C258.2,977.0 260.8,979.1 264.4,981.4 C268.1,983.6 272.8,986.2 277.0,987.9 C281.2,989.7 285.5,990.8 289.7,991.8 C293.9,992.8 298.1,993.4 302.3,993.9 C306.5,994.4 308.7,994.7 314.9,995.0 C321.1,995.2 335.4,995.5 339.5,995.6" fill="none" stroke="#3b60d9" stroke-width="2.7" stroke-linejoin="round"/>
</g>
<rect x="69.10" y="762.60" width="269.60" height="233.40" fill="none" stroke="#000" stroke-width="2.0" />
<line x1="60.70" y1="996.00" x2="69.10" y2="996.00" stroke="#000" stroke-width="1.9" />
<text x="56.70" y="1001.10" font-size="14.5" text-anchor="end" stroke="#000" stroke-width="0.3">0.0</text>
<line x1="60.70" y1="936.24" x2="69.10" y2="936.24" stroke="#000" stroke-width="1.9" />
<text x="56.70" y="941.34" font-size="14.5" text-anchor="end" stroke="#000" stroke-width="0.3">0.4</text>
<line x1="60.70" y1="876.48" x2="69.10" y2="876.48" stroke="#000" stroke-width="1.9" />
<text x="56.70" y="881.58" font-size="14.5" text-anchor="end" stroke="#000" stroke-width="0.3">0.8</text>
<line x1="60.70" y1="816.72" x2="69.10" y2="816.72" stroke="#000" stroke-width="1.9" />
<text x="56.70" y="821.82" font-size="14.5" text-anchor="end" stroke="#000" stroke-width="0.3">1.2</text>
<line x1="94.20" y1="996.00" x2="94.20" y2="1004.40" stroke="#000" stroke-width="1.9" />
<text x="94.20" y="1021.20" font-size="14.5" text-anchor="middle" stroke="#000" stroke-width="0.3">400</text>
<line x1="157.25" y1="996.00" x2="157.25" y2="1004.40" stroke="#000" stroke-width="1.9" />
<text x="157.25" y="1021.20" font-size="14.5" text-anchor="middle" stroke="#000" stroke-width="0.3">500</text>
<line x1="220.30" y1="996.00" x2="220.30" y2="1004.40" stroke="#000" stroke-width="1.9" />
<text x="220.30" y="1021.20" font-size="14.5" text-anchor="middle" stroke="#000" stroke-width="0.3">600</text>
<line x1="283.35" y1="996.00" x2="283.35" y2="1004.40" stroke="#000" stroke-width="1.9" />
<text x="283.35" y="1021.20" font-size="14.5" text-anchor="middle" stroke="#000" stroke-width="0.3">700</text>
<text x="203.40" y="1049.30" font-size="21.7" text-anchor="middle" textLength="161.7" lengthAdjust="spacingAndGlyphs" stroke="#000" stroke-width="0.3">Wavelength / nm</text>
<text x="25.80" y="879.70" font-size="21.5" text-anchor="middle" transform="rotate(-90 25.80 879.70)" textLength="114.6" lengthAdjust="spacingAndGlyphs" stroke="#000" stroke-width="0.3">Absorbance</text>
<text x="314.20" y="786.90" font-size="16" text-anchor="end" font-style="italic" fill="#444" textLength="146.7" lengthAdjust="spacingAndGlyphs" stroke="#444" stroke-width="0.3">Incubation time / min</text>
<line x1="263.40" y1="806.90" x2="287.20" y2="806.90" stroke="#3b60d9" stroke-width="2.7" stroke-linecap="round"/>
<text x="314.20" y="812.30" font-size="15.5" text-anchor="end" fill="#333" stroke="#333" stroke-width="0.3">0</text>
<line x1="263.40" y1="829.10" x2="287.20" y2="829.10" stroke="#5691e9" stroke-width="2.7" stroke-linecap="round"/>
<text x="314.20" y="834.50" font-size="15.5" text-anchor="end" fill="#333" stroke="#333" stroke-width="0.3">5</text>
<line x1="263.40" y1="850.30" x2="287.20" y2="850.30" stroke="#86c9ef" stroke-width="2.7" stroke-linecap="round"/>
<text x="314.20" y="855.70" font-size="15.5" text-anchor="end" fill="#333" stroke="#333" stroke-width="0.3">10</text>
<line x1="263.40" y1="871.60" x2="287.20" y2="871.60" stroke="#99d172" stroke-width="2.7" stroke-linecap="round"/>
<text x="314.20" y="877.00" font-size="15.5" text-anchor="end" fill="#333" stroke="#333" stroke-width="0.3">15</text>
<line x1="263.40" y1="893.20" x2="287.20" y2="893.20" stroke="#6c8952" stroke-width="2.7" stroke-linecap="round"/>
<text x="314.20" y="898.60" font-size="15.5" text-anchor="end" fill="#333" stroke="#333" stroke-width="0.3">20</text>
<line x1="263.40" y1="914.40" x2="287.20" y2="914.40" stroke="#7a7a7a" stroke-width="2.7" stroke-linecap="round"/>
<text x="314.20" y="919.80" font-size="15.5" text-anchor="end" fill="#333" stroke="#333" stroke-width="0.3">25</text>
<line x1="263.40" y1="935.10" x2="287.20" y2="935.10" stroke="#3b8989" stroke-width="2.7" stroke-linecap="round"/>
<text x="314.20" y="940.50" font-size="15.5" text-anchor="end" fill="#333" stroke="#333" stroke-width="0.3">30</text>
<line x1="104.70" y1="801.20" x2="104.70" y2="934.00" stroke="#8c8c8c" stroke-width="2.6" stroke-dasharray="9 4"/>
<polygon points="104.7,947.5 99.2,934 110.2,934" fill="#8c8c8c"/>
<text x="359.30" y="751.30" font-size="27.5" font-weight="bold" stroke="#000" stroke-width="0.25">h</text>
<text x="567.00" y="752.90" font-size="17" text-anchor="middle" fill="#12188f" textLength="116.7" lengthAdjust="spacingAndGlyphs" stroke="#12188f" stroke-width="0.3">O<tspan font-size="11.5" dy="4.0">2</tspan><tspan dy="-4.0" font-size="1">&#8203;</tspan>•<tspan font-size="13" dy="-7.0">−</tspan><tspan dy="7.0" font-size="1">&#8203;</tspan> Detection</text>
<clipPath id="clipH"><rect x="432.5" y="762.4" width="268.9" height="233.60000000000002"/></clipPath><g clip-path="url(#clipH)">
<path d="M432.5,969.8 C434.1,971.1 438.2,975.9 441.8,977.7 C445.4,979.6 449.9,981.1 453.9,981.1 C457.9,981.1 461.5,980.1 465.8,977.7 C470.1,975.4 474.7,971.3 479.7,966.8 C484.7,962.3 490.6,955.7 495.6,950.9 C500.6,946.1 504.6,941.9 509.6,938.0 C514.6,934.0 521.0,929.4 525.5,927.0 C530.0,924.6 533.6,924.3 536.8,923.7 C539.9,923.0 541.9,922.9 544.4,923.0 C546.9,923.2 549.2,923.6 551.7,924.4 C554.2,925.2 555.7,925.7 559.3,928.0 C562.9,930.2 568.3,934.0 573.3,938.0 C578.2,941.9 583.9,947.4 589.2,951.9 C594.5,956.3 599.8,961.2 605.1,964.8 C610.4,968.5 615.4,971.3 621.0,973.8 C626.7,976.2 632.6,978.1 638.9,979.7 C645.2,981.4 652.1,982.6 658.7,983.7 C665.4,984.8 671.1,985.5 678.7,986.3 C686.3,987.1 700.1,988.0 704.4,988.4" fill="none" stroke="#3b60d9" stroke-width="2.7" stroke-linejoin="round"/>
<path d="M432.5,971.8 C433.9,972.8 438.0,976.7 440.9,978.2 C443.8,979.6 447.0,981.0 449.9,980.7 C452.9,980.5 455.3,979.6 458.6,976.7 C461.9,973.7 466.2,967.9 469.7,962.8 C473.3,957.8 476.4,952.2 479.7,946.5 C483.0,940.9 486.3,934.8 489.7,929.0 C493.0,923.2 496.3,917.2 499.6,911.6 C502.9,906.0 506.3,899.9 509.6,895.2 C512.8,890.4 515.8,886.8 519.1,883.3 C522.4,879.8 526.4,876.2 529.3,874.0 C532.3,871.9 534.6,871.1 536.8,870.3 C538.9,869.5 540.5,869.3 542.4,869.3 C544.2,869.3 545.8,869.3 547.9,870.1 C550.1,870.9 552.6,871.7 555.4,874.0 C558.2,876.4 561.1,879.2 564.7,884.1 C568.3,888.9 573.1,896.6 577.2,903.1 C581.3,909.6 585.4,917.0 589.2,923.0 C593.0,929.0 596.8,934.5 600.1,939.1 C603.4,943.8 604.3,946.3 609.1,950.9 C613.9,955.5 622.3,962.8 628.9,966.8 C635.6,970.8 642.2,972.7 648.9,974.8 C655.5,976.8 662.2,977.9 668.8,979.1 C675.4,980.3 682.6,981.3 688.5,982.1 C694.5,982.9 701.7,983.6 704.4,983.9" fill="none" stroke="#5691e9" stroke-width="2.7" stroke-linejoin="round"/>
<path d="M432.5,975.7 C433.6,976.4 436.5,978.6 439.0,979.6 C441.5,980.6 444.9,981.9 447.4,981.7 C449.9,981.5 451.8,979.8 453.9,978.5 C456.0,977.2 457.2,976.9 459.9,973.8 C462.5,970.6 466.4,965.3 469.7,959.5 C473.0,953.7 476.4,946.1 479.7,939.0 C483.0,931.9 486.3,924.2 489.7,916.8 C493.0,909.4 496.3,901.6 499.6,894.7 C502.9,887.7 506.3,880.9 509.6,875.2 C512.9,869.5 516.2,864.7 519.5,860.3 C522.9,856.0 526.6,851.9 529.5,849.2 C532.4,846.4 534.6,845.1 536.8,844.0 C538.9,842.8 540.5,842.5 542.4,842.4 C544.2,842.4 546.1,842.9 547.9,843.7 C549.8,844.4 550.5,844.0 553.3,847.1 C556.2,850.1 561.3,855.6 565.3,861.8 C569.2,868.0 573.2,876.4 577.2,884.3 C581.2,892.1 585.2,901.0 589.2,908.6 C593.2,916.1 597.1,923.4 601.1,929.6 C605.1,935.9 608.4,940.9 613.0,946.2 C617.7,951.4 623.0,957.0 628.9,961.2 C634.9,965.5 642.2,968.8 648.9,971.4 C655.5,974.1 662.2,975.6 668.8,977.2 C675.4,978.8 682.7,980.0 688.6,981.0 C694.5,982.0 701.7,982.8 704.4,983.2" fill="none" stroke="#86c9ef" stroke-width="2.7" stroke-linejoin="round"/>
<path d="M432.5,978.7 C433.4,979.1 436.0,980.5 438.1,981.1 C440.1,981.7 442.6,982.6 444.9,982.3 C447.2,982.1 449.6,981.2 452.1,979.6 C454.5,978.0 456.9,976.6 459.9,972.8 C462.8,969.0 466.4,963.5 469.7,956.8 C473.0,950.2 476.4,941.3 479.7,933.0 C483.0,924.7 486.3,915.7 489.7,907.1 C493.0,898.5 496.3,889.2 499.6,881.2 C502.9,873.3 506.3,865.8 509.6,859.4 C512.9,852.9 516.2,847.4 519.5,842.5 C522.9,837.5 526.6,832.8 529.5,829.5 C532.4,826.3 534.6,824.5 536.8,823.1 C538.9,821.7 540.5,821.2 542.4,821.2 C544.2,821.1 546.1,821.8 547.9,822.7 C549.8,823.6 550.5,823.1 553.3,826.5 C556.2,830.0 561.3,836.3 565.3,843.4 C569.2,850.6 573.2,860.4 577.2,869.3 C581.2,878.3 585.2,888.5 589.2,897.2 C593.2,905.8 597.1,913.9 601.1,921.0 C605.1,928.2 608.4,934.0 613.0,939.9 C617.7,945.9 623.0,952.0 628.9,956.8 C634.9,961.7 642.2,965.6 648.9,968.8 C655.5,971.9 662.2,973.8 668.8,975.7 C675.4,977.6 682.7,979.0 688.6,980.1 C694.5,981.3 701.7,982.2 704.4,982.6" fill="none" stroke="#99d172" stroke-width="2.7" stroke-linejoin="round"/>
</g>
<rect x="432.50" y="762.40" width="268.90" height="233.60" fill="none" stroke="#000" stroke-width="2.0" />
<line x1="424.10" y1="996.00" x2="432.50" y2="996.00" stroke="#000" stroke-width="1.9" />
<text x="419.90" y="1001.10" font-size="14.5" text-anchor="end" stroke="#000" stroke-width="0.3">0</text>
<line x1="424.10" y1="921.63" x2="432.50" y2="921.63" stroke="#000" stroke-width="1.9" />
<text x="419.90" y="926.73" font-size="14.5" text-anchor="end" stroke="#000" stroke-width="0.3">2000</text>
<line x1="424.10" y1="847.26" x2="432.50" y2="847.26" stroke="#000" stroke-width="1.9" />
<text x="419.90" y="852.36" font-size="14.5" text-anchor="end" stroke="#000" stroke-width="0.3">4000</text>
<line x1="424.10" y1="772.89" x2="432.50" y2="772.89" stroke="#000" stroke-width="1.9" />
<text x="419.90" y="777.99" font-size="14.5" text-anchor="end" stroke="#000" stroke-width="0.3">6000</text>
<line x1="432.50" y1="996.00" x2="432.50" y2="1004.40" stroke="#000" stroke-width="1.9" />
<text x="432.50" y="1021.40" font-size="14.5" text-anchor="middle" stroke="#000" stroke-width="0.3">500</text>
<line x1="525.60" y1="996.00" x2="525.60" y2="1004.40" stroke="#000" stroke-width="1.9" />
<text x="525.60" y="1021.40" font-size="14.5" text-anchor="middle" stroke="#000" stroke-width="0.3">600</text>
<line x1="618.70" y1="996.00" x2="618.70" y2="1004.40" stroke="#000" stroke-width="1.9" />
<text x="618.70" y="1021.40" font-size="14.5" text-anchor="middle" stroke="#000" stroke-width="0.3">700</text>
<text x="566.40" y="1049.30" font-size="21.7" text-anchor="middle" textLength="161.2" lengthAdjust="spacingAndGlyphs" stroke="#000" stroke-width="0.3">Wavelength / nm</text>
<text x="377.30" y="890.00" font-size="21" text-anchor="middle" transform="rotate(-90 377.30 890.00)" textLength="158.0" lengthAdjust="spacingAndGlyphs" stroke="#000" stroke-width="0.3">FL intensity / a.u</text>
<text x="683.20" y="787.80" font-size="16" text-anchor="end" font-style="italic" fill="#444" textLength="146.0" lengthAdjust="spacingAndGlyphs" stroke="#444" stroke-width="0.3">Incubation time / min</text>
<line x1="632.40" y1="808.10" x2="655.30" y2="808.10" stroke="#3b60d9" stroke-width="2.7" stroke-linecap="round"/>
<text x="682.50" y="813.50" font-size="15.5" text-anchor="end" fill="#333" stroke="#333" stroke-width="0.3">0</text>
<line x1="632.40" y1="829.10" x2="655.30" y2="829.10" stroke="#5691e9" stroke-width="2.7" stroke-linecap="round"/>
<text x="682.50" y="834.50" font-size="15.5" text-anchor="end" fill="#333" stroke="#333" stroke-width="0.3">10</text>
<line x1="632.40" y1="850.30" x2="655.30" y2="850.30" stroke="#86c9ef" stroke-width="2.7" stroke-linecap="round"/>
<text x="682.50" y="855.70" font-size="15.5" text-anchor="end" fill="#333" stroke="#333" stroke-width="0.3">20</text>
<line x1="632.40" y1="871.00" x2="655.30" y2="871.00" stroke="#99d172" stroke-width="2.7" stroke-linecap="round"/>
<text x="682.50" y="876.40" font-size="15.5" text-anchor="end" fill="#333" stroke="#333" stroke-width="0.3">30</text>
<line x1="542.00" y1="942.40" x2="542.00" y2="814.00" stroke="#8c8c8c" stroke-width="2.6" stroke-dasharray="9 4"/>
<polygon points="542,800.5 536.3,814.5 547.7,814.5" fill="#8c8c8c"/>
<text x="725.30" y="751.30" font-size="27.5" font-weight="bold" stroke="#000" stroke-width="0.25">i</text>
<text x="898.10" y="748.80" font-size="17" text-anchor="middle" fill="#12188f" textLength="78.8" lengthAdjust="spacingAndGlyphs" stroke="#12188f" stroke-width="0.3"><tspan font-size="11.5" dy="-7.0">1</tspan><tspan dy="7.0" font-size="1">&#8203;</tspan>O<tspan font-size="11.5" dy="4.0">2</tspan><tspan dy="-4.0" font-size="1">&#8203;</tspan> Signal</text>
<rect x="763.20" y="762.80" width="268.70" height="234.20" fill="none" stroke="#000" stroke-width="2.0" />
<line x1="762.50" y1="997.00" x2="762.50" y2="1005.40" stroke="#000" stroke-width="1.9" />
<text x="762.50" y="1021.50" font-size="14.5" text-anchor="middle" stroke="#000" stroke-width="0.3">3460</text>
<line x1="843.50" y1="997.00" x2="843.50" y2="1005.40" stroke="#000" stroke-width="1.9" />
<text x="843.50" y="1021.50" font-size="14.5" text-anchor="middle" stroke="#000" stroke-width="0.3">3490</text>
<line x1="924.10" y1="997.00" x2="924.10" y2="1005.40" stroke="#000" stroke-width="1.9" />
<text x="924.10" y="1021.50" font-size="14.5" text-anchor="middle" stroke="#000" stroke-width="0.3">3520</text>
<line x1="1005.10" y1="997.00" x2="1005.10" y2="1005.40" stroke="#000" stroke-width="1.9" />
<text x="1005.10" y="1021.50" font-size="14.5" text-anchor="middle" stroke="#000" stroke-width="0.3">3550</text>
<text x="896.80" y="1049.40" font-size="22" text-anchor="middle" textLength="173.9" lengthAdjust="spacingAndGlyphs" stroke="#000" stroke-width="0.3">Magnetic Field / G</text>
<text x="740.50" y="880.50" font-size="21.5" text-anchor="middle" transform="rotate(-90 740.50 880.50)" textLength="110.3" lengthAdjust="spacingAndGlyphs" stroke="#000" stroke-width="0.3">ESR Signal</text>
<path d="M763.2,825.9 L765.7,826.0 L768.2,825.9 L770.7,826.1 L773.2,826.1 L775.7,825.8 L778.2,825.8 L780.7,826.2 L783.2,825.9 L785.7,825.9 L788.2,826.2 L790.7,826.0 L793.2,826.2 L795.7,826.0 L798.2,826.1 L800.7,825.8 L803.2,826.1 L805.7,826.2 L808.2,826.0 L810.7,826.1 L813.2,826.1 L815.7,825.8 L818.2,826.1 L820.7,826.0 L823.2,825.9 L825.7,825.8 L828.2,826.2 L830.7,826.0 L833.2,826.1 L835.7,826.2 L838.2,826.1 L840.7,825.9 L841.3,825.4 L841.9,825.3 L842.5,824.8 L843.1,824.7 L843.7,824.4 L844.3,823.7 L844.9,823.4 L845.5,822.9 L846.1,822.0 L846.7,819.3 L847.3,815.2 L847.9,809.2 L848.5,802.8 L849.1,798.0 L849.7,797.7 L850.3,803.9 L850.9,816.0 L851.5,831.1 L852.1,843.9 L852.7,852.0 L853.3,853.5 L853.9,850.0 L854.5,843.7 L855.1,837.1 L855.7,832.6 L856.3,829.4 L856.9,827.6 L857.5,826.6 L858.1,826.3 L858.7,825.9 L859.3,826.2 L859.9,826.0 L860.5,825.9 L861.1,825.8 L861.7,826.2 L862.3,826.2 L862.9,825.8 L863.5,826.2 L864.1,826.0 L864.7,825.8 L865.3,825.9 L865.9,826.1 L866.5,826.2 L867.1,825.8 L867.7,826.1 L868.3,825.8 L868.9,826.1 L869.5,825.9 L870.1,826.2 L870.7,826.2 L871.3,826.0 L871.9,826.2 L872.5,825.9 L873.1,825.8 L873.7,826.0 L874.3,825.8 L874.9,825.8 L875.5,826.0 L876.1,826.1 L876.7,825.8 L877.3,825.8 L877.9,826.2 L878.5,825.9 L879.1,826.2 L879.7,826.2 L880.3,825.9 L880.9,826.0 L881.5,826.0 L882.1,826.1 L882.7,826.0 L883.3,826.0 L883.9,826.0 L884.5,826.2 L885.1,825.9 L885.7,825.8 L886.3,825.9 L886.9,825.5 L887.5,825.3 L888.1,825.3 L888.7,824.7 L889.3,824.4 L889.9,823.9 L890.5,823.8 L891.1,823.5 L891.7,822.5 L892.3,821.3 L892.9,818.4 L893.5,813.5 L894.1,807.8 L894.7,801.7 L895.3,798.4 L895.9,799.9 L896.5,808.1 L897.1,821.2 L897.7,835.5 L898.3,847.3 L898.9,853.6 L899.5,853.3 L900.1,848.1 L900.7,841.7 L901.3,835.7 L901.9,831.1 L902.5,828.4 L903.1,827.0 L903.7,826.3 L904.3,826.2 L904.9,825.9 L905.5,825.9 L906.1,826.1 L906.7,825.8 L907.3,826.0 L907.9,826.1 L908.5,825.9 L909.1,825.9 L909.7,826.2 L910.3,825.9 L910.9,825.8 L911.5,826.0 L912.1,826.1 L912.7,825.8 L913.3,825.9 L913.9,825.9 L914.5,826.2 L915.1,826.0 L915.7,826.2 L916.3,825.8 L916.9,825.9 L917.5,826.1 L918.1,826.2 L918.7,826.0 L919.3,825.9 L919.9,825.8 L920.5,826.0 L921.1,825.8 L921.7,826.2 L922.3,826.2 L922.9,825.8 L923.5,825.9 L924.1,826.2 L924.7,826.1 L925.3,826.2 L925.9,825.9 L926.5,825.8 L927.1,825.9 L927.7,826.1 L928.3,825.9 L928.9,825.9 L929.5,826.0 L930.1,825.9 L930.7,825.9 L931.3,826.1 L931.9,825.7 L932.5,825.5 L933.1,825.8 L933.7,825.5 L934.3,825.3 L934.9,824.7 L935.5,824.6 L936.1,824.3 L936.7,823.7 L937.3,823.6 L937.9,823.1 L938.5,821.6 L939.1,818.9 L939.7,814.7 L940.3,809.3 L940.9,803.9 L941.5,800.7 L942.1,802.5 L942.7,809.6 L943.3,821.7 L943.9,834.3 L944.5,845.1 L945.1,850.2 L945.7,850.0 L946.3,845.7 L946.9,840.0 L947.5,834.5 L948.1,830.3 L948.7,828.3 L949.3,826.8 L949.9,826.3 L950.5,826.2 L951.1,826.0 L951.7,826.0 L952.3,826.2 L952.9,826.1 L953.5,825.9 L954.1,825.9 L954.7,826.2 L955.3,826.0 L957.8,826.1 L960.3,825.9 L962.8,825.8 L965.3,826.0 L967.8,826.2 L970.3,825.8 L972.8,826.1 L975.3,826.2 L977.8,826.2 L980.3,826.2 L982.8,825.8 L985.3,826.1 L987.8,826.2 L990.3,825.8 L992.8,825.9 L995.3,825.9 L997.8,826.0 L1000.3,826.0 L1002.8,826.0 L1005.3,826.1 L1007.8,825.8 L1010.3,825.8 L1012.8,825.8 L1015.3,825.8 L1017.8,825.8 L1020.3,826.2 L1022.8,826.2 L1025.3,825.8 L1027.8,826.0 L1030.3,825.9 L1031.9,826.0" fill="none" stroke="#1a2a9a" stroke-width="1.7" stroke-linejoin="round"/>
<line x1="763.20" y1="885.30" x2="1031.90" y2="885.30" stroke="#808080" stroke-width="1.6" />
<line x1="763.20" y1="919.60" x2="1031.90" y2="919.60" stroke="#7a33c0" stroke-width="1.6" />
<line x1="763.20" y1="954.20" x2="1031.90" y2="954.20" stroke="#b040a0" stroke-width="1.6" />
<line x1="763.20" y1="986.90" x2="1031.90" y2="986.90" stroke="#1a2a9a" stroke-width="2.0" />
<text x="775.60" y="786.90" font-size="13.3"><tspan fill="#454545" stroke="#454545" stroke-width="0.25">TEMP + B-Np(C<tspan font-size="10" dy="3.0">0</tspan><tspan dy="-3.0" font-size="1">&#8203;</tspan>/<tspan font-size="10" dy="-5.0">ER</tspan><tspan dy="5.0" font-size="1">&#8203;</tspan>Py) </tspan><tspan fill="#8b1a5c" stroke="#8b1a5c" stroke-width="0.2" font-weight="bold" font-style="italic">—pH 7.4</tspan></text>
<text x="775.60" y="877.40" font-size="13.3"><tspan fill="#454545" stroke="#454545" stroke-width="0.25">TEMP + B-Np(C<tspan font-size="10" dy="3.0">0</tspan><tspan dy="-3.0" font-size="1">&#8203;</tspan>/<tspan font-size="10" dy="-5.0">ER</tspan><tspan dy="5.0" font-size="1">&#8203;</tspan>Py) </tspan><tspan fill="#4a9cf2" stroke="#4a9cf2" stroke-width="0.2" font-weight="bold" font-style="italic">—pH 5.0</tspan></text>
<text x="775.60" y="911.70" font-size="13.3"><tspan fill="#454545" stroke="#454545" stroke-width="0.25">TEMP + B-Np(C<tspan font-size="10" dy="3.0">0</tspan><tspan dy="-3.0" font-size="1">&#8203;</tspan>) </tspan><tspan fill="#8b1a5c" stroke="#8b1a5c" stroke-width="0.2" font-weight="bold" font-style="italic">—pH 7.4</tspan></text>
<text x="775.60" y="946.30" font-size="13.3"><tspan fill="#454545" stroke="#454545" stroke-width="0.25">TEMP + B-Np(<tspan font-size="10" dy="-5.0">ER</tspan><tspan dy="5.0" font-size="1">&#8203;</tspan>Py) </tspan><tspan fill="#8b1a5c" stroke="#8b1a5c" stroke-width="0.2" font-weight="bold" font-style="italic">—pH 7.4</tspan></text>
<text x="775.60" y="979.90" font-size="13.3"><tspan fill="#454545" stroke="#454545" stroke-width="0.25">TEMP </tspan><tspan fill="#8b1a5c" stroke="#8b1a5c" stroke-width="0.2" font-weight="bold" font-style="italic">—pH 7.4</tspan></text>
<text x="1054.30" y="751.30" font-size="27.5" font-weight="bold" stroke="#000" stroke-width="0.25">j</text>
<text x="1223.00" y="749.80" font-size="17" text-anchor="middle" fill="#12188f" textLength="96.8" lengthAdjust="spacingAndGlyphs" stroke="#12188f" stroke-width="0.3">O<tspan font-size="11.5" dy="4.0">2</tspan><tspan dy="-4.0" font-size="1">&#8203;</tspan>•<tspan font-size="13" dy="-7.0">−</tspan><tspan dy="7.0" font-size="1">&#8203;</tspan>  Signal</text>
<rect x="1089.60" y="762.50" width="268.20" height="233.60" fill="none" stroke="#000" stroke-width="2.0" />
<line x1="1089.50" y1="996.10" x2="1089.50" y2="1004.50" stroke="#000" stroke-width="1.9" />
<text x="1089.50" y="1021.50" font-size="14.5" text-anchor="middle" stroke="#000" stroke-width="0.3">3460</text>
<line x1="1170.50" y1="996.10" x2="1170.50" y2="1004.50" stroke="#000" stroke-width="1.9" />
<text x="1170.50" y="1021.50" font-size="14.5" text-anchor="middle" stroke="#000" stroke-width="0.3">3490</text>
<line x1="1251.10" y1="996.10" x2="1251.10" y2="1004.50" stroke="#000" stroke-width="1.9" />
<text x="1251.10" y="1021.50" font-size="14.5" text-anchor="middle" stroke="#000" stroke-width="0.3">3520</text>
<line x1="1332.70" y1="996.10" x2="1332.70" y2="1004.50" stroke="#000" stroke-width="1.9" />
<text x="1332.70" y="1021.50" font-size="14.5" text-anchor="middle" stroke="#000" stroke-width="0.3">3550</text>
<text x="1223.50" y="1048.80" font-size="22" text-anchor="middle" textLength="173.3" lengthAdjust="spacingAndGlyphs" stroke="#000" stroke-width="0.3">Magnetic Field / G</text>
<text x="1067.50" y="879.80" font-size="21.5" text-anchor="middle" transform="rotate(-90 1067.50 879.80)" textLength="108.7" lengthAdjust="spacingAndGlyphs" stroke="#000" stroke-width="0.3">EPR Signal</text>
<path d="M1089.5,822.6 L1091.9,823.1 L1094.2,822.5 L1096.5,822.9 L1098.9,822.4 L1101.2,822.5 L1103.6,823.0 L1105.9,822.4 L1108.2,822.7 L1110.6,822.5 L1112.9,822.5 L1115.2,822.5 L1117.6,822.3 L1119.9,822.7 L1122.2,822.2 L1124.5,822.3 L1126.8,822.2 L1129.0,822.4 L1131.3,822.5 L1133.6,822.9 L1135.8,822.5 L1138.1,822.3 L1140.4,822.5 L1142.6,823.0 L1144.9,822.4 L1147.2,822.8 L1149.4,822.6 L1151.7,822.9 L1154.0,822.7 L1156.4,822.8 L1158.7,822.5 L1161.1,822.4 L1163.5,822.4 L1166.0,817.1 L1168.3,802.5 L1170.5,816.8 L1173.0,832.6 L1175.3,837.7 L1177.5,828.0 L1180.0,822.1 L1184.1,819.7 L1186.5,820.4 L1188.9,821.1 L1192.7,816.9 L1196.2,804.3 L1198.4,818.0 L1200.3,821.9 L1201.9,817.9 L1203.2,815.2 L1204.5,822.0 L1205.7,826.1 L1206.7,821.2 L1207.6,818.9 L1208.9,829.8 L1210.2,838.4 L1212.1,827.9 L1214.9,821.8 L1219.1,819.0 L1223.2,820.6 L1227.0,817.3 L1230.8,802.8 L1233.3,817.2 L1235.3,824.8 L1236.5,828.0 L1237.8,822.4 L1239.1,820.1 L1240.7,825.8 L1242.6,834.5 L1244.5,839.8 L1246.7,830.0 L1249.2,826.2 L1253.0,823.8 L1256.2,820.8 L1260.3,822.5 L1262.9,815.6 L1265.1,808.5 L1267.3,816.9 L1269.9,834.7 L1272.4,842.3 L1274.9,831.0 L1277.8,825.5 L1280.2,824.3 L1282.6,823.2 L1285.2,823.2 L1287.8,822.8 L1290.5,822.7 L1292.7,822.7 L1295.0,822.7 L1297.2,822.8 L1299.5,822.6 L1301.7,822.5 L1304.0,822.5 L1306.2,822.5 L1308.4,822.8 L1310.7,822.7 L1312.9,823.0 L1315.2,822.8 L1317.4,822.9 L1319.7,823.1 L1321.9,822.5 L1324.1,822.4 L1326.4,822.5 L1328.6,822.7 L1330.9,822.8 L1333.1,822.9 L1335.4,822.7 L1337.6,823.1 L1339.8,822.4 L1342.1,823.0 L1344.3,822.6 L1346.6,823.0 L1348.8,822.5 L1351.1,823.1 L1353.3,823.0 L1355.6,823.1 L1357.8,822.8" fill="none" stroke="#1a2a9a" stroke-width="1.7" stroke-linejoin="round"/>
<path d="M1089.6,878.5 L1090.6,879.4 L1091.6,879.5 L1092.6,878.8 L1093.6,878.9 L1094.6,878.9 L1095.6,879.2 L1096.6,879.5 L1097.6,878.5 L1098.6,878.2 L1099.6,879.3 L1100.6,879.0 L1101.6,879.4 L1102.6,878.4 L1103.6,878.8 L1104.6,879.3 L1105.6,878.7 L1106.6,879.5 L1107.6,879.7 L1108.6,878.5 L1109.6,878.2 L1110.6,878.9 L1111.6,879.6 L1112.6,879.0 L1113.6,878.6 L1114.6,878.8 L1115.6,878.3 L1116.6,878.4 L1117.6,878.8 L1118.6,878.9 L1119.6,878.6 L1120.6,878.5 L1121.6,878.5 L1122.6,878.8 L1123.6,878.7 L1124.6,878.2 L1125.6,879.3 L1126.6,879.1 L1127.6,879.2 L1128.6,878.6 L1129.6,879.6 L1130.6,879.7 L1131.6,878.6 L1132.6,878.7 L1133.6,879.2 L1134.6,879.4 L1135.6,879.7 L1136.6,879.1 L1137.6,879.5 L1138.6,879.4 L1139.6,878.8 L1140.6,879.1 L1141.6,879.6 L1142.6,879.6 L1143.6,879.2 L1144.6,879.2 L1145.6,878.4 L1146.6,878.5 L1147.6,879.3 L1148.6,879.0 L1149.6,878.5 L1150.6,879.0 L1151.6,879.3 L1152.6,879.3 L1153.6,878.9 L1154.6,878.9 L1155.6,879.0 L1156.6,879.4 L1157.6,879.1 L1158.6,878.9 L1159.6,879.0 L1160.6,878.3 L1161.6,878.2 L1162.6,879.1 L1163.6,879.7 L1164.6,879.3 L1165.6,878.9 L1166.6,878.5 L1167.6,878.9 L1168.6,879.6 L1169.6,879.5 L1170.6,879.2 L1171.6,879.6 L1172.6,878.8 L1173.6,879.0 L1174.6,879.6 L1175.6,879.3 L1176.6,879.0 L1177.6,878.7 L1178.6,879.0 L1179.6,879.6 L1180.6,878.5 L1181.6,879.3 L1182.6,879.5 L1183.6,879.7 L1184.6,879.5 L1185.6,879.6 L1186.6,879.2 L1187.6,879.1 L1188.6,878.9 L1189.6,878.4 L1190.6,879.4 L1191.6,879.2 L1192.6,878.6 L1193.6,878.9 L1194.6,879.0 L1195.6,878.8 L1196.6,878.7 L1197.6,879.0 L1198.6,879.2 L1199.6,879.2 L1200.6,879.0 L1201.6,878.3 L1202.6,878.5 L1203.6,878.4 L1204.6,879.0 L1205.6,879.5 L1206.6,879.5 L1207.6,879.6 L1208.6,879.6 L1209.6,878.8 L1210.6,879.4 L1211.6,879.3 L1212.6,878.5 L1213.6,878.2 L1214.6,878.1 L1215.6,879.1 L1216.6,878.7 L1217.6,878.4 L1218.6,879.0 L1219.6,878.8 L1220.6,878.3 L1221.6,878.4 L1222.6,878.9 L1223.6,878.5 L1224.6,878.6 L1225.6,879.2 L1226.6,879.0 L1227.6,878.7 L1228.6,878.9 L1229.6,878.3 L1230.6,878.7 L1231.6,878.8 L1232.6,878.5 L1233.6,878.3 L1234.6,879.4 L1235.6,879.1 L1236.6,878.6 L1237.6,879.1 L1238.6,879.5 L1239.6,878.4 L1240.6,878.2 L1241.6,878.3 L1242.6,879.1 L1243.6,878.6 L1244.6,879.2 L1245.6,879.3 L1246.6,879.1 L1247.6,878.6 L1248.6,879.6 L1249.6,879.6 L1250.6,879.2 L1251.6,878.7 L1252.6,879.1 L1253.6,878.9 L1254.6,879.1 L1255.6,878.8 L1256.6,879.1 L1257.6,878.4 L1258.6,878.6 L1259.6,879.5 L1260.6,879.7 L1261.6,878.9 L1262.6,879.5 L1263.6,878.9 L1264.6,879.6 L1265.6,879.5 L1266.6,879.0 L1267.6,878.7 L1268.6,878.2 L1269.6,879.3 L1270.6,878.4 L1271.6,879.3 L1272.6,879.7 L1273.6,879.3 L1274.6,878.6 L1275.6,879.4 L1276.6,879.8 L1277.6,879.5 L1278.6,879.1 L1279.6,878.9 L1280.6,878.8 L1281.6,878.5 L1282.6,879.1 L1283.6,878.9 L1284.6,878.6 L1285.6,878.3 L1286.6,879.1 L1287.6,878.7 L1288.6,878.9 L1289.6,878.7 L1290.6,879.5 L1291.6,879.7 L1292.6,878.5 L1293.6,878.5 L1294.6,878.6 L1295.6,879.6 L1296.6,879.5 L1297.6,878.9 L1298.6,878.6 L1299.6,879.1 L1300.6,879.5 L1301.6,879.7 L1302.6,879.0 L1303.6,879.5 L1304.6,879.4 L1305.6,879.1 L1306.6,879.7 L1307.6,878.8 L1308.6,879.3 L1309.6,878.5 L1310.6,878.4 L1311.6,879.4 L1312.6,878.7 L1313.6,879.3 L1314.6,879.2 L1315.6,879.5 L1316.6,878.9 L1317.6,878.8 L1318.6,878.6 L1319.6,879.4 L1320.6,879.3 L1321.6,879.7 L1322.6,879.7 L1323.6,878.7 L1324.6,879.0 L1325.6,878.4 L1326.6,878.2 L1327.6,878.2 L1328.6,879.3 L1329.6,879.5 L1330.6,879.6 L1331.6,878.9 L1332.6,879.1 L1333.6,879.4 L1334.6,878.9 L1335.6,879.1 L1336.6,878.6 L1337.6,878.3 L1338.6,878.5 L1339.6,879.4 L1340.6,879.2 L1341.6,879.6 L1342.6,879.1 L1343.6,878.7 L1344.6,879.3 L1345.6,879.5 L1346.6,878.5 L1347.6,879.1 L1348.6,878.5 L1349.6,878.3 L1350.6,879.4 L1351.6,878.4 L1352.6,878.5 L1353.6,879.6 L1354.6,879.0 L1355.6,878.5 L1356.6,878.4 L1357.6,878.5" fill="none" stroke="#808080" stroke-width="1.4" stroke-linejoin="round"/>
<path d="M1089.6,918.5 L1090.6,918.7 L1091.6,917.6 L1092.6,917.4 L1093.6,918.3 L1094.6,918.3 L1095.6,918.3 L1096.6,917.8 L1097.6,918.1 L1098.6,918.2 L1099.6,918.1 L1100.6,917.6 L1101.6,917.8 L1102.6,917.8 L1103.6,918.2 L1104.6,918.6 L1105.6,918.7 L1106.6,918.2 L1107.6,918.0 L1108.6,917.7 L1109.6,917.4 L1110.6,917.3 L1111.6,917.8 L1112.6,917.7 L1113.6,917.8 L1114.6,918.4 L1115.6,918.1 L1116.6,918.1 L1117.6,917.7 L1118.6,917.4 L1119.6,917.6 L1120.6,917.5 L1121.6,917.9 L1122.6,918.6 L1123.6,918.4 L1124.6,917.7 L1125.6,918.4 L1126.6,918.5 L1127.6,918.4 L1128.6,918.6 L1129.6,918.5 L1130.6,918.5 L1131.6,917.9 L1132.6,918.6 L1133.6,918.7 L1134.6,917.8 L1135.6,918.2 L1136.6,918.3 L1137.6,918.0 L1138.6,918.0 L1139.6,918.0 L1140.6,918.5 L1141.6,918.1 L1142.6,918.4 L1143.6,917.9 L1144.6,918.4 L1145.6,918.6 L1146.6,918.1 L1147.6,918.1 L1148.6,918.5 L1149.6,918.4 L1150.6,918.1 L1151.6,917.7 L1152.6,917.7 L1153.6,918.2 L1154.6,917.6 L1155.6,918.4 L1156.6,917.8 L1157.6,918.4 L1158.6,917.9 L1159.6,918.5 L1160.6,918.4 L1161.6,918.1 L1162.6,918.0 L1163.6,918.2 L1164.6,918.2 L1165.6,917.8 L1166.6,917.6 L1167.6,917.9 L1168.6,918.5 L1169.6,918.3 L1170.6,917.6 L1171.6,918.3 L1172.6,918.3 L1173.6,918.6 L1174.6,917.8 L1175.6,918.2 L1176.6,917.5 L1177.6,918.1 L1178.6,917.7 L1179.6,917.6 L1180.6,918.4 L1181.6,917.6 L1182.6,917.9 L1183.6,918.4 L1184.6,917.8 L1185.6,917.6 L1186.6,918.4 L1187.6,918.0 L1188.6,918.3 L1189.6,917.5 L1190.6,917.7 L1191.6,917.5 L1192.6,918.1 L1193.6,917.5 L1194.6,918.4 L1195.6,917.5 L1196.6,918.2 L1197.6,917.5 L1198.6,917.6 L1199.6,918.3 L1200.6,917.7 L1201.6,917.5 L1202.6,918.1 L1203.6,917.9 L1204.6,917.4 L1205.6,918.4 L1206.6,917.7 L1207.6,917.4 L1208.6,917.7 L1209.6,918.1 L1210.6,918.3 L1211.6,917.6 L1212.6,917.7 L1213.6,917.4 L1214.6,917.8 L1215.6,918.3 L1216.6,918.4 L1217.6,918.6 L1218.6,918.4 L1219.6,918.5 L1220.6,918.4 L1221.6,918.1 L1222.6,917.7 L1223.6,918.1 L1224.6,917.8 L1225.6,917.5 L1226.6,917.8 L1227.6,918.4 L1228.6,917.7 L1229.6,918.0 L1230.6,917.9 L1231.6,918.0 L1232.6,917.6 L1233.6,918.4 L1234.6,917.8 L1235.6,918.1 L1236.6,917.9 L1237.6,917.4 L1238.6,917.9 L1239.6,917.5 L1240.6,917.4 L1241.6,917.3 L1242.6,917.4 L1243.6,917.4 L1244.6,918.0 L1245.6,918.0 L1246.6,918.6 L1247.6,918.7 L1248.6,918.8 L1249.6,917.9 L1250.6,917.9 L1251.6,917.7 L1252.6,918.0 L1253.6,918.2 L1254.6,918.4 L1255.6,918.4 L1256.6,917.8 L1257.6,917.9 L1258.6,918.0 L1259.6,917.4 L1260.6,917.3 L1261.6,917.7 L1262.6,917.5 L1263.6,918.1 L1264.6,917.7 L1265.6,917.5 L1266.6,917.5 L1267.6,917.5 L1268.6,917.5 L1269.6,917.9 L1270.6,917.9 L1271.6,917.8 L1272.6,918.1 L1273.6,917.7 L1274.6,918.4 L1275.6,918.7 L1276.6,918.4 L1277.6,918.0 L1278.6,918.0 L1279.6,918.1 L1280.6,917.5 L1281.6,917.8 L1282.6,918.0 L1283.6,917.6 L1284.6,917.4 L1285.6,918.2 L1286.6,917.9 L1287.6,918.0 L1288.6,918.5 L1289.6,918.3 L1290.6,917.8 L1291.6,918.5 L1292.6,918.0 L1293.6,917.4 L1294.6,918.1 L1295.6,917.5 L1296.6,917.7 L1297.6,918.3 L1298.6,918.3 L1299.6,917.5 L1300.6,917.8 L1301.6,917.8 L1302.6,917.9 L1303.6,917.6 L1304.6,918.0 L1305.6,917.5 L1306.6,917.6 L1307.6,917.8 L1308.6,918.5 L1309.6,917.6 L1310.6,918.2 L1311.6,917.7 L1312.6,918.0 L1313.6,917.9 L1314.6,917.9 L1315.6,918.3 L1316.6,917.9 L1317.6,917.5 L1318.6,917.4 L1319.6,917.4 L1320.6,918.3 L1321.6,918.2 L1322.6,918.6 L1323.6,918.4 L1324.6,917.5 L1325.6,918.1 L1326.6,918.4 L1327.6,918.4 L1328.6,918.1 L1329.6,917.9 L1330.6,917.9 L1331.6,918.3 L1332.6,917.8 L1333.6,918.0 L1334.6,918.0 L1335.6,918.5 L1336.6,918.5 L1337.6,918.6 L1338.6,918.6 L1339.6,917.9 L1340.6,917.7 L1341.6,917.9 L1342.6,917.7 L1343.6,917.8 L1344.6,918.2 L1345.6,918.5 L1346.6,918.2 L1347.6,918.4 L1348.6,917.6 L1349.6,917.7 L1350.6,918.5 L1351.6,917.7 L1352.6,917.8 L1353.6,917.4 L1354.6,917.4 L1355.6,918.3 L1356.6,918.7 L1357.6,918.3" fill="none" stroke="#7a33c0" stroke-width="1.4" stroke-linejoin="round"/>
<path d="M1089.6,953.3 L1090.6,953.6 L1091.6,953.4 L1092.6,953.7 L1093.6,953.8 L1094.6,953.1 L1095.6,952.9 L1096.6,953.8 L1097.6,953.4 L1098.6,953.2 L1099.6,954.1 L1100.6,953.7 L1101.6,954.0 L1102.6,953.7 L1103.6,953.8 L1104.6,953.2 L1105.6,953.7 L1106.6,954.1 L1107.6,953.7 L1108.6,953.9 L1109.6,953.9 L1110.6,953.1 L1111.6,953.8 L1112.6,953.8 L1113.6,953.4 L1114.6,953.0 L1115.6,953.9 L1116.6,953.6 L1117.6,953.9 L1118.6,954.1 L1119.6,954.0 L1120.6,954.2 L1121.6,953.6 L1122.6,954.0 L1123.6,953.6 L1124.6,954.1 L1125.6,954.2 L1126.6,953.3 L1127.6,953.1 L1128.6,953.1 L1129.6,954.0 L1130.6,953.6 L1131.6,953.8 L1132.6,953.4 L1133.6,953.6 L1134.6,953.5 L1135.6,953.4 L1136.6,953.6 L1137.6,953.7 L1138.6,954.1 L1139.6,953.9 L1140.6,954.2 L1141.6,954.2 L1142.6,954.3 L1143.6,954.0 L1144.6,953.3 L1145.6,954.0 L1146.6,954.2 L1147.6,954.2 L1148.6,953.8 L1149.6,953.9 L1150.6,953.3 L1151.6,953.9 L1152.6,953.8 L1153.6,953.4 L1154.6,953.0 L1155.6,953.9 L1156.6,954.3 L1157.6,953.3 L1158.6,953.9 L1159.6,953.6 L1160.6,953.2 L1161.6,953.2 L1162.6,953.8 L1163.6,954.1 L1164.6,953.2 L1165.6,953.6 L1166.6,953.1 L1167.6,953.7 L1168.6,953.4 L1169.6,954.0 L1170.6,954.3 L1171.6,953.8 L1172.6,954.2 L1173.6,953.5 L1174.6,953.1 L1175.6,953.6 L1176.6,953.0 L1177.6,953.1 L1178.6,953.4 L1179.6,953.7 L1180.6,953.2 L1181.6,953.0 L1182.6,953.9 L1183.6,953.4 L1184.6,954.1 L1185.6,954.2 L1186.6,953.6 L1187.6,953.6 L1188.6,953.6 L1189.6,953.8 L1190.6,953.8 L1191.6,953.7 L1192.6,953.8 L1193.6,954.2 L1194.6,953.8 L1195.6,953.6 L1196.6,953.9 L1197.6,953.3 L1198.6,953.3 L1199.6,954.1 L1200.6,953.7 L1201.6,953.7 L1202.6,953.0 L1203.6,953.4 L1204.6,953.6 L1205.6,953.0 L1206.6,953.6 L1207.6,953.8 L1208.6,953.1 L1209.6,953.6 L1210.6,953.6 L1211.6,953.8 L1212.6,953.5 L1213.6,953.8 L1214.6,953.9 L1215.6,953.1 L1216.6,953.0 L1217.6,953.6 L1218.6,954.2 L1219.6,953.4 L1220.6,953.5 L1221.6,953.7 L1222.6,953.4 L1223.6,953.4 L1224.6,953.3 L1225.6,953.4 L1226.6,953.7 L1227.6,953.4 L1228.6,953.4 L1229.6,953.9 L1230.6,953.1 L1231.6,953.6 L1232.6,953.9 L1233.6,953.4 L1234.6,953.2 L1235.6,953.9 L1236.6,953.4 L1237.6,953.2 L1238.6,953.4 L1239.6,953.8 L1240.6,953.2 L1241.6,953.3 L1242.6,953.3 L1243.6,953.9 L1244.6,953.6 L1245.6,954.0 L1246.6,953.3 L1247.6,953.3 L1248.6,953.7 L1249.6,954.1 L1250.6,953.7 L1251.6,953.3 L1252.6,953.1 L1253.6,953.5 L1254.6,953.2 L1255.6,953.9 L1256.6,954.1 L1257.6,953.3 L1258.6,953.3 L1259.6,953.9 L1260.6,953.8 L1261.6,954.0 L1262.6,953.5 L1263.6,953.1 L1264.6,953.2 L1265.6,953.9 L1266.6,953.4 L1267.6,953.4 L1268.6,953.4 L1269.6,953.5 L1270.6,953.5 L1271.6,954.1 L1272.6,953.3 L1273.6,952.9 L1274.6,954.0 L1275.6,954.1 L1276.6,954.3 L1277.6,953.7 L1278.6,954.2 L1279.6,954.3 L1280.6,953.4 L1281.6,953.9 L1282.6,954.1 L1283.6,953.9 L1284.6,953.7 L1285.6,953.4 L1286.6,953.4 L1287.6,953.2 L1288.6,953.0 L1289.6,953.6 L1290.6,953.3 L1291.6,953.9 L1292.6,953.1 L1293.6,954.0 L1294.6,953.9 L1295.6,954.2 L1296.6,954.2 L1297.6,954.2 L1298.6,953.9 L1299.6,953.1 L1300.6,953.8 L1301.6,953.2 L1302.6,953.3 L1303.6,953.7 L1304.6,953.7 L1305.6,953.5 L1306.6,954.1 L1307.6,953.9 L1308.6,953.5 L1309.6,953.3 L1310.6,954.0 L1311.6,953.7 L1312.6,954.0 L1313.6,953.5 L1314.6,953.2 L1315.6,953.5 L1316.6,954.0 L1317.6,953.3 L1318.6,953.9 L1319.6,954.2 L1320.6,954.1 L1321.6,954.1 L1322.6,953.1 L1323.6,953.6 L1324.6,954.0 L1325.6,953.2 L1326.6,953.2 L1327.6,953.2 L1328.6,953.5 L1329.6,953.5 L1330.6,953.5 L1331.6,953.9 L1332.6,953.1 L1333.6,952.9 L1334.6,953.0 L1335.6,953.0 L1336.6,952.9 L1337.6,954.0 L1338.6,954.1 L1339.6,953.2 L1340.6,953.5 L1341.6,953.4 L1342.6,953.3 L1343.6,953.4 L1344.6,953.7 L1345.6,953.7 L1346.6,953.5 L1347.6,953.2 L1348.6,953.3 L1349.6,953.1 L1350.6,953.5 L1351.6,953.8 L1352.6,953.5 L1353.6,953.1 L1354.6,953.1 L1355.6,953.3 L1356.6,953.7 L1357.6,954.0" fill="none" stroke="#b040a0" stroke-width="1.4" stroke-linejoin="round"/>
<path d="M1089.6,985.8 L1090.6,985.5 L1091.6,985.9 L1092.6,985.6 L1093.6,985.3 L1094.6,985.9 L1095.6,986.9 L1096.6,987.0 L1097.6,987.0 L1098.6,986.0 L1099.6,986.3 L1100.6,985.9 L1101.6,985.6 L1102.6,985.4 L1103.6,985.6 L1104.6,986.9 L1105.6,987.0 L1106.6,987.0 L1107.6,987.0 L1108.6,985.9 L1109.6,985.9 L1110.6,986.4 L1111.6,986.7 L1112.6,987.1 L1113.6,987.2 L1114.6,985.8 L1115.6,986.4 L1116.6,986.6 L1117.6,986.4 L1118.6,985.7 L1119.6,986.1 L1120.6,985.5 L1121.6,986.9 L1122.6,987.1 L1123.6,986.6 L1124.6,986.0 L1125.6,987.0 L1126.6,986.6 L1127.6,987.1 L1128.6,987.1 L1129.6,986.5 L1130.6,986.2 L1131.6,986.5 L1132.6,986.2 L1133.6,985.7 L1134.6,985.8 L1135.6,986.7 L1136.6,985.6 L1137.6,985.3 L1138.6,986.3 L1139.6,985.9 L1140.6,986.3 L1141.6,986.2 L1142.6,986.0 L1143.6,987.1 L1144.6,986.0 L1145.6,986.1 L1146.6,985.7 L1147.6,986.4 L1148.6,985.9 L1149.6,985.9 L1150.6,986.7 L1151.6,986.1 L1152.6,986.3 L1153.6,987.0 L1154.6,985.8 L1155.6,985.4 L1156.6,985.6 L1157.6,986.6 L1158.6,986.6 L1159.6,985.9 L1160.6,985.9 L1161.6,985.6 L1162.6,986.1 L1163.6,985.4 L1164.6,986.4 L1165.6,987.0 L1166.6,987.3 L1167.6,987.0 L1168.6,987.3 L1169.6,985.7 L1170.6,985.8 L1171.6,987.0 L1172.6,987.0 L1173.6,986.3 L1174.6,987.1 L1175.6,986.7 L1176.6,987.0 L1177.6,986.1 L1178.6,985.7 L1179.6,986.0 L1180.6,985.6 L1181.6,985.9 L1182.6,987.0 L1183.6,986.2 L1184.6,985.4 L1185.6,985.3 L1186.6,985.4 L1187.6,986.6 L1188.6,986.1 L1189.6,985.9 L1190.6,985.5 L1191.6,987.0 L1192.6,986.3 L1193.6,985.8 L1194.6,985.4 L1195.6,985.3 L1196.6,985.4 L1197.6,986.4 L1198.6,985.7 L1199.6,985.3 L1200.6,986.0 L1201.6,985.8 L1202.6,987.1 L1203.6,985.8 L1204.6,986.2 L1205.6,986.8 L1206.6,986.3 L1207.6,987.2 L1208.6,986.5 L1209.6,985.9 L1210.6,986.0 L1211.6,985.4 L1212.6,985.9 L1213.6,985.8 L1214.6,986.9 L1215.6,987.0 L1216.6,986.5 L1217.6,985.5 L1218.6,985.7 L1219.6,985.7 L1220.6,985.6 L1221.6,985.6 L1222.6,986.8 L1223.6,985.8 L1224.6,985.4 L1225.6,986.8 L1226.6,986.6 L1227.6,987.2 L1228.6,986.4 L1229.6,987.0 L1230.6,986.8 L1231.6,986.9 L1232.6,986.9 L1233.6,986.4 L1234.6,985.6 L1235.6,985.6 L1236.6,986.8 L1237.6,987.1 L1238.6,987.3 L1239.6,986.2 L1240.6,986.6 L1241.6,986.9 L1242.6,986.7 L1243.6,987.0 L1244.6,986.5 L1245.6,986.6 L1246.6,986.7 L1247.6,986.0 L1248.6,987.0 L1249.6,987.3 L1250.6,985.8 L1251.6,987.0 L1252.6,987.3 L1253.6,986.9 L1254.6,985.6 L1255.6,986.8 L1256.6,985.8 L1257.6,987.0 L1258.6,986.8 L1259.6,985.6 L1260.6,985.5 L1261.6,986.4 L1262.6,986.4 L1263.6,986.8 L1264.6,987.2 L1265.6,986.0 L1266.6,985.3 L1267.6,986.8 L1268.6,985.6 L1269.6,986.8 L1270.6,985.7 L1271.6,986.7 L1272.6,986.9 L1273.6,987.1 L1274.6,986.6 L1275.6,987.1 L1276.6,986.0 L1277.6,986.5 L1278.6,986.1 L1279.6,986.9 L1280.6,987.0 L1281.6,986.4 L1282.6,986.4 L1283.6,985.5 L1284.6,985.3 L1285.6,986.2 L1286.6,986.3 L1287.6,986.9 L1288.6,986.7 L1289.6,985.7 L1290.6,985.9 L1291.6,986.7 L1292.6,986.4 L1293.6,985.5 L1294.6,986.7 L1295.6,987.0 L1296.6,985.7 L1297.6,986.2 L1298.6,986.1 L1299.6,986.8 L1300.6,986.1 L1301.6,985.8 L1302.6,986.1 L1303.6,987.1 L1304.6,985.8 L1305.6,985.5 L1306.6,986.3 L1307.6,987.0 L1308.6,986.5 L1309.6,986.2 L1310.6,986.9 L1311.6,987.0 L1312.6,985.7 L1313.6,986.8 L1314.6,985.9 L1315.6,985.8 L1316.6,986.8 L1317.6,986.3 L1318.6,986.8 L1319.6,985.8 L1320.6,986.9 L1321.6,985.9 L1322.6,985.6 L1323.6,986.1 L1324.6,986.0 L1325.6,986.3 L1326.6,987.0 L1327.6,986.9 L1328.6,985.6 L1329.6,985.8 L1330.6,986.2 L1331.6,986.3 L1332.6,986.7 L1333.6,986.4 L1334.6,985.6 L1335.6,985.7 L1336.6,986.8 L1337.6,986.2 L1338.6,986.7 L1339.6,987.3 L1340.6,986.8 L1341.6,986.7 L1342.6,986.6 L1343.6,986.0 L1344.6,987.0 L1345.6,986.4 L1346.6,987.1 L1347.6,986.1 L1348.6,986.9 L1349.6,987.0 L1350.6,986.7 L1351.6,986.3 L1352.6,985.7 L1353.6,986.6 L1354.6,986.1 L1355.6,986.6 L1356.6,985.7 L1357.6,985.4" fill="none" stroke="#1a2a9a" stroke-width="1.8" stroke-linejoin="round"/>
<text x="1101.60" y="785.30" font-size="13.3"><tspan fill="#454545" stroke="#454545" stroke-width="0.25">DMPO + B-Np(C<tspan font-size="10" dy="3.0">0</tspan><tspan dy="-3.0" font-size="1">&#8203;</tspan>/<tspan font-size="10" dy="-5.0">ER</tspan><tspan dy="5.0" font-size="1">&#8203;</tspan>Py) </tspan><tspan fill="#8b1a5c" stroke="#8b1a5c" stroke-width="0.2" font-weight="bold" font-style="italic">—pH 7.4</tspan></text>
<text x="1101.60" y="868.50" font-size="13.3"><tspan fill="#454545" stroke="#454545" stroke-width="0.25">DMPO + B-Np(C<tspan font-size="10" dy="3.0">0</tspan><tspan dy="-3.0" font-size="1">&#8203;</tspan>/<tspan font-size="10" dy="-5.0">ER</tspan><tspan dy="5.0" font-size="1">&#8203;</tspan>Py) </tspan><tspan fill="#4a9cf2" stroke="#4a9cf2" stroke-width="0.2" font-weight="bold" font-style="italic">—pH 5.0</tspan></text>
<text x="1101.60" y="909.10" font-size="13.3"><tspan fill="#454545" stroke="#454545" stroke-width="0.25">DMPO + B-Np(C<tspan font-size="10" dy="3.0">0</tspan><tspan dy="-3.0" font-size="1">&#8203;</tspan>) </tspan><tspan fill="#8b1a5c" stroke="#8b1a5c" stroke-width="0.2" font-weight="bold" font-style="italic">—pH 7.4</tspan></text>
<text x="1101.60" y="944.70" font-size="13.3"><tspan fill="#454545" stroke="#454545" stroke-width="0.25">DMPO + B-Np(<tspan font-size="10" dy="-5.0">ER</tspan><tspan dy="5.0" font-size="1">&#8203;</tspan>Py) </tspan><tspan fill="#8b1a5c" stroke="#8b1a5c" stroke-width="0.2" font-weight="bold" font-style="italic">—pH 7.4</tspan></text>
<text x="1101.60" y="977.40" font-size="13.3"><tspan fill="#454545" stroke="#454545" stroke-width="0.25">DMPO </tspan><tspan fill="#8b1a5c" stroke="#8b1a5c" stroke-width="0.2" font-weight="bold" font-style="italic">—pH 7.4</tspan></text>
</svg>
</body></html>
